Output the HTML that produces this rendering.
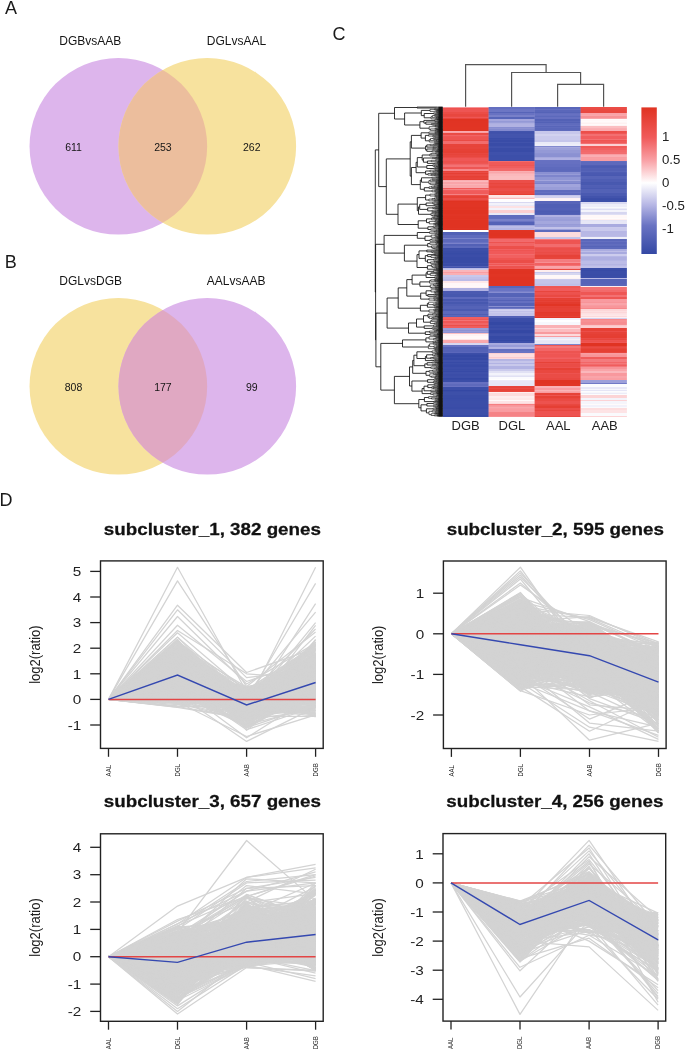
<!DOCTYPE html><html><head><meta charset="utf-8"><style>html,body{margin:0;padding:0;background:#fff;overflow:hidden}svg{display:block;filter:blur(0.3px)}text{font-family:"Liberation Sans", sans-serif}</style></head><body>
<svg width="685" height="1051" viewBox="0 0 685 1051">
<rect width="685" height="1051" fill="#fff"/>
<text x="4.9" y="14" font-size="18" fill="#1a1a1a" text-anchor="start" font-weight="normal" >A</text>
<text x="4.8" y="268" font-size="18" fill="#1a1a1a" text-anchor="start" font-weight="normal" >B</text>
<text x="332.5" y="40.2" font-size="18" fill="#1a1a1a" text-anchor="start" font-weight="normal" >C</text>
<text x="-0.5" y="505.9" font-size="18" fill="#1a1a1a" text-anchor="start" font-weight="normal" >D</text>
<ellipse cx="118.35" cy="146.3" rx="88.8" ry="88.3" fill="#ddb5ec"/>
<ellipse cx="207.3" cy="146.3" rx="88.8" ry="88.3" fill="#f7e29e"/>
<clipPath id="cp146"><ellipse cx="118.35" cy="146.3" rx="88.8" ry="88.3"/></clipPath>
<ellipse cx="207.3" cy="146.3" rx="88.8" ry="88.3" fill="#ecbe9d" clip-path="url(#cp146)"/>
<text x="59.3" y="45.10000000000001" font-size="12" fill="#151515" text-anchor="start" font-weight="normal" >DGBvsAAB</text>
<text x="206.8" y="45.10000000000001" font-size="12" fill="#151515" text-anchor="start" font-weight="normal" >DGLvsAAL</text>
<text x="73.5" y="150.9" font-size="10.5" fill="#151515" text-anchor="middle" font-weight="normal" >611</text>
<text x="162.9" y="150.9" font-size="10.5" fill="#151515" text-anchor="middle" font-weight="normal" >253</text>
<text x="251.8" y="150.9" font-size="10.5" fill="#151515" text-anchor="middle" font-weight="normal" >262</text>
<ellipse cx="118.35" cy="386.3" rx="88.8" ry="88.3" fill="#f7e29e"/>
<ellipse cx="207.3" cy="386.3" rx="88.8" ry="88.3" fill="#ddb5ec"/>
<clipPath id="cp386"><ellipse cx="118.35" cy="386.3" rx="88.8" ry="88.3"/></clipPath>
<ellipse cx="207.3" cy="386.3" rx="88.8" ry="88.3" fill="#e0a8c2" clip-path="url(#cp386)"/>
<text x="59.3" y="285.1" font-size="12" fill="#151515" text-anchor="start" font-weight="normal" >DGLvsDGB</text>
<text x="206.8" y="285.1" font-size="12" fill="#151515" text-anchor="start" font-weight="normal" >AALvsAAB</text>
<text x="73.5" y="390.90000000000003" font-size="10.5" fill="#151515" text-anchor="middle" font-weight="normal" >808</text>
<text x="162.9" y="390.90000000000003" font-size="10.5" fill="#151515" text-anchor="middle" font-weight="normal" >177</text>
<text x="251.8" y="390.90000000000003" font-size="10.5" fill="#151515" text-anchor="middle" font-weight="normal" >99</text>
<rect x="442.60" y="107" width="46.30" height="1" fill="rgb(248, 149, 153)"/>
<rect x="442.60" y="108" width="46.30" height="1" fill="rgb(237, 82, 78)"/>
<rect x="442.60" y="109" width="46.30" height="3" fill="rgb(238, 85, 83)"/>
<rect x="442.60" y="112" width="46.30" height="2" fill="rgb(235, 77, 71)"/>
<rect x="442.60" y="114" width="46.30" height="2" fill="rgb(232, 71, 63)"/>
<rect x="442.60" y="116" width="46.30" height="1" fill="rgb(233, 74, 67)"/>
<rect x="442.60" y="117" width="46.30" height="1" fill="rgb(238, 86, 84)"/>
<rect x="442.60" y="118" width="46.30" height="1" fill="rgb(231, 69, 60)"/>
<rect x="442.60" y="119" width="46.30" height="2" fill="rgb(224, 51, 34)"/>
<rect x="442.60" y="121" width="46.30" height="2" fill="rgb(224, 52, 36)"/>
<rect x="442.60" y="123" width="46.30" height="3" fill="rgb(225, 52, 36)"/>
<rect x="442.60" y="126" width="46.30" height="1" fill="rgb(225, 52, 36)"/>
<rect x="442.60" y="127" width="46.30" height="2" fill="rgb(225, 53, 36)"/>
<rect x="442.60" y="129" width="46.30" height="1" fill="rgb(225, 53, 36)"/>
<rect x="442.60" y="130" width="46.30" height="1" fill="rgb(224, 51, 34)"/>
<rect x="442.60" y="131" width="46.30" height="1" fill="rgb(250, 170, 174)"/>
<rect x="442.60" y="132" width="46.30" height="1" fill="rgb(249, 160, 165)"/>
<rect x="442.60" y="133" width="46.30" height="1" fill="rgb(234, 75, 68)"/>
<rect x="442.60" y="134" width="46.30" height="1" fill="rgb(235, 77, 72)"/>
<rect x="442.60" y="135" width="46.30" height="1" fill="rgb(241, 100, 100)"/>
<rect x="442.60" y="136" width="46.30" height="1" fill="rgb(239, 87, 86)"/>
<rect x="442.60" y="137" width="46.30" height="3" fill="rgb(238, 85, 82)"/>
<rect x="442.60" y="140" width="46.30" height="1" fill="rgb(234, 75, 69)"/>
<rect x="442.60" y="141" width="46.30" height="3" fill="rgb(242, 108, 109)"/>
<rect x="442.60" y="144" width="46.30" height="2" fill="rgb(231, 68, 59)"/>
<rect x="442.60" y="146" width="46.30" height="1" fill="rgb(231, 67, 57)"/>
<rect x="442.60" y="147" width="46.30" height="1" fill="rgb(231, 69, 60)"/>
<rect x="442.60" y="148" width="46.30" height="1" fill="rgb(231, 68, 59)"/>
<rect x="442.60" y="149" width="46.30" height="2" fill="rgb(230, 65, 54)"/>
<rect x="442.60" y="151" width="46.30" height="2" fill="rgb(229, 64, 52)"/>
<rect x="442.60" y="153" width="46.30" height="1" fill="rgb(232, 71, 63)"/>
<rect x="442.60" y="154" width="46.30" height="1" fill="rgb(231, 68, 58)"/>
<rect x="442.60" y="155" width="46.30" height="2" fill="rgb(232, 71, 63)"/>
<rect x="442.60" y="157" width="46.30" height="1" fill="rgb(235, 78, 73)"/>
<rect x="442.60" y="158" width="46.30" height="3" fill="rgb(239, 87, 86)"/>
<rect x="442.60" y="161" width="46.30" height="1" fill="rgb(237, 82, 78)"/>
<rect x="442.60" y="162" width="46.30" height="1" fill="rgb(237, 83, 79)"/>
<rect x="442.60" y="163" width="46.30" height="1" fill="rgb(238, 86, 84)"/>
<rect x="442.60" y="164" width="46.30" height="1" fill="rgb(241, 101, 102)"/>
<rect x="442.60" y="165" width="46.30" height="2" fill="rgb(243, 114, 116)"/>
<rect x="442.60" y="167" width="46.30" height="2" fill="rgb(238, 86, 84)"/>
<rect x="442.60" y="169" width="46.30" height="2" fill="rgb(246, 137, 140)"/>
<rect x="442.60" y="171" width="46.30" height="1" fill="rgb(231, 68, 58)"/>
<rect x="442.60" y="172" width="46.30" height="1" fill="rgb(234, 75, 69)"/>
<rect x="442.60" y="173" width="46.30" height="1" fill="rgb(229, 63, 52)"/>
<rect x="442.60" y="174" width="46.30" height="2" fill="rgb(233, 72, 64)"/>
<rect x="442.60" y="176" width="46.30" height="1" fill="rgb(229, 64, 52)"/>
<rect x="442.60" y="177" width="46.30" height="1" fill="rgb(230, 66, 55)"/>
<rect x="442.60" y="178" width="46.30" height="1" fill="rgb(231, 68, 59)"/>
<rect x="442.60" y="179" width="46.30" height="1" fill="rgb(229, 64, 53)"/>
<rect x="442.60" y="180" width="46.30" height="1" fill="rgb(250, 173, 177)"/>
<rect x="442.60" y="181" width="46.30" height="1" fill="rgb(251, 184, 188)"/>
<rect x="442.60" y="182" width="46.30" height="2" fill="rgb(249, 164, 169)"/>
<rect x="442.60" y="184" width="46.30" height="1" fill="rgb(250, 178, 182)"/>
<rect x="442.60" y="185" width="46.30" height="3" fill="rgb(249, 168, 172)"/>
<rect x="442.60" y="188" width="46.30" height="1" fill="rgb(240, 91, 91)"/>
<rect x="442.60" y="189" width="46.30" height="1" fill="rgb(245, 128, 130)"/>
<rect x="442.60" y="190" width="46.30" height="1" fill="rgb(241, 95, 96)"/>
<rect x="442.60" y="191" width="46.30" height="3" fill="rgb(240, 91, 91)"/>
<rect x="442.60" y="194" width="46.30" height="1" fill="rgb(245, 129, 131)"/>
<rect x="442.60" y="195" width="46.30" height="1" fill="rgb(234, 75, 69)"/>
<rect x="442.60" y="196" width="46.30" height="2" fill="rgb(230, 65, 54)"/>
<rect x="442.60" y="198" width="46.30" height="2" fill="rgb(234, 77, 71)"/>
<rect x="442.60" y="200" width="46.30" height="1" fill="rgb(229, 64, 53)"/>
<rect x="442.60" y="201" width="46.30" height="1" fill="rgb(224, 51, 34)"/>
<rect x="442.60" y="202" width="46.30" height="2" fill="rgb(225, 53, 36)"/>
<rect x="442.60" y="204" width="46.30" height="3" fill="rgb(225, 53, 37)"/>
<rect x="442.60" y="207" width="46.30" height="2" fill="rgb(224, 52, 35)"/>
<rect x="442.60" y="209" width="46.30" height="1" fill="rgb(225, 53, 36)"/>
<rect x="442.60" y="210" width="46.30" height="3" fill="rgb(224, 51, 34)"/>
<rect x="442.60" y="213" width="46.30" height="1" fill="rgb(224, 51, 34)"/>
<rect x="442.60" y="214" width="46.30" height="2" fill="rgb(225, 53, 37)"/>
<rect x="442.60" y="216" width="46.30" height="2" fill="rgb(224, 52, 35)"/>
<rect x="442.60" y="218" width="46.30" height="1" fill="rgb(224, 51, 34)"/>
<rect x="442.60" y="219" width="46.30" height="1" fill="rgb(225, 53, 36)"/>
<rect x="442.60" y="220" width="46.30" height="2" fill="rgb(224, 51, 34)"/>
<rect x="442.60" y="222" width="46.30" height="2" fill="rgb(224, 51, 34)"/>
<rect x="442.60" y="224" width="46.30" height="2" fill="rgb(224, 51, 34)"/>
<rect x="442.60" y="226" width="46.30" height="1" fill="rgb(224, 51, 34)"/>
<rect x="442.60" y="227" width="46.30" height="1" fill="rgb(224, 51, 34)"/>
<rect x="442.60" y="228" width="46.30" height="1" fill="rgb(225, 53, 37)"/>
<rect x="442.60" y="229" width="46.30" height="1" fill="rgb(224, 51, 34)"/>
<rect x="442.60" y="230" width="46.30" height="2" fill="rgb(255, 255, 255)"/>
<rect x="442.60" y="232" width="46.30" height="1" fill="rgb(81, 96, 181)"/>
<rect x="442.60" y="233" width="46.30" height="2" fill="rgb(83, 97, 182)"/>
<rect x="442.60" y="235" width="46.30" height="2" fill="rgb(95, 107, 189)"/>
<rect x="442.60" y="237" width="46.30" height="1" fill="rgb(95, 107, 189)"/>
<rect x="442.60" y="238" width="46.30" height="1" fill="rgb(123, 131, 203)"/>
<rect x="442.60" y="239" width="46.30" height="3" fill="rgb(94, 106, 188)"/>
<rect x="442.60" y="242" width="46.30" height="1" fill="rgb(104, 114, 194)"/>
<rect x="442.60" y="243" width="46.30" height="1" fill="rgb(122, 129, 202)"/>
<rect x="442.60" y="244" width="46.30" height="2" fill="rgb(83, 97, 182)"/>
<rect x="442.60" y="246" width="46.30" height="2" fill="rgb(92, 105, 187)"/>
<rect x="442.60" y="248" width="46.30" height="1" fill="rgb(59, 77, 168)"/>
<rect x="442.60" y="249" width="46.30" height="2" fill="rgb(61, 79, 169)"/>
<rect x="442.60" y="251" width="46.30" height="2" fill="rgb(58, 77, 167)"/>
<rect x="442.60" y="253" width="46.30" height="1" fill="rgb(55, 75, 166)"/>
<rect x="442.60" y="254" width="46.30" height="1" fill="rgb(57, 76, 167)"/>
<rect x="442.60" y="255" width="46.30" height="2" fill="rgb(59, 77, 168)"/>
<rect x="442.60" y="257" width="46.30" height="1" fill="rgb(56, 75, 166)"/>
<rect x="442.60" y="258" width="46.30" height="3" fill="rgb(56, 75, 166)"/>
<rect x="442.60" y="261" width="46.30" height="2" fill="rgb(56, 75, 166)"/>
<rect x="442.60" y="263" width="46.30" height="1" fill="rgb(61, 79, 169)"/>
<rect x="442.60" y="264" width="46.30" height="2" fill="rgb(57, 76, 167)"/>
<rect x="442.60" y="266" width="46.30" height="1" fill="rgb(82, 96, 181)"/>
<rect x="442.60" y="267" width="46.30" height="1" fill="rgb(65, 83, 172)"/>
<rect x="442.60" y="268" width="46.30" height="1" fill="rgb(187, 187, 231)"/>
<rect x="442.60" y="269" width="46.30" height="1" fill="rgb(200, 200, 235)"/>
<rect x="442.60" y="270" width="46.30" height="2" fill="rgb(250, 182, 186)"/>
<rect x="442.60" y="272" width="46.30" height="1" fill="rgb(249, 158, 163)"/>
<rect x="442.60" y="273" width="46.30" height="2" fill="rgb(250, 175, 179)"/>
<rect x="442.60" y="275" width="46.30" height="2" fill="rgb(200, 200, 235)"/>
<rect x="442.60" y="277" width="46.30" height="2" fill="rgb(193, 193, 233)"/>
<rect x="442.60" y="279" width="46.30" height="2" fill="rgb(187, 187, 231)"/>
<rect x="442.60" y="281" width="46.30" height="2" fill="rgb(254, 232, 234)"/>
<rect x="442.60" y="283" width="46.30" height="3" fill="rgb(255, 247, 248)"/>
<rect x="442.60" y="286" width="46.30" height="1" fill="rgb(255, 249, 250)"/>
<rect x="442.60" y="287" width="46.30" height="1" fill="rgb(254, 242, 243)"/>
<rect x="442.60" y="288" width="46.30" height="3" fill="rgb(176, 177, 226)"/>
<rect x="442.60" y="291" width="46.30" height="3" fill="rgb(75, 90, 177)"/>
<rect x="442.60" y="294" width="46.30" height="3" fill="rgb(71, 88, 175)"/>
<rect x="442.60" y="297" width="46.30" height="2" fill="rgb(94, 106, 189)"/>
<rect x="442.60" y="299" width="46.30" height="1" fill="rgb(72, 88, 176)"/>
<rect x="442.60" y="300" width="46.30" height="1" fill="rgb(73, 89, 176)"/>
<rect x="442.60" y="301" width="46.30" height="1" fill="rgb(82, 96, 182)"/>
<rect x="442.60" y="302" width="46.30" height="2" fill="rgb(71, 88, 175)"/>
<rect x="442.60" y="304" width="46.30" height="2" fill="rgb(79, 94, 180)"/>
<rect x="442.60" y="306" width="46.30" height="3" fill="rgb(85, 99, 183)"/>
<rect x="442.60" y="309" width="46.30" height="2" fill="rgb(75, 91, 178)"/>
<rect x="442.60" y="311" width="46.30" height="3" fill="rgb(92, 105, 188)"/>
<rect x="442.60" y="314" width="46.30" height="1" fill="rgb(79, 94, 180)"/>
<rect x="442.60" y="315" width="46.30" height="1" fill="rgb(91, 104, 187)"/>
<rect x="442.60" y="316" width="46.30" height="1" fill="rgb(87, 101, 185)"/>
<rect x="442.60" y="317" width="46.30" height="2" fill="rgb(241, 95, 96)"/>
<rect x="442.60" y="319" width="46.30" height="1" fill="rgb(239, 87, 86)"/>
<rect x="442.60" y="320" width="46.30" height="1" fill="rgb(243, 115, 117)"/>
<rect x="442.60" y="321" width="46.30" height="2" fill="rgb(239, 88, 87)"/>
<rect x="442.60" y="323" width="46.30" height="2" fill="rgb(241, 101, 102)"/>
<rect x="442.60" y="325" width="46.30" height="1" fill="rgb(235, 79, 74)"/>
<rect x="442.60" y="326" width="46.30" height="2" fill="rgb(240, 93, 93)"/>
<rect x="442.60" y="328" width="46.30" height="2" fill="rgb(154, 158, 216)"/>
<rect x="442.60" y="330" width="46.30" height="1" fill="rgb(139, 145, 210)"/>
<rect x="442.60" y="331" width="46.30" height="1" fill="rgb(150, 154, 215)"/>
<rect x="442.60" y="332" width="46.30" height="1" fill="rgb(140, 146, 210)"/>
<rect x="442.60" y="333" width="46.30" height="1" fill="rgb(251, 191, 194)"/>
<rect x="442.60" y="334" width="46.30" height="2" fill="rgb(254, 242, 243)"/>
<rect x="442.60" y="336" width="46.30" height="3" fill="rgb(255, 248, 248)"/>
<rect x="442.60" y="339" width="46.30" height="1" fill="rgb(253, 229, 230)"/>
<rect x="442.60" y="340" width="46.30" height="2" fill="rgb(250, 169, 173)"/>
<rect x="442.60" y="342" width="46.30" height="1" fill="rgb(249, 167, 171)"/>
<rect x="442.60" y="343" width="46.30" height="2" fill="rgb(215, 215, 241)"/>
<rect x="442.60" y="345" width="46.30" height="2" fill="rgb(102, 113, 193)"/>
<rect x="442.60" y="347" width="46.30" height="2" fill="rgb(81, 96, 181)"/>
<rect x="442.60" y="349" width="46.30" height="3" fill="rgb(84, 98, 183)"/>
<rect x="442.60" y="352" width="46.30" height="1" fill="rgb(91, 103, 187)"/>
<rect x="442.60" y="353" width="46.30" height="1" fill="rgb(60, 78, 168)"/>
<rect x="442.60" y="354" width="46.30" height="1" fill="rgb(57, 76, 167)"/>
<rect x="442.60" y="355" width="46.30" height="2" fill="rgb(52, 72, 164)"/>
<rect x="442.60" y="357" width="46.30" height="1" fill="rgb(57, 76, 167)"/>
<rect x="442.60" y="358" width="46.30" height="1" fill="rgb(53, 73, 165)"/>
<rect x="442.60" y="359" width="46.30" height="1" fill="rgb(53, 73, 165)"/>
<rect x="442.60" y="360" width="46.30" height="2" fill="rgb(62, 80, 170)"/>
<rect x="442.60" y="362" width="46.30" height="1" fill="rgb(55, 74, 166)"/>
<rect x="442.60" y="363" width="46.30" height="1" fill="rgb(60, 79, 169)"/>
<rect x="442.60" y="364" width="46.30" height="1" fill="rgb(57, 76, 167)"/>
<rect x="442.60" y="365" width="46.30" height="2" fill="rgb(55, 74, 166)"/>
<rect x="442.60" y="367" width="46.30" height="2" fill="rgb(60, 78, 169)"/>
<rect x="442.60" y="369" width="46.30" height="1" fill="rgb(57, 76, 167)"/>
<rect x="442.60" y="370" width="46.30" height="1" fill="rgb(59, 78, 168)"/>
<rect x="442.60" y="371" width="46.30" height="1" fill="rgb(55, 74, 166)"/>
<rect x="442.60" y="372" width="46.30" height="2" fill="rgb(62, 80, 170)"/>
<rect x="442.60" y="374" width="46.30" height="2" fill="rgb(59, 77, 168)"/>
<rect x="442.60" y="376" width="46.30" height="2" fill="rgb(61, 79, 169)"/>
<rect x="442.60" y="378" width="46.30" height="1" fill="rgb(52, 72, 164)"/>
<rect x="442.60" y="379" width="46.30" height="1" fill="rgb(55, 74, 166)"/>
<rect x="442.60" y="380" width="46.30" height="2" fill="rgb(59, 78, 168)"/>
<rect x="442.60" y="382" width="46.30" height="2" fill="rgb(102, 112, 193)"/>
<rect x="442.60" y="384" width="46.30" height="2" fill="rgb(94, 106, 188)"/>
<rect x="442.60" y="386" width="46.30" height="1" fill="rgb(104, 114, 194)"/>
<rect x="442.60" y="387" width="46.30" height="3" fill="rgb(60, 79, 169)"/>
<rect x="442.60" y="390" width="46.30" height="1" fill="rgb(52, 72, 164)"/>
<rect x="442.60" y="391" width="46.30" height="1" fill="rgb(58, 77, 167)"/>
<rect x="442.60" y="392" width="46.30" height="3" fill="rgb(61, 80, 169)"/>
<rect x="442.60" y="395" width="46.30" height="3" fill="rgb(58, 77, 167)"/>
<rect x="442.60" y="398" width="46.30" height="1" fill="rgb(56, 76, 167)"/>
<rect x="442.60" y="399" width="46.30" height="2" fill="rgb(58, 77, 168)"/>
<rect x="442.60" y="401" width="46.30" height="3" fill="rgb(59, 78, 168)"/>
<rect x="442.60" y="404" width="46.30" height="3" fill="rgb(59, 77, 168)"/>
<rect x="442.60" y="407" width="46.30" height="2" fill="rgb(57, 76, 167)"/>
<rect x="442.60" y="409" width="46.30" height="3" fill="rgb(61, 79, 169)"/>
<rect x="442.60" y="412" width="46.30" height="1" fill="rgb(61, 79, 169)"/>
<rect x="442.60" y="413" width="46.30" height="2" fill="rgb(60, 79, 169)"/>
<rect x="442.60" y="415" width="46.30" height="1" fill="rgb(55, 75, 166)"/>
<rect x="442.60" y="416" width="46.30" height="1" fill="rgb(59, 78, 168)"/>
<rect x="488.60" y="107" width="46.30" height="2" fill="rgb(100, 111, 192)"/>
<rect x="488.60" y="109" width="46.30" height="3" fill="rgb(108, 118, 196)"/>
<rect x="488.60" y="112" width="46.30" height="1" fill="rgb(87, 100, 184)"/>
<rect x="488.60" y="113" width="46.30" height="2" fill="rgb(104, 114, 194)"/>
<rect x="488.60" y="115" width="46.30" height="2" fill="rgb(120, 128, 201)"/>
<rect x="488.60" y="117" width="46.30" height="2" fill="rgb(87, 101, 185)"/>
<rect x="488.60" y="119" width="46.30" height="2" fill="rgb(164, 166, 221)"/>
<rect x="488.60" y="121" width="46.30" height="1" fill="rgb(148, 153, 214)"/>
<rect x="488.60" y="122" width="46.30" height="1" fill="rgb(155, 159, 217)"/>
<rect x="488.60" y="123" width="46.30" height="1" fill="rgb(172, 174, 224)"/>
<rect x="488.60" y="124" width="46.30" height="3" fill="rgb(177, 178, 226)"/>
<rect x="488.60" y="127" width="46.30" height="1" fill="rgb(136, 142, 209)"/>
<rect x="488.60" y="128" width="46.30" height="1" fill="rgb(142, 147, 211)"/>
<rect x="488.60" y="129" width="46.30" height="2" fill="rgb(131, 138, 207)"/>
<rect x="488.60" y="131" width="46.30" height="1" fill="rgb(66, 84, 172)"/>
<rect x="488.60" y="132" width="46.30" height="1" fill="rgb(64, 81, 171)"/>
<rect x="488.60" y="133" width="46.30" height="1" fill="rgb(65, 82, 171)"/>
<rect x="488.60" y="134" width="46.30" height="1" fill="rgb(68, 85, 173)"/>
<rect x="488.60" y="135" width="46.30" height="3" fill="rgb(67, 84, 173)"/>
<rect x="488.60" y="138" width="46.30" height="1" fill="rgb(58, 77, 168)"/>
<rect x="488.60" y="139" width="46.30" height="1" fill="rgb(61, 79, 169)"/>
<rect x="488.60" y="140" width="46.30" height="1" fill="rgb(57, 76, 167)"/>
<rect x="488.60" y="141" width="46.30" height="1" fill="rgb(57, 76, 167)"/>
<rect x="488.60" y="142" width="46.30" height="1" fill="rgb(64, 82, 171)"/>
<rect x="488.60" y="143" width="46.30" height="3" fill="rgb(57, 76, 167)"/>
<rect x="488.60" y="146" width="46.30" height="1" fill="rgb(63, 81, 170)"/>
<rect x="488.60" y="147" width="46.30" height="1" fill="rgb(65, 83, 172)"/>
<rect x="488.60" y="148" width="46.30" height="2" fill="rgb(58, 77, 167)"/>
<rect x="488.60" y="150" width="46.30" height="2" fill="rgb(57, 76, 167)"/>
<rect x="488.60" y="152" width="46.30" height="3" fill="rgb(63, 81, 171)"/>
<rect x="488.60" y="155" width="46.30" height="2" fill="rgb(60, 79, 169)"/>
<rect x="488.60" y="157" width="46.30" height="3" fill="rgb(61, 79, 169)"/>
<rect x="488.60" y="160" width="46.30" height="1" fill="rgb(58, 77, 167)"/>
<rect x="488.60" y="161" width="46.30" height="1" fill="rgb(242, 108, 109)"/>
<rect x="488.60" y="162" width="46.30" height="3" fill="rgb(240, 90, 89)"/>
<rect x="488.60" y="165" width="46.30" height="1" fill="rgb(238, 86, 84)"/>
<rect x="488.60" y="166" width="46.30" height="2" fill="rgb(240, 94, 94)"/>
<rect x="488.60" y="168" width="46.30" height="1" fill="rgb(242, 104, 105)"/>
<rect x="488.60" y="169" width="46.30" height="2" fill="rgb(242, 105, 106)"/>
<rect x="488.60" y="171" width="46.30" height="1" fill="rgb(250, 174, 178)"/>
<rect x="488.60" y="172" width="46.30" height="1" fill="rgb(249, 166, 170)"/>
<rect x="488.60" y="173" width="46.30" height="1" fill="rgb(250, 176, 180)"/>
<rect x="488.60" y="174" width="46.30" height="2" fill="rgb(251, 184, 188)"/>
<rect x="488.60" y="176" width="46.30" height="3" fill="rgb(251, 189, 192)"/>
<rect x="488.60" y="179" width="46.30" height="1" fill="rgb(251, 187, 190)"/>
<rect x="488.60" y="180" width="46.30" height="3" fill="rgb(235, 78, 73)"/>
<rect x="488.60" y="183" width="46.30" height="1" fill="rgb(232, 70, 61)"/>
<rect x="488.60" y="184" width="46.30" height="2" fill="rgb(234, 74, 68)"/>
<rect x="488.60" y="186" width="46.30" height="2" fill="rgb(232, 70, 61)"/>
<rect x="488.60" y="188" width="46.30" height="1" fill="rgb(235, 77, 71)"/>
<rect x="488.60" y="189" width="46.30" height="2" fill="rgb(235, 78, 73)"/>
<rect x="488.60" y="191" width="46.30" height="3" fill="rgb(233, 72, 64)"/>
<rect x="488.60" y="194" width="46.30" height="1" fill="rgb(228, 62, 49)"/>
<rect x="488.60" y="195" width="46.30" height="2" fill="rgb(253, 229, 230)"/>
<rect x="488.60" y="197" width="46.30" height="1" fill="rgb(253, 219, 220)"/>
<rect x="488.60" y="198" width="46.30" height="1" fill="rgb(251, 186, 190)"/>
<rect x="488.60" y="199" width="46.30" height="3" fill="rgb(254, 254, 255)"/>
<rect x="488.60" y="202" width="46.30" height="1" fill="rgb(216, 216, 241)"/>
<rect x="488.60" y="203" width="46.30" height="2" fill="rgb(242, 242, 250)"/>
<rect x="488.60" y="205" width="46.30" height="1" fill="rgb(232, 232, 247)"/>
<rect x="488.60" y="206" width="46.30" height="2" fill="rgb(253, 225, 227)"/>
<rect x="488.60" y="208" width="46.30" height="2" fill="rgb(242, 242, 250)"/>
<rect x="488.60" y="210" width="46.30" height="3" fill="rgb(252, 207, 209)"/>
<rect x="488.60" y="213" width="46.30" height="2" fill="rgb(233, 233, 247)"/>
<rect x="488.60" y="215" width="46.30" height="3" fill="rgb(96, 108, 190)"/>
<rect x="488.60" y="218" width="46.30" height="1" fill="rgb(98, 110, 191)"/>
<rect x="488.60" y="219" width="46.30" height="2" fill="rgb(121, 129, 202)"/>
<rect x="488.60" y="221" width="46.30" height="1" fill="rgb(105, 115, 195)"/>
<rect x="488.60" y="222" width="46.30" height="2" fill="rgb(85, 98, 183)"/>
<rect x="488.60" y="224" width="46.30" height="1" fill="rgb(84, 98, 182)"/>
<rect x="488.60" y="225" width="46.30" height="1" fill="rgb(160, 163, 219)"/>
<rect x="488.60" y="226" width="46.30" height="2" fill="rgb(188, 188, 231)"/>
<rect x="488.60" y="228" width="46.30" height="2" fill="rgb(179, 180, 228)"/>
<rect x="488.60" y="230" width="46.30" height="1" fill="rgb(225, 53, 37)"/>
<rect x="488.60" y="231" width="46.30" height="2" fill="rgb(224, 52, 35)"/>
<rect x="488.60" y="233" width="46.30" height="2" fill="rgb(224, 51, 34)"/>
<rect x="488.60" y="235" width="46.30" height="1" fill="rgb(224, 51, 34)"/>
<rect x="488.60" y="236" width="46.30" height="1" fill="rgb(225, 52, 36)"/>
<rect x="488.60" y="237" width="46.30" height="1" fill="rgb(225, 53, 36)"/>
<rect x="488.60" y="238" width="46.30" height="1" fill="rgb(236, 80, 76)"/>
<rect x="488.60" y="239" width="46.30" height="2" fill="rgb(242, 105, 106)"/>
<rect x="488.60" y="241" width="46.30" height="1" fill="rgb(242, 107, 109)"/>
<rect x="488.60" y="242" width="46.30" height="1" fill="rgb(237, 83, 80)"/>
<rect x="488.60" y="243" width="46.30" height="3" fill="rgb(241, 101, 101)"/>
<rect x="488.60" y="246" width="46.30" height="2" fill="rgb(236, 80, 75)"/>
<rect x="488.60" y="248" width="46.30" height="1" fill="rgb(235, 79, 74)"/>
<rect x="488.60" y="249" width="46.30" height="1" fill="rgb(241, 96, 97)"/>
<rect x="488.60" y="250" width="46.30" height="1" fill="rgb(238, 84, 82)"/>
<rect x="488.60" y="251" width="46.30" height="3" fill="rgb(240, 89, 89)"/>
<rect x="488.60" y="254" width="46.30" height="1" fill="rgb(242, 107, 108)"/>
<rect x="488.60" y="255" width="46.30" height="3" fill="rgb(241, 96, 96)"/>
<rect x="488.60" y="258" width="46.30" height="2" fill="rgb(238, 85, 82)"/>
<rect x="488.60" y="260" width="46.30" height="3" fill="rgb(235, 77, 72)"/>
<rect x="488.60" y="263" width="46.30" height="1" fill="rgb(242, 103, 103)"/>
<rect x="488.60" y="264" width="46.30" height="1" fill="rgb(239, 87, 85)"/>
<rect x="488.60" y="265" width="46.30" height="1" fill="rgb(242, 109, 110)"/>
<rect x="488.60" y="266" width="46.30" height="2" fill="rgb(237, 82, 78)"/>
<rect x="488.60" y="268" width="46.30" height="1" fill="rgb(238, 86, 84)"/>
<rect x="488.60" y="269" width="46.30" height="1" fill="rgb(225, 52, 36)"/>
<rect x="488.60" y="270" width="46.30" height="1" fill="rgb(224, 52, 35)"/>
<rect x="488.60" y="271" width="46.30" height="3" fill="rgb(224, 51, 34)"/>
<rect x="488.60" y="274" width="46.30" height="2" fill="rgb(225, 53, 36)"/>
<rect x="488.60" y="276" width="46.30" height="1" fill="rgb(225, 52, 36)"/>
<rect x="488.60" y="277" width="46.30" height="1" fill="rgb(224, 51, 34)"/>
<rect x="488.60" y="278" width="46.30" height="3" fill="rgb(224, 51, 34)"/>
<rect x="488.60" y="281" width="46.30" height="3" fill="rgb(224, 51, 34)"/>
<rect x="488.60" y="284" width="46.30" height="1" fill="rgb(224, 51, 34)"/>
<rect x="488.60" y="285" width="46.30" height="1" fill="rgb(224, 51, 34)"/>
<rect x="488.60" y="286" width="46.30" height="2" fill="rgb(89, 102, 186)"/>
<rect x="488.60" y="288" width="46.30" height="1" fill="rgb(105, 115, 195)"/>
<rect x="488.60" y="289" width="46.30" height="2" fill="rgb(106, 116, 196)"/>
<rect x="488.60" y="291" width="46.30" height="1" fill="rgb(119, 127, 201)"/>
<rect x="488.60" y="292" width="46.30" height="1" fill="rgb(134, 140, 208)"/>
<rect x="488.60" y="293" width="46.30" height="2" fill="rgb(86, 100, 184)"/>
<rect x="488.60" y="295" width="46.30" height="2" fill="rgb(85, 99, 183)"/>
<rect x="488.60" y="297" width="46.30" height="1" fill="rgb(113, 122, 198)"/>
<rect x="488.60" y="298" width="46.30" height="2" fill="rgb(99, 110, 191)"/>
<rect x="488.60" y="300" width="46.30" height="1" fill="rgb(85, 98, 183)"/>
<rect x="488.60" y="301" width="46.30" height="2" fill="rgb(101, 112, 193)"/>
<rect x="488.60" y="303" width="46.30" height="3" fill="rgb(85, 99, 183)"/>
<rect x="488.60" y="306" width="46.30" height="1" fill="rgb(138, 144, 209)"/>
<rect x="488.60" y="307" width="46.30" height="1" fill="rgb(90, 103, 186)"/>
<rect x="488.60" y="308" width="46.30" height="1" fill="rgb(112, 122, 198)"/>
<rect x="488.60" y="309" width="46.30" height="1" fill="rgb(202, 202, 236)"/>
<rect x="488.60" y="310" width="46.30" height="1" fill="rgb(209, 209, 239)"/>
<rect x="488.60" y="311" width="46.30" height="1" fill="rgb(194, 194, 233)"/>
<rect x="488.60" y="312" width="46.30" height="1" fill="rgb(203, 203, 236)"/>
<rect x="488.60" y="313" width="46.30" height="3" fill="rgb(196, 196, 234)"/>
<rect x="488.60" y="316" width="46.30" height="1" fill="rgb(82, 96, 182)"/>
<rect x="488.60" y="317" width="46.30" height="1" fill="rgb(82, 97, 182)"/>
<rect x="488.60" y="318" width="46.30" height="2" fill="rgb(60, 79, 169)"/>
<rect x="488.60" y="320" width="46.30" height="2" fill="rgb(59, 77, 168)"/>
<rect x="488.60" y="322" width="46.30" height="3" fill="rgb(52, 72, 164)"/>
<rect x="488.60" y="325" width="46.30" height="1" fill="rgb(59, 78, 168)"/>
<rect x="488.60" y="326" width="46.30" height="1" fill="rgb(58, 77, 167)"/>
<rect x="488.60" y="327" width="46.30" height="1" fill="rgb(55, 74, 166)"/>
<rect x="488.60" y="328" width="46.30" height="1" fill="rgb(61, 79, 169)"/>
<rect x="488.60" y="329" width="46.30" height="1" fill="rgb(61, 79, 169)"/>
<rect x="488.60" y="330" width="46.30" height="1" fill="rgb(53, 72, 164)"/>
<rect x="488.60" y="331" width="46.30" height="2" fill="rgb(52, 72, 164)"/>
<rect x="488.60" y="333" width="46.30" height="1" fill="rgb(60, 78, 168)"/>
<rect x="488.60" y="334" width="46.30" height="2" fill="rgb(63, 81, 170)"/>
<rect x="488.60" y="336" width="46.30" height="3" fill="rgb(54, 74, 165)"/>
<rect x="488.60" y="339" width="46.30" height="1" fill="rgb(57, 76, 167)"/>
<rect x="488.60" y="340" width="46.30" height="1" fill="rgb(52, 72, 164)"/>
<rect x="488.60" y="341" width="46.30" height="1" fill="rgb(61, 79, 169)"/>
<rect x="488.60" y="342" width="46.30" height="1" fill="rgb(62, 80, 170)"/>
<rect x="488.60" y="343" width="46.30" height="1" fill="rgb(169, 171, 223)"/>
<rect x="488.60" y="344" width="46.30" height="1" fill="rgb(168, 170, 222)"/>
<rect x="488.60" y="345" width="46.30" height="2" fill="rgb(152, 156, 216)"/>
<rect x="488.60" y="347" width="46.30" height="1" fill="rgb(179, 180, 227)"/>
<rect x="488.60" y="348" width="46.30" height="1" fill="rgb(176, 177, 226)"/>
<rect x="488.60" y="349" width="46.30" height="2" fill="rgb(99, 110, 192)"/>
<rect x="488.60" y="351" width="46.30" height="2" fill="rgb(105, 115, 195)"/>
<rect x="488.60" y="353" width="46.30" height="1" fill="rgb(252, 207, 210)"/>
<rect x="488.60" y="354" width="46.30" height="3" fill="rgb(253, 222, 224)"/>
<rect x="488.60" y="357" width="46.30" height="1" fill="rgb(252, 203, 206)"/>
<rect x="488.60" y="358" width="46.30" height="1" fill="rgb(253, 215, 218)"/>
<rect x="488.60" y="359" width="46.30" height="1" fill="rgb(179, 180, 227)"/>
<rect x="488.60" y="360" width="46.30" height="1" fill="rgb(181, 182, 228)"/>
<rect x="488.60" y="361" width="46.30" height="2" fill="rgb(197, 197, 234)"/>
<rect x="488.60" y="363" width="46.30" height="1" fill="rgb(178, 179, 227)"/>
<rect x="488.60" y="364" width="46.30" height="2" fill="rgb(200, 200, 235)"/>
<rect x="488.60" y="366" width="46.30" height="2" fill="rgb(178, 179, 227)"/>
<rect x="488.60" y="368" width="46.30" height="1" fill="rgb(178, 179, 227)"/>
<rect x="488.60" y="369" width="46.30" height="1" fill="rgb(202, 202, 236)"/>
<rect x="488.60" y="370" width="46.30" height="1" fill="rgb(203, 203, 236)"/>
<rect x="488.60" y="371" width="46.30" height="2" fill="rgb(225, 225, 244)"/>
<rect x="488.60" y="373" width="46.30" height="2" fill="rgb(243, 243, 251)"/>
<rect x="488.60" y="375" width="46.30" height="1" fill="rgb(233, 233, 247)"/>
<rect x="488.60" y="376" width="46.30" height="1" fill="rgb(225, 225, 244)"/>
<rect x="488.60" y="377" width="46.30" height="2" fill="rgb(251, 251, 254)"/>
<rect x="488.60" y="379" width="46.30" height="1" fill="rgb(255, 254, 254)"/>
<rect x="488.60" y="380" width="46.30" height="1" fill="rgb(236, 236, 248)"/>
<rect x="488.60" y="381" width="46.30" height="2" fill="rgb(232, 232, 247)"/>
<rect x="488.60" y="383" width="46.30" height="3" fill="rgb(231, 231, 246)"/>
<rect x="488.60" y="386" width="46.30" height="2" fill="rgb(231, 69, 60)"/>
<rect x="488.60" y="388" width="46.30" height="1" fill="rgb(234, 76, 70)"/>
<rect x="488.60" y="389" width="46.30" height="2" fill="rgb(231, 67, 57)"/>
<rect x="488.60" y="391" width="46.30" height="1" fill="rgb(233, 72, 64)"/>
<rect x="488.60" y="392" width="46.30" height="1" fill="rgb(254, 238, 239)"/>
<rect x="488.60" y="393" width="46.30" height="3" fill="rgb(253, 219, 220)"/>
<rect x="488.60" y="396" width="46.30" height="2" fill="rgb(254, 237, 238)"/>
<rect x="488.60" y="398" width="46.30" height="2" fill="rgb(254, 232, 233)"/>
<rect x="488.60" y="400" width="46.30" height="1" fill="rgb(255, 250, 250)"/>
<rect x="488.60" y="401" width="46.30" height="2" fill="rgb(253, 228, 230)"/>
<rect x="488.60" y="403" width="46.30" height="1" fill="rgb(253, 217, 219)"/>
<rect x="488.60" y="404" width="46.30" height="1" fill="rgb(245, 127, 130)"/>
<rect x="488.60" y="405" width="46.30" height="1" fill="rgb(248, 150, 155)"/>
<rect x="488.60" y="406" width="46.30" height="1" fill="rgb(248, 155, 160)"/>
<rect x="488.60" y="407" width="46.30" height="1" fill="rgb(249, 167, 172)"/>
<rect x="488.60" y="408" width="46.30" height="1" fill="rgb(249, 160, 165)"/>
<rect x="488.60" y="409" width="46.30" height="2" fill="rgb(249, 157, 162)"/>
<rect x="488.60" y="411" width="46.30" height="1" fill="rgb(249, 156, 161)"/>
<rect x="488.60" y="412" width="46.30" height="1" fill="rgb(245, 132, 135)"/>
<rect x="488.60" y="413" width="46.30" height="3" fill="rgb(245, 131, 134)"/>
<rect x="488.60" y="416" width="46.30" height="1" fill="rgb(247, 143, 147)"/>
<rect x="534.60" y="107" width="46.30" height="2" fill="rgb(89, 102, 186)"/>
<rect x="534.60" y="109" width="46.30" height="1" fill="rgb(101, 112, 193)"/>
<rect x="534.60" y="110" width="46.30" height="2" fill="rgb(90, 103, 186)"/>
<rect x="534.60" y="112" width="46.30" height="1" fill="rgb(85, 99, 183)"/>
<rect x="534.60" y="113" width="46.30" height="1" fill="rgb(99, 110, 191)"/>
<rect x="534.60" y="114" width="46.30" height="1" fill="rgb(103, 113, 194)"/>
<rect x="534.60" y="115" width="46.30" height="1" fill="rgb(100, 111, 192)"/>
<rect x="534.60" y="116" width="46.30" height="1" fill="rgb(92, 105, 188)"/>
<rect x="534.60" y="117" width="46.30" height="2" fill="rgb(102, 112, 193)"/>
<rect x="534.60" y="119" width="46.30" height="2" fill="rgb(83, 97, 182)"/>
<rect x="534.60" y="121" width="46.30" height="1" fill="rgb(90, 103, 186)"/>
<rect x="534.60" y="122" width="46.30" height="1" fill="rgb(83, 97, 182)"/>
<rect x="534.60" y="123" width="46.30" height="2" fill="rgb(95, 107, 189)"/>
<rect x="534.60" y="125" width="46.30" height="1" fill="rgb(100, 111, 192)"/>
<rect x="534.60" y="126" width="46.30" height="1" fill="rgb(88, 101, 185)"/>
<rect x="534.60" y="127" width="46.30" height="1" fill="rgb(95, 107, 189)"/>
<rect x="534.60" y="128" width="46.30" height="2" fill="rgb(90, 103, 186)"/>
<rect x="534.60" y="130" width="46.30" height="1" fill="rgb(94, 106, 188)"/>
<rect x="534.60" y="131" width="46.30" height="3" fill="rgb(199, 199, 235)"/>
<rect x="534.60" y="134" width="46.30" height="2" fill="rgb(210, 210, 239)"/>
<rect x="534.60" y="136" width="46.30" height="3" fill="rgb(202, 202, 236)"/>
<rect x="534.60" y="139" width="46.30" height="1" fill="rgb(202, 202, 236)"/>
<rect x="534.60" y="140" width="46.30" height="2" fill="rgb(198, 198, 235)"/>
<rect x="534.60" y="142" width="46.30" height="2" fill="rgb(234, 234, 247)"/>
<rect x="534.60" y="144" width="46.30" height="2" fill="rgb(238, 238, 249)"/>
<rect x="534.60" y="146" width="46.30" height="1" fill="rgb(131, 138, 207)"/>
<rect x="534.60" y="147" width="46.30" height="1" fill="rgb(166, 168, 222)"/>
<rect x="534.60" y="148" width="46.30" height="2" fill="rgb(156, 160, 217)"/>
<rect x="534.60" y="150" width="46.30" height="3" fill="rgb(148, 153, 214)"/>
<rect x="534.60" y="153" width="46.30" height="1" fill="rgb(141, 147, 211)"/>
<rect x="534.60" y="154" width="46.30" height="3" fill="rgb(139, 145, 210)"/>
<rect x="534.60" y="157" width="46.30" height="1" fill="rgb(165, 167, 221)"/>
<rect x="534.60" y="158" width="46.30" height="2" fill="rgb(175, 176, 226)"/>
<rect x="534.60" y="160" width="46.30" height="1" fill="rgb(103, 113, 194)"/>
<rect x="534.60" y="161" width="46.30" height="3" fill="rgb(102, 112, 193)"/>
<rect x="534.60" y="164" width="46.30" height="3" fill="rgb(99, 110, 192)"/>
<rect x="534.60" y="167" width="46.30" height="2" fill="rgb(94, 106, 189)"/>
<rect x="534.60" y="169" width="46.30" height="2" fill="rgb(93, 105, 188)"/>
<rect x="534.60" y="171" width="46.30" height="1" fill="rgb(95, 107, 189)"/>
<rect x="534.60" y="172" width="46.30" height="2" fill="rgb(138, 144, 210)"/>
<rect x="534.60" y="174" width="46.30" height="1" fill="rgb(150, 155, 215)"/>
<rect x="534.60" y="175" width="46.30" height="2" fill="rgb(126, 133, 204)"/>
<rect x="534.60" y="177" width="46.30" height="3" fill="rgb(143, 149, 212)"/>
<rect x="534.60" y="180" width="46.30" height="1" fill="rgb(162, 165, 220)"/>
<rect x="534.60" y="181" width="46.30" height="2" fill="rgb(133, 140, 207)"/>
<rect x="534.60" y="183" width="46.30" height="1" fill="rgb(123, 130, 203)"/>
<rect x="534.60" y="184" width="46.30" height="3" fill="rgb(161, 164, 220)"/>
<rect x="534.60" y="187" width="46.30" height="3" fill="rgb(153, 157, 216)"/>
<rect x="534.60" y="190" width="46.30" height="1" fill="rgb(95, 107, 189)"/>
<rect x="534.60" y="191" width="46.30" height="1" fill="rgb(95, 107, 189)"/>
<rect x="534.60" y="192" width="46.30" height="1" fill="rgb(101, 112, 193)"/>
<rect x="534.60" y="193" width="46.30" height="2" fill="rgb(94, 106, 188)"/>
<rect x="534.60" y="195" width="46.30" height="1" fill="rgb(197, 197, 234)"/>
<rect x="534.60" y="196" width="46.30" height="2" fill="rgb(210, 210, 239)"/>
<rect x="534.60" y="198" width="46.30" height="1" fill="rgb(254, 242, 242)"/>
<rect x="534.60" y="199" width="46.30" height="2" fill="rgb(254, 245, 246)"/>
<rect x="534.60" y="201" width="46.30" height="3" fill="rgb(89, 102, 185)"/>
<rect x="534.60" y="204" width="46.30" height="3" fill="rgb(81, 96, 181)"/>
<rect x="534.60" y="207" width="46.30" height="1" fill="rgb(81, 96, 181)"/>
<rect x="534.60" y="208" width="46.30" height="2" fill="rgb(84, 98, 183)"/>
<rect x="534.60" y="210" width="46.30" height="1" fill="rgb(79, 94, 180)"/>
<rect x="534.60" y="211" width="46.30" height="1" fill="rgb(76, 91, 178)"/>
<rect x="534.60" y="212" width="46.30" height="1" fill="rgb(77, 93, 179)"/>
<rect x="534.60" y="213" width="46.30" height="1" fill="rgb(77, 92, 179)"/>
<rect x="534.60" y="214" width="46.30" height="1" fill="rgb(84, 98, 182)"/>
<rect x="534.60" y="215" width="46.30" height="2" fill="rgb(176, 177, 226)"/>
<rect x="534.60" y="217" width="46.30" height="2" fill="rgb(157, 161, 218)"/>
<rect x="534.60" y="219" width="46.30" height="2" fill="rgb(153, 157, 216)"/>
<rect x="534.60" y="221" width="46.30" height="3" fill="rgb(164, 167, 221)"/>
<rect x="534.60" y="224" width="46.30" height="1" fill="rgb(151, 155, 215)"/>
<rect x="534.60" y="225" width="46.30" height="2" fill="rgb(155, 159, 217)"/>
<rect x="534.60" y="227" width="46.30" height="2" fill="rgb(194, 194, 233)"/>
<rect x="534.60" y="229" width="46.30" height="1" fill="rgb(157, 161, 218)"/>
<rect x="534.60" y="230" width="46.30" height="2" fill="rgb(94, 106, 189)"/>
<rect x="534.60" y="232" width="46.30" height="1" fill="rgb(253, 218, 220)"/>
<rect x="534.60" y="233" width="46.30" height="2" fill="rgb(253, 219, 221)"/>
<rect x="534.60" y="235" width="46.30" height="2" fill="rgb(253, 219, 221)"/>
<rect x="534.60" y="237" width="46.30" height="1" fill="rgb(196, 196, 234)"/>
<rect x="534.60" y="238" width="46.30" height="1" fill="rgb(194, 194, 233)"/>
<rect x="534.60" y="239" width="46.30" height="1" fill="rgb(244, 120, 123)"/>
<rect x="534.60" y="240" width="46.30" height="2" fill="rgb(238, 84, 82)"/>
<rect x="534.60" y="242" width="46.30" height="2" fill="rgb(238, 85, 82)"/>
<rect x="534.60" y="244" width="46.30" height="3" fill="rgb(242, 108, 109)"/>
<rect x="534.60" y="247" width="46.30" height="1" fill="rgb(238, 86, 84)"/>
<rect x="534.60" y="248" width="46.30" height="2" fill="rgb(235, 79, 74)"/>
<rect x="534.60" y="250" width="46.30" height="2" fill="rgb(236, 81, 77)"/>
<rect x="534.60" y="252" width="46.30" height="1" fill="rgb(234, 76, 70)"/>
<rect x="534.60" y="253" width="46.30" height="1" fill="rgb(235, 79, 74)"/>
<rect x="534.60" y="254" width="46.30" height="1" fill="rgb(234, 76, 70)"/>
<rect x="534.60" y="255" width="46.30" height="2" fill="rgb(230, 66, 56)"/>
<rect x="534.60" y="257" width="46.30" height="2" fill="rgb(231, 69, 59)"/>
<rect x="534.60" y="259" width="46.30" height="1" fill="rgb(245, 128, 130)"/>
<rect x="534.60" y="260" width="46.30" height="2" fill="rgb(244, 124, 127)"/>
<rect x="534.60" y="262" width="46.30" height="1" fill="rgb(247, 143, 147)"/>
<rect x="534.60" y="263" width="46.30" height="2" fill="rgb(241, 97, 98)"/>
<rect x="534.60" y="265" width="46.30" height="1" fill="rgb(243, 112, 114)"/>
<rect x="534.60" y="266" width="46.30" height="2" fill="rgb(249, 165, 170)"/>
<rect x="534.60" y="268" width="46.30" height="1" fill="rgb(248, 154, 158)"/>
<rect x="534.60" y="269" width="46.30" height="1" fill="rgb(233, 74, 66)"/>
<rect x="534.60" y="270" width="46.30" height="2" fill="rgb(254, 238, 239)"/>
<rect x="534.60" y="272" width="46.30" height="1" fill="rgb(198, 198, 235)"/>
<rect x="534.60" y="273" width="46.30" height="2" fill="rgb(214, 214, 240)"/>
<rect x="534.60" y="275" width="46.30" height="3" fill="rgb(255, 248, 248)"/>
<rect x="534.60" y="278" width="46.30" height="1" fill="rgb(254, 243, 244)"/>
<rect x="534.60" y="279" width="46.30" height="1" fill="rgb(201, 201, 236)"/>
<rect x="534.60" y="280" width="46.30" height="3" fill="rgb(196, 196, 234)"/>
<rect x="534.60" y="283" width="46.30" height="1" fill="rgb(194, 194, 233)"/>
<rect x="534.60" y="284" width="46.30" height="1" fill="rgb(190, 190, 232)"/>
<rect x="534.60" y="285" width="46.30" height="1" fill="rgb(193, 193, 233)"/>
<rect x="534.60" y="286" width="46.30" height="1" fill="rgb(239, 87, 86)"/>
<rect x="534.60" y="287" width="46.30" height="1" fill="rgb(238, 86, 84)"/>
<rect x="534.60" y="288" width="46.30" height="3" fill="rgb(240, 91, 92)"/>
<rect x="534.60" y="291" width="46.30" height="1" fill="rgb(232, 70, 62)"/>
<rect x="534.60" y="292" width="46.30" height="2" fill="rgb(237, 82, 78)"/>
<rect x="534.60" y="294" width="46.30" height="1" fill="rgb(236, 80, 76)"/>
<rect x="534.60" y="295" width="46.30" height="2" fill="rgb(233, 73, 66)"/>
<rect x="534.60" y="297" width="46.30" height="1" fill="rgb(240, 90, 90)"/>
<rect x="534.60" y="298" width="46.30" height="1" fill="rgb(229, 64, 53)"/>
<rect x="534.60" y="299" width="46.30" height="1" fill="rgb(230, 66, 55)"/>
<rect x="534.60" y="300" width="46.30" height="1" fill="rgb(228, 61, 48)"/>
<rect x="534.60" y="301" width="46.30" height="1" fill="rgb(230, 66, 55)"/>
<rect x="534.60" y="302" width="46.30" height="2" fill="rgb(227, 59, 46)"/>
<rect x="534.60" y="304" width="46.30" height="2" fill="rgb(225, 53, 37)"/>
<rect x="534.60" y="306" width="46.30" height="1" fill="rgb(230, 65, 54)"/>
<rect x="534.60" y="307" width="46.30" height="1" fill="rgb(229, 63, 51)"/>
<rect x="534.60" y="308" width="46.30" height="2" fill="rgb(230, 66, 55)"/>
<rect x="534.60" y="310" width="46.30" height="2" fill="rgb(230, 65, 54)"/>
<rect x="534.60" y="312" width="46.30" height="1" fill="rgb(226, 57, 43)"/>
<rect x="534.60" y="313" width="46.30" height="3" fill="rgb(227, 59, 45)"/>
<rect x="534.60" y="316" width="46.30" height="1" fill="rgb(230, 65, 54)"/>
<rect x="534.60" y="317" width="46.30" height="1" fill="rgb(225, 54, 39)"/>
<rect x="534.60" y="318" width="46.30" height="2" fill="rgb(243, 243, 251)"/>
<rect x="534.60" y="320" width="46.30" height="2" fill="rgb(254, 254, 255)"/>
<rect x="534.60" y="322" width="46.30" height="3" fill="rgb(247, 247, 252)"/>
<rect x="534.60" y="325" width="46.30" height="3" fill="rgb(250, 176, 180)"/>
<rect x="534.60" y="328" width="46.30" height="1" fill="rgb(253, 217, 219)"/>
<rect x="534.60" y="329" width="46.30" height="3" fill="rgb(251, 188, 192)"/>
<rect x="534.60" y="332" width="46.30" height="2" fill="rgb(248, 154, 158)"/>
<rect x="534.60" y="334" width="46.30" height="2" fill="rgb(253, 217, 219)"/>
<rect x="534.60" y="336" width="46.30" height="1" fill="rgb(248, 155, 160)"/>
<rect x="534.60" y="337" width="46.30" height="1" fill="rgb(230, 230, 246)"/>
<rect x="534.60" y="338" width="46.30" height="1" fill="rgb(232, 232, 247)"/>
<rect x="534.60" y="339" width="46.30" height="1" fill="rgb(242, 242, 250)"/>
<rect x="534.60" y="340" width="46.30" height="1" fill="rgb(232, 232, 247)"/>
<rect x="534.60" y="341" width="46.30" height="1" fill="rgb(229, 229, 246)"/>
<rect x="534.60" y="342" width="46.30" height="2" fill="rgb(231, 231, 246)"/>
<rect x="534.60" y="344" width="46.30" height="1" fill="rgb(125, 132, 204)"/>
<rect x="534.60" y="345" width="46.30" height="1" fill="rgb(238, 86, 85)"/>
<rect x="534.60" y="346" width="46.30" height="2" fill="rgb(244, 118, 120)"/>
<rect x="534.60" y="348" width="46.30" height="3" fill="rgb(242, 102, 103)"/>
<rect x="534.60" y="351" width="46.30" height="2" fill="rgb(237, 84, 81)"/>
<rect x="534.60" y="353" width="46.30" height="1" fill="rgb(240, 89, 88)"/>
<rect x="534.60" y="354" width="46.30" height="3" fill="rgb(238, 85, 83)"/>
<rect x="534.60" y="357" width="46.30" height="1" fill="rgb(240, 90, 90)"/>
<rect x="534.60" y="358" width="46.30" height="1" fill="rgb(241, 97, 98)"/>
<rect x="534.60" y="359" width="46.30" height="1" fill="rgb(237, 83, 80)"/>
<rect x="534.60" y="360" width="46.30" height="2" fill="rgb(238, 84, 81)"/>
<rect x="534.60" y="362" width="46.30" height="1" fill="rgb(230, 66, 56)"/>
<rect x="534.60" y="363" width="46.30" height="1" fill="rgb(235, 79, 74)"/>
<rect x="534.60" y="364" width="46.30" height="3" fill="rgb(234, 76, 70)"/>
<rect x="534.60" y="367" width="46.30" height="1" fill="rgb(236, 81, 78)"/>
<rect x="534.60" y="368" width="46.30" height="2" fill="rgb(230, 65, 54)"/>
<rect x="534.60" y="370" width="46.30" height="3" fill="rgb(233, 72, 64)"/>
<rect x="534.60" y="373" width="46.30" height="1" fill="rgb(237, 82, 79)"/>
<rect x="534.60" y="374" width="46.30" height="3" fill="rgb(234, 76, 70)"/>
<rect x="534.60" y="377" width="46.30" height="1" fill="rgb(234, 76, 71)"/>
<rect x="534.60" y="378" width="46.30" height="2" fill="rgb(233, 72, 65)"/>
<rect x="534.60" y="380" width="46.30" height="2" fill="rgb(224, 51, 34)"/>
<rect x="534.60" y="382" width="46.30" height="1" fill="rgb(224, 51, 34)"/>
<rect x="534.60" y="383" width="46.30" height="1" fill="rgb(224, 52, 36)"/>
<rect x="534.60" y="384" width="46.30" height="2" fill="rgb(225, 53, 37)"/>
<rect x="534.60" y="386" width="46.30" height="2" fill="rgb(250, 177, 181)"/>
<rect x="534.60" y="388" width="46.30" height="2" fill="rgb(249, 157, 162)"/>
<rect x="534.60" y="390" width="46.30" height="1" fill="rgb(250, 182, 185)"/>
<rect x="534.60" y="391" width="46.30" height="1" fill="rgb(249, 166, 170)"/>
<rect x="534.60" y="392" width="46.30" height="1" fill="rgb(248, 156, 160)"/>
<rect x="534.60" y="393" width="46.30" height="1" fill="rgb(231, 67, 57)"/>
<rect x="534.60" y="394" width="46.30" height="1" fill="rgb(230, 67, 56)"/>
<rect x="534.60" y="395" width="46.30" height="1" fill="rgb(237, 84, 81)"/>
<rect x="534.60" y="396" width="46.30" height="2" fill="rgb(230, 65, 54)"/>
<rect x="534.60" y="398" width="46.30" height="1" fill="rgb(233, 72, 64)"/>
<rect x="534.60" y="399" width="46.30" height="2" fill="rgb(234, 75, 68)"/>
<rect x="534.60" y="401" width="46.30" height="3" fill="rgb(237, 82, 78)"/>
<rect x="534.60" y="404" width="46.30" height="1" fill="rgb(233, 72, 64)"/>
<rect x="534.60" y="405" width="46.30" height="1" fill="rgb(231, 69, 59)"/>
<rect x="534.60" y="406" width="46.30" height="2" fill="rgb(229, 63, 52)"/>
<rect x="534.60" y="408" width="46.30" height="2" fill="rgb(235, 78, 73)"/>
<rect x="534.60" y="410" width="46.30" height="1" fill="rgb(232, 71, 63)"/>
<rect x="534.60" y="411" width="46.30" height="3" fill="rgb(237, 83, 80)"/>
<rect x="534.60" y="414" width="46.30" height="2" fill="rgb(237, 84, 81)"/>
<rect x="534.60" y="416" width="46.30" height="1" fill="rgb(233, 73, 65)"/>
<rect x="580.60" y="107" width="46.30" height="2" fill="rgb(234, 76, 70)"/>
<rect x="580.60" y="109" width="46.30" height="2" fill="rgb(233, 73, 65)"/>
<rect x="580.60" y="111" width="46.30" height="2" fill="rgb(232, 72, 64)"/>
<rect x="580.60" y="113" width="46.30" height="2" fill="rgb(249, 163, 168)"/>
<rect x="580.60" y="115" width="46.30" height="1" fill="rgb(249, 167, 171)"/>
<rect x="580.60" y="116" width="46.30" height="1" fill="rgb(247, 147, 151)"/>
<rect x="580.60" y="117" width="46.30" height="1" fill="rgb(247, 147, 151)"/>
<rect x="580.60" y="118" width="46.30" height="1" fill="rgb(249, 167, 171)"/>
<rect x="580.60" y="119" width="46.30" height="1" fill="rgb(255, 253, 253)"/>
<rect x="580.60" y="120" width="46.30" height="1" fill="rgb(255, 248, 248)"/>
<rect x="580.60" y="121" width="46.30" height="1" fill="rgb(255, 250, 250)"/>
<rect x="580.60" y="122" width="46.30" height="1" fill="rgb(254, 246, 246)"/>
<rect x="580.60" y="123" width="46.30" height="1" fill="rgb(254, 241, 241)"/>
<rect x="580.60" y="124" width="46.30" height="1" fill="rgb(255, 250, 250)"/>
<rect x="580.60" y="125" width="46.30" height="1" fill="rgb(254, 243, 243)"/>
<rect x="580.60" y="126" width="46.30" height="2" fill="rgb(251, 190, 193)"/>
<rect x="580.60" y="128" width="46.30" height="1" fill="rgb(250, 177, 181)"/>
<rect x="580.60" y="129" width="46.30" height="2" fill="rgb(250, 173, 177)"/>
<rect x="580.60" y="131" width="46.30" height="2" fill="rgb(236, 79, 74)"/>
<rect x="580.60" y="133" width="46.30" height="1" fill="rgb(239, 86, 85)"/>
<rect x="580.60" y="134" width="46.30" height="2" fill="rgb(243, 111, 112)"/>
<rect x="580.60" y="136" width="46.30" height="3" fill="rgb(241, 94, 95)"/>
<rect x="580.60" y="139" width="46.30" height="1" fill="rgb(243, 113, 114)"/>
<rect x="580.60" y="140" width="46.30" height="1" fill="rgb(238, 84, 82)"/>
<rect x="580.60" y="141" width="46.30" height="2" fill="rgb(239, 89, 88)"/>
<rect x="580.60" y="143" width="46.30" height="1" fill="rgb(243, 111, 113)"/>
<rect x="580.60" y="144" width="46.30" height="2" fill="rgb(252, 208, 211)"/>
<rect x="580.60" y="146" width="46.30" height="2" fill="rgb(240, 89, 88)"/>
<rect x="580.60" y="148" width="46.30" height="2" fill="rgb(241, 97, 98)"/>
<rect x="580.60" y="150" width="46.30" height="2" fill="rgb(242, 105, 106)"/>
<rect x="580.60" y="152" width="46.30" height="2" fill="rgb(242, 109, 111)"/>
<rect x="580.60" y="154" width="46.30" height="1" fill="rgb(249, 157, 162)"/>
<rect x="580.60" y="155" width="46.30" height="2" fill="rgb(250, 174, 179)"/>
<rect x="580.60" y="157" width="46.30" height="1" fill="rgb(249, 157, 162)"/>
<rect x="580.60" y="158" width="46.30" height="1" fill="rgb(249, 159, 163)"/>
<rect x="580.60" y="159" width="46.30" height="2" fill="rgb(249, 157, 162)"/>
<rect x="580.60" y="161" width="46.30" height="1" fill="rgb(97, 108, 190)"/>
<rect x="580.60" y="162" width="46.30" height="3" fill="rgb(93, 105, 188)"/>
<rect x="580.60" y="165" width="46.30" height="1" fill="rgb(80, 94, 180)"/>
<rect x="580.60" y="166" width="46.30" height="1" fill="rgb(75, 91, 178)"/>
<rect x="580.60" y="167" width="46.30" height="1" fill="rgb(76, 92, 178)"/>
<rect x="580.60" y="168" width="46.30" height="1" fill="rgb(83, 97, 182)"/>
<rect x="580.60" y="169" width="46.30" height="2" fill="rgb(82, 96, 181)"/>
<rect x="580.60" y="171" width="46.30" height="1" fill="rgb(87, 101, 185)"/>
<rect x="580.60" y="172" width="46.30" height="1" fill="rgb(77, 92, 179)"/>
<rect x="580.60" y="173" width="46.30" height="2" fill="rgb(74, 89, 177)"/>
<rect x="580.60" y="175" width="46.30" height="1" fill="rgb(72, 88, 176)"/>
<rect x="580.60" y="176" width="46.30" height="1" fill="rgb(87, 100, 184)"/>
<rect x="580.60" y="177" width="46.30" height="2" fill="rgb(86, 100, 184)"/>
<rect x="580.60" y="179" width="46.30" height="3" fill="rgb(79, 94, 180)"/>
<rect x="580.60" y="182" width="46.30" height="1" fill="rgb(72, 88, 175)"/>
<rect x="580.60" y="183" width="46.30" height="2" fill="rgb(72, 89, 176)"/>
<rect x="580.60" y="185" width="46.30" height="1" fill="rgb(81, 95, 181)"/>
<rect x="580.60" y="186" width="46.30" height="2" fill="rgb(79, 94, 180)"/>
<rect x="580.60" y="188" width="46.30" height="1" fill="rgb(74, 90, 177)"/>
<rect x="580.60" y="189" width="46.30" height="1" fill="rgb(84, 98, 183)"/>
<rect x="580.60" y="190" width="46.30" height="2" fill="rgb(83, 98, 182)"/>
<rect x="580.60" y="192" width="46.30" height="1" fill="rgb(84, 98, 183)"/>
<rect x="580.60" y="193" width="46.30" height="3" fill="rgb(74, 90, 177)"/>
<rect x="580.60" y="196" width="46.30" height="2" fill="rgb(66, 83, 172)"/>
<rect x="580.60" y="198" width="46.30" height="1" fill="rgb(60, 78, 168)"/>
<rect x="580.60" y="199" width="46.30" height="1" fill="rgb(58, 77, 168)"/>
<rect x="580.60" y="200" width="46.30" height="2" fill="rgb(60, 79, 169)"/>
<rect x="580.60" y="202" width="46.30" height="2" fill="rgb(218, 218, 242)"/>
<rect x="580.60" y="204" width="46.30" height="3" fill="rgb(237, 237, 249)"/>
<rect x="580.60" y="207" width="46.30" height="1" fill="rgb(248, 248, 252)"/>
<rect x="580.60" y="208" width="46.30" height="1" fill="rgb(236, 236, 248)"/>
<rect x="580.60" y="209" width="46.30" height="1" fill="rgb(221, 221, 243)"/>
<rect x="580.60" y="210" width="46.30" height="1" fill="rgb(244, 244, 251)"/>
<rect x="580.60" y="211" width="46.30" height="1" fill="rgb(243, 243, 251)"/>
<rect x="580.60" y="212" width="46.30" height="2" fill="rgb(214, 214, 240)"/>
<rect x="580.60" y="214" width="46.30" height="1" fill="rgb(223, 223, 244)"/>
<rect x="580.60" y="215" width="46.30" height="3" fill="rgb(255, 248, 248)"/>
<rect x="580.60" y="218" width="46.30" height="1" fill="rgb(255, 251, 251)"/>
<rect x="580.60" y="219" width="46.30" height="1" fill="rgb(254, 240, 240)"/>
<rect x="580.60" y="220" width="46.30" height="1" fill="rgb(227, 227, 245)"/>
<rect x="580.60" y="221" width="46.30" height="3" fill="rgb(231, 231, 246)"/>
<rect x="580.60" y="224" width="46.30" height="2" fill="rgb(169, 171, 223)"/>
<rect x="580.60" y="226" width="46.30" height="1" fill="rgb(169, 171, 223)"/>
<rect x="580.60" y="227" width="46.30" height="1" fill="rgb(203, 203, 236)"/>
<rect x="580.60" y="228" width="46.30" height="3" fill="rgb(201, 201, 236)"/>
<rect x="580.60" y="231" width="46.30" height="2" fill="rgb(183, 183, 229)"/>
<rect x="580.60" y="233" width="46.30" height="2" fill="rgb(184, 184, 229)"/>
<rect x="580.60" y="235" width="46.30" height="1" fill="rgb(184, 184, 229)"/>
<rect x="580.60" y="236" width="46.30" height="1" fill="rgb(188, 188, 231)"/>
<rect x="580.60" y="237" width="46.30" height="2" fill="rgb(239, 239, 249)"/>
<rect x="580.60" y="239" width="46.30" height="2" fill="rgb(90, 103, 186)"/>
<rect x="580.60" y="241" width="46.30" height="1" fill="rgb(100, 111, 192)"/>
<rect x="580.60" y="242" width="46.30" height="2" fill="rgb(91, 103, 187)"/>
<rect x="580.60" y="244" width="46.30" height="1" fill="rgb(97, 109, 190)"/>
<rect x="580.60" y="245" width="46.30" height="1" fill="rgb(95, 107, 189)"/>
<rect x="580.60" y="246" width="46.30" height="1" fill="rgb(86, 100, 184)"/>
<rect x="580.60" y="247" width="46.30" height="2" fill="rgb(93, 106, 188)"/>
<rect x="580.60" y="249" width="46.30" height="2" fill="rgb(171, 173, 224)"/>
<rect x="580.60" y="251" width="46.30" height="1" fill="rgb(189, 189, 231)"/>
<rect x="580.60" y="252" width="46.30" height="2" fill="rgb(168, 170, 223)"/>
<rect x="580.60" y="254" width="46.30" height="2" fill="rgb(204, 204, 237)"/>
<rect x="580.60" y="256" width="46.30" height="1" fill="rgb(182, 183, 229)"/>
<rect x="580.60" y="257" width="46.30" height="3" fill="rgb(174, 175, 225)"/>
<rect x="580.60" y="260" width="46.30" height="1" fill="rgb(180, 181, 228)"/>
<rect x="580.60" y="261" width="46.30" height="3" fill="rgb(188, 188, 231)"/>
<rect x="580.60" y="264" width="46.30" height="1" fill="rgb(179, 180, 227)"/>
<rect x="580.60" y="265" width="46.30" height="1" fill="rgb(186, 186, 230)"/>
<rect x="580.60" y="266" width="46.30" height="2" fill="rgb(193, 193, 233)"/>
<rect x="580.60" y="268" width="46.30" height="2" fill="rgb(58, 77, 168)"/>
<rect x="580.60" y="270" width="46.30" height="1" fill="rgb(55, 74, 166)"/>
<rect x="580.60" y="271" width="46.30" height="3" fill="rgb(58, 77, 168)"/>
<rect x="580.60" y="274" width="46.30" height="2" fill="rgb(57, 76, 167)"/>
<rect x="580.60" y="276" width="46.30" height="2" fill="rgb(58, 77, 168)"/>
<rect x="580.60" y="278" width="46.30" height="1" fill="rgb(185, 185, 230)"/>
<rect x="580.60" y="279" width="46.30" height="2" fill="rgb(85, 99, 183)"/>
<rect x="580.60" y="281" width="46.30" height="3" fill="rgb(86, 99, 184)"/>
<rect x="580.60" y="284" width="46.30" height="2" fill="rgb(89, 102, 185)"/>
<rect x="580.60" y="286" width="46.30" height="1" fill="rgb(254, 237, 238)"/>
<rect x="580.60" y="287" width="46.30" height="3" fill="rgb(243, 113, 115)"/>
<rect x="580.60" y="290" width="46.30" height="2" fill="rgb(242, 106, 107)"/>
<rect x="580.60" y="292" width="46.30" height="2" fill="rgb(238, 86, 84)"/>
<rect x="580.60" y="294" width="46.30" height="1" fill="rgb(239, 87, 85)"/>
<rect x="580.60" y="295" width="46.30" height="2" fill="rgb(243, 112, 114)"/>
<rect x="580.60" y="297" width="46.30" height="2" fill="rgb(238, 85, 83)"/>
<rect x="580.60" y="299" width="46.30" height="3" fill="rgb(248, 154, 159)"/>
<rect x="580.60" y="302" width="46.30" height="1" fill="rgb(247, 148, 152)"/>
<rect x="580.60" y="303" width="46.30" height="2" fill="rgb(249, 164, 169)"/>
<rect x="580.60" y="305" width="46.30" height="1" fill="rgb(248, 155, 160)"/>
<rect x="580.60" y="306" width="46.30" height="2" fill="rgb(248, 150, 154)"/>
<rect x="580.60" y="308" width="46.30" height="1" fill="rgb(246, 136, 139)"/>
<rect x="580.60" y="309" width="46.30" height="2" fill="rgb(252, 214, 216)"/>
<rect x="580.60" y="311" width="46.30" height="1" fill="rgb(253, 223, 224)"/>
<rect x="580.60" y="312" width="46.30" height="1" fill="rgb(252, 215, 217)"/>
<rect x="580.60" y="313" width="46.30" height="1" fill="rgb(253, 225, 227)"/>
<rect x="580.60" y="314" width="46.30" height="1" fill="rgb(253, 228, 230)"/>
<rect x="580.60" y="315" width="46.30" height="1" fill="rgb(254, 232, 233)"/>
<rect x="580.60" y="316" width="46.30" height="1" fill="rgb(253, 218, 220)"/>
<rect x="580.60" y="317" width="46.30" height="1" fill="rgb(254, 239, 240)"/>
<rect x="580.60" y="318" width="46.30" height="1" fill="rgb(209, 209, 239)"/>
<rect x="580.60" y="319" width="46.30" height="1" fill="rgb(246, 136, 139)"/>
<rect x="580.60" y="320" width="46.30" height="2" fill="rgb(247, 145, 148)"/>
<rect x="580.60" y="322" width="46.30" height="2" fill="rgb(246, 140, 144)"/>
<rect x="580.60" y="324" width="46.30" height="1" fill="rgb(247, 144, 148)"/>
<rect x="580.60" y="325" width="46.30" height="1" fill="rgb(251, 196, 199)"/>
<rect x="580.60" y="326" width="46.30" height="2" fill="rgb(252, 206, 209)"/>
<rect x="580.60" y="328" width="46.30" height="3" fill="rgb(230, 65, 55)"/>
<rect x="580.60" y="331" width="46.30" height="1" fill="rgb(235, 77, 72)"/>
<rect x="580.60" y="332" width="46.30" height="2" fill="rgb(230, 66, 56)"/>
<rect x="580.60" y="334" width="46.30" height="2" fill="rgb(229, 63, 52)"/>
<rect x="580.60" y="336" width="46.30" height="2" fill="rgb(229, 62, 50)"/>
<rect x="580.60" y="338" width="46.30" height="1" fill="rgb(234, 76, 70)"/>
<rect x="580.60" y="339" width="46.30" height="1" fill="rgb(232, 70, 62)"/>
<rect x="580.60" y="340" width="46.30" height="1" fill="rgb(237, 83, 80)"/>
<rect x="580.60" y="341" width="46.30" height="1" fill="rgb(236, 81, 77)"/>
<rect x="580.60" y="342" width="46.30" height="1" fill="rgb(239, 87, 85)"/>
<rect x="580.60" y="343" width="46.30" height="2" fill="rgb(224, 51, 34)"/>
<rect x="580.60" y="345" width="46.30" height="1" fill="rgb(224, 51, 35)"/>
<rect x="580.60" y="346" width="46.30" height="1" fill="rgb(231, 68, 58)"/>
<rect x="580.60" y="347" width="46.30" height="1" fill="rgb(234, 74, 67)"/>
<rect x="580.60" y="348" width="46.30" height="1" fill="rgb(231, 69, 59)"/>
<rect x="580.60" y="349" width="46.30" height="3" fill="rgb(229, 63, 52)"/>
<rect x="580.60" y="352" width="46.30" height="1" fill="rgb(232, 71, 62)"/>
<rect x="580.60" y="353" width="46.30" height="1" fill="rgb(249, 157, 162)"/>
<rect x="580.60" y="354" width="46.30" height="1" fill="rgb(248, 153, 157)"/>
<rect x="580.60" y="355" width="46.30" height="2" fill="rgb(247, 148, 152)"/>
<rect x="580.60" y="357" width="46.30" height="2" fill="rgb(240, 92, 92)"/>
<rect x="580.60" y="359" width="46.30" height="3" fill="rgb(244, 123, 126)"/>
<rect x="580.60" y="362" width="46.30" height="1" fill="rgb(242, 103, 104)"/>
<rect x="580.60" y="363" width="46.30" height="1" fill="rgb(244, 120, 122)"/>
<rect x="580.60" y="364" width="46.30" height="1" fill="rgb(242, 106, 107)"/>
<rect x="580.60" y="365" width="46.30" height="1" fill="rgb(240, 93, 93)"/>
<rect x="580.60" y="366" width="46.30" height="1" fill="rgb(244, 118, 121)"/>
<rect x="580.60" y="367" width="46.30" height="2" fill="rgb(247, 147, 152)"/>
<rect x="580.60" y="369" width="46.30" height="2" fill="rgb(249, 164, 168)"/>
<rect x="580.60" y="371" width="46.30" height="2" fill="rgb(250, 183, 187)"/>
<rect x="580.60" y="373" width="46.30" height="3" fill="rgb(248, 152, 157)"/>
<rect x="580.60" y="376" width="46.30" height="2" fill="rgb(249, 164, 169)"/>
<rect x="580.60" y="378" width="46.30" height="2" fill="rgb(249, 158, 163)"/>
<rect x="580.60" y="380" width="46.30" height="3" fill="rgb(157, 160, 218)"/>
<rect x="580.60" y="383" width="46.30" height="1" fill="rgb(113, 122, 199)"/>
<rect x="580.60" y="384" width="46.30" height="3" fill="rgb(252, 252, 254)"/>
<rect x="580.60" y="387" width="46.30" height="2" fill="rgb(232, 232, 247)"/>
<rect x="580.60" y="389" width="46.30" height="1" fill="rgb(246, 246, 252)"/>
<rect x="580.60" y="390" width="46.30" height="1" fill="rgb(229, 229, 246)"/>
<rect x="580.60" y="391" width="46.30" height="1" fill="rgb(252, 252, 254)"/>
<rect x="580.60" y="392" width="46.30" height="1" fill="rgb(247, 247, 252)"/>
<rect x="580.60" y="393" width="46.30" height="1" fill="rgb(236, 236, 248)"/>
<rect x="580.60" y="394" width="46.30" height="1" fill="rgb(252, 252, 254)"/>
<rect x="580.60" y="395" width="46.30" height="3" fill="rgb(252, 212, 214)"/>
<rect x="580.60" y="398" width="46.30" height="2" fill="rgb(244, 244, 251)"/>
<rect x="580.60" y="400" width="46.30" height="1" fill="rgb(252, 210, 213)"/>
<rect x="580.60" y="401" width="46.30" height="3" fill="rgb(245, 245, 251)"/>
<rect x="580.60" y="404" width="46.30" height="1" fill="rgb(255, 251, 251)"/>
<rect x="580.60" y="405" width="46.30" height="2" fill="rgb(242, 242, 251)"/>
<rect x="580.60" y="407" width="46.30" height="1" fill="rgb(250, 250, 253)"/>
<rect x="580.60" y="408" width="46.30" height="2" fill="rgb(253, 221, 222)"/>
<rect x="580.60" y="410" width="46.30" height="3" fill="rgb(253, 227, 229)"/>
<rect x="580.60" y="413" width="46.30" height="3" fill="rgb(250, 250, 253)"/>
<rect x="580.60" y="416" width="46.30" height="1" fill="rgb(252, 212, 214)"/>
<g stroke="#555" stroke-width="1.2" fill="none">
<path d="M557.6 106.8 V84.3 H603.6 V106.8"/>
<path d="M511.6 106.8 V72.5 H580.6 V84.3"/>
<path d="M465.6 106.8 V64.6 H546.1 V72.5"/>
</g>
<defs><linearGradient id="dg" x1="0" x2="1" y1="0" y2="0"><stop offset="0" stop-color="#111" stop-opacity="0.2"/><stop offset="0.4" stop-color="#111"/><stop offset="1" stop-color="#111"/></linearGradient></defs>
<path d="M417.0 107.1L417.0 108.0M417.0 107.1L437.4 107.1M417.0 108.0L436.2 108.0M424.2 113.5L424.2 117.8M424.2 113.5L433.7 113.5M424.2 117.8L431.1 117.8M421.3 110.4L421.3 115.6M421.3 110.4L430.0 110.4M421.3 115.6L424.2 115.6M425.8 122.0L425.8 124.2M425.8 122.0L434.9 122.0M425.8 124.2L431.5 124.2M423.9 120.4L423.9 123.1M423.9 120.4L434.6 120.4M423.9 123.1L425.8 123.1M419.9 121.7L419.9 128.2M419.9 121.7L423.9 121.7M419.9 128.2L429.2 128.2M404.6 113.0L404.6 125.0M404.6 113.0L421.3 113.0M404.6 125.0L419.9 125.0M394.5 107.5L394.5 119.0M394.5 107.5L417.0 107.5M394.5 119.0L404.6 119.0M425.4 135.4L425.4 140.8M425.4 135.4L428.6 135.4M425.4 140.8L429.3 140.8M421.1 132.8L421.1 138.1M421.1 132.8L428.9 132.8M421.1 138.1L425.4 138.1M426.8 144.9L426.8 147.1M426.8 144.9L430.2 144.9M426.8 147.1L433.0 147.1M426.8 149.0L426.8 151.3M426.8 149.0L432.9 149.0M426.8 151.3L432.1 151.3M425.6 146.0L425.6 150.1M425.6 146.0L426.8 146.0M425.6 150.1L426.8 150.1M411.4 135.4L411.4 148.1M411.4 135.4L421.1 135.4M411.4 148.1L425.6 148.1M427.4 161.0L427.4 163.4M427.4 161.0L431.3 161.0M427.4 163.4L434.7 163.4M423.4 158.0L423.4 162.2M423.4 158.0L432.5 158.0M423.4 162.2L427.4 162.2M422.2 155.0L422.2 160.1M422.2 155.0L429.8 155.0M422.2 160.1L423.4 160.1M426.8 165.5L426.8 168.5M426.8 165.5L432.8 165.5M426.8 168.5L433.7 168.5M417.3 157.6L417.3 167.0M417.3 157.6L422.2 157.6M417.3 167.0L426.8 167.0M425.6 171.0L425.6 174.3M425.6 171.0L430.1 171.0M425.6 174.3L428.0 174.3M416.1 162.3L416.1 172.7M416.1 162.3L417.3 162.3M416.1 172.7L425.6 172.7M421.5 177.8L421.5 182.2M421.5 177.8L431.9 177.8M421.5 182.2L428.9 182.2M424.3 187.7L424.3 191.0M424.3 187.7L429.1 187.7M424.3 191.0L432.1 191.0M420.3 180.0L420.3 189.3M420.3 180.0L421.5 180.0M420.3 189.3L424.3 189.3M411.4 167.5L411.4 184.6M411.4 167.5L416.1 167.5M411.4 184.6L420.3 184.6M410.2 141.8L410.2 176.1M410.2 141.8L411.4 141.8M410.2 176.1L411.4 176.1M425.6 195.1L425.6 200.0M425.6 195.1L430.0 195.1M425.6 200.0L428.9 200.0M426.1 203.0L426.1 205.7M426.1 203.0L432.7 203.0M426.1 205.7L435.1 205.7M427.7 207.9L427.7 210.9M427.7 207.9L432.6 207.9M427.7 210.9L432.1 210.9M419.7 204.4L419.7 209.4M419.7 204.4L426.1 204.4M419.7 209.4L427.7 209.4M418.5 206.9L418.5 214.3M418.5 206.9L419.7 206.9M418.5 214.3L431.1 214.3M417.3 197.6L417.3 210.6M417.3 197.6L425.6 197.6M417.3 210.6L418.5 210.6M426.5 218.9L426.5 222.6M426.5 218.9L431.6 218.9M426.5 222.6L429.3 222.6M427.9 226.8L427.9 229.5M427.9 226.8L433.2 226.8M427.9 229.5L430.7 229.5M418.2 220.8L418.2 228.2M418.2 220.8L426.5 220.8M418.2 228.2L427.9 228.2M398.0 204.1L398.0 224.5M398.0 204.1L417.3 204.1M398.0 224.5L418.2 224.5M386.3 158.9L386.3 214.3M386.3 158.9L410.2 158.9M386.3 214.3L398.0 214.3M378.7 113.3L378.7 186.6M378.7 113.3L394.5 113.3M378.7 186.6L386.3 186.6M425.0 236.2L425.0 240.4M425.0 236.2L431.2 236.2M425.0 240.4L430.0 240.4M417.3 232.5L417.3 238.3M417.3 232.5L429.5 232.5M417.3 238.3L425.0 238.3M427.7 243.5L427.7 246.8M427.7 243.5L429.8 243.5M427.7 246.8L431.5 246.8M426.8 250.1L426.8 251.8M426.8 250.1L435.9 250.1M426.8 251.8L431.3 251.8M427.6 254.6L427.6 256.6M427.6 254.6L435.2 254.6M427.6 256.6L431.0 256.6M427.5 259.7L427.5 262.7M427.5 259.7L433.6 259.7M427.5 262.7L430.6 262.7M425.3 255.6L425.3 261.2M425.3 255.6L427.6 255.6M425.3 261.2L427.5 261.2M419.0 250.9L419.0 258.4M419.0 250.9L426.8 250.9M419.0 258.4L425.3 258.4M427.4 265.7L427.4 269.2M427.4 265.7L431.4 265.7M427.4 269.2L434.0 269.2M417.0 254.6L417.0 267.5M417.0 254.6L419.0 254.6M417.0 267.5L427.4 267.5M404.4 245.2L404.4 261.1M404.4 245.2L427.7 245.2M404.4 261.1L417.0 261.1M384.1 235.4L384.1 253.1M384.1 235.4L417.3 235.4M384.1 253.1L404.4 253.1M427.3 271.3L427.3 274.3M427.3 271.3L433.4 271.3M427.3 274.3L430.3 274.3M426.1 272.8L426.1 277.5M426.1 272.8L427.3 272.8M426.1 277.5L434.5 277.5M419.9 281.9L419.9 286.3M419.9 281.9L429.5 281.9M419.9 286.3L430.3 286.3M412.1 275.1L412.1 284.1M412.1 275.1L426.1 275.1M412.1 284.1L419.9 284.1M427.8 294.6L427.8 296.3M427.8 294.6L433.7 294.6M427.8 296.3L435.9 296.3M426.1 290.8L426.1 295.4M426.1 290.8L431.0 290.8M426.1 295.4L427.8 295.4M420.7 293.1L420.7 299.1M420.7 293.1L426.1 293.1M420.7 299.1L429.0 299.1M406.8 279.6L406.8 296.1M406.8 279.6L412.1 279.6M406.8 296.1L420.7 296.1M427.4 303.4L427.4 307.2M427.4 303.4L428.6 303.4M427.4 307.2L434.5 307.2M420.4 305.3L420.4 311.0M420.4 305.3L427.4 305.3M420.4 311.0L429.0 311.0M398.2 287.9L398.2 308.2M398.2 287.9L406.8 287.9M398.2 308.2L420.4 308.2M428.0 314.2L428.0 317.3M428.0 314.2L432.6 314.2M428.0 317.3L429.2 317.3M423.5 315.7L423.5 322.2M423.5 315.7L428.0 315.7M423.5 322.2L430.4 322.2M424.2 325.9L424.2 328.4M424.2 325.9L433.5 325.9M424.2 328.4L432.1 328.4M416.5 319.0L416.5 327.1M416.5 319.0L423.5 319.0M416.5 327.1L424.2 327.1M425.3 331.8L425.3 334.5M425.3 331.8L429.5 331.8M425.3 334.5L430.0 334.5M408.5 323.0L408.5 333.2M408.5 323.0L416.5 323.0M408.5 333.2L425.3 333.2M387.1 298.0L387.1 328.1M387.1 298.0L398.2 298.0M387.1 328.1L408.5 328.1M425.9 337.9L425.9 341.9M425.9 337.9L429.1 337.9M425.9 341.9L433.0 341.9M402.5 339.9L402.5 347.0M402.5 339.9L425.9 339.9M402.5 347.0L428.4 347.0M426.6 354.8L426.6 358.2M426.6 354.8L432.7 354.8M426.6 358.2L430.6 358.2M425.4 356.5L425.4 360.6M425.4 356.5L426.6 356.5M425.4 360.6L433.8 360.6M416.9 351.8L416.9 358.5M416.9 351.8L432.1 351.8M416.9 358.5L425.4 358.5M427.1 362.7L427.1 365.0M427.1 362.7L431.9 362.7M427.1 365.0L432.6 365.0M424.8 363.9L424.8 367.6M424.8 363.9L427.1 363.9M424.8 367.6L430.8 367.6M413.9 355.2L413.9 365.7M413.9 355.2L416.9 355.2M413.9 365.7L424.8 365.7M426.0 371.4L426.0 375.3M426.0 371.4L429.2 371.4M426.0 375.3L429.8 375.3M412.7 360.4L412.7 373.3M412.7 360.4L413.9 360.4M412.7 373.3L426.0 373.3M427.6 379.7L427.6 382.3M427.6 379.7L434.0 379.7M427.6 382.3L433.4 382.3M427.8 384.8L427.8 387.6M427.8 384.8L434.4 384.8M427.8 387.6L431.8 387.6M424.0 386.2L424.0 390.8M424.0 386.2L427.8 386.2M424.0 390.8L430.8 390.8M422.1 388.5L422.1 393.6M422.1 388.5L424.0 388.5M422.1 393.6L430.6 393.6M411.9 381.0L411.9 391.1M411.9 381.0L427.6 381.0M411.9 391.1L422.1 391.1M409.5 366.9L409.5 386.0M409.5 366.9L412.7 366.9M409.5 386.0L411.9 386.0M424.4 397.5L424.4 401.6M424.4 397.5L428.6 397.5M424.4 401.6L433.9 401.6M426.9 403.5L426.9 406.0M426.9 403.5L433.3 403.5M426.9 406.0L433.8 406.0M426.4 408.8L426.4 412.9M426.4 408.8L433.0 408.8M426.4 412.9L429.0 412.9M421.0 404.8L421.0 410.9M421.0 404.8L426.9 404.8M421.0 410.9L426.4 410.9M418.8 399.5L418.8 407.8M418.8 399.5L424.4 399.5M418.8 407.8L421.0 407.8M394.4 376.4L394.4 403.7M394.4 376.4L409.5 376.4M394.4 403.7L418.8 403.7M380.8 343.4L380.8 390.1M380.8 343.4L402.5 343.4M380.8 390.1L394.4 390.1M375.9 313.1L375.9 366.8M375.9 313.1L387.1 313.1M375.9 366.8L380.8 366.8M375.6 244.3L375.6 339.9M375.6 244.3L384.1 244.3M375.6 339.9L375.9 339.9M375.3 149.9L375.3 292.1M375.3 149.9L378.7 149.9M375.3 292.1L375.6 292.1" stroke="#111" stroke-width="0.85" fill="none"/>
<path d="M437.4 107.1L442.6 107.1M436.2 108.0L442.6 108.0M437.9 108.9L442.6 108.9M439.1 109.4L442.6 109.4M438.2 110.0L442.6 110.0M439.8 110.6L442.6 110.6M436.8 110.0L436.8 110.6M436.8 110.0L438.2 110.0M436.8 110.6L439.8 110.6M435.6 109.4L435.6 110.3M435.6 109.4L439.1 109.4M435.6 110.3L436.8 110.3M434.4 108.9L434.4 109.9M434.4 108.9L437.9 108.9M434.4 109.9L435.6 109.9M440.3 111.1L442.6 111.1M438.2 111.7L442.6 111.7M436.5 111.1L436.5 111.7M436.5 111.1L440.3 111.1M436.5 111.7L438.2 111.7M430.0 109.4L430.0 111.4M430.0 109.4L434.4 109.4M430.0 111.4L436.5 111.4M438.7 112.5L442.6 112.5M439.0 113.1L442.6 113.1M436.6 112.5L436.6 113.1M436.6 112.5L438.7 112.5M436.6 113.1L439.0 113.1M438.3 113.8L442.6 113.8M439.5 114.4L442.6 114.4M435.2 113.8L435.2 114.4M435.2 113.8L438.3 113.8M435.2 114.4L439.5 114.4M433.7 112.8L433.7 114.1M433.7 112.8L436.6 112.8M433.7 114.1L435.2 114.1M438.7 115.1L442.6 115.1M438.5 115.8L442.6 115.8M438.6 116.4L442.6 116.4M435.4 115.8L435.4 116.4M435.4 115.8L438.5 115.8M435.4 116.4L438.6 116.4M434.2 115.1L434.2 116.1M434.2 115.1L438.7 115.1M434.2 116.1L435.4 116.1M439.8 117.0L442.6 117.0M438.9 117.5L442.6 117.5M437.7 117.0L437.7 117.5M437.7 117.0L439.8 117.0M437.7 117.5L438.9 117.5M440.6 118.0L442.6 118.0M436.5 117.2L436.5 118.0M436.5 117.2L437.7 117.2M436.5 118.0L440.6 118.0M432.3 115.6L432.3 117.6M432.3 115.6L434.2 115.6M432.3 117.6L436.5 117.6M437.9 118.6L442.6 118.6M440.9 119.2L442.6 119.2M435.6 118.6L435.6 119.2M435.6 118.6L437.9 118.6M435.6 119.2L440.9 119.2M431.1 116.6L431.1 118.9M431.1 116.6L432.3 116.6M431.1 118.9L435.6 118.9M440.6 119.5L442.6 119.5M438.5 120.2L442.6 120.2M437.3 119.5L437.3 120.2M437.3 119.5L440.6 119.5M437.3 120.2L438.5 120.2M438.8 120.9L442.6 120.9M434.6 119.8L434.6 120.9M434.6 119.8L437.3 119.8M434.6 120.9L438.8 120.9M438.9 121.6L442.6 121.6M439.5 122.1L442.6 122.1M439.8 122.6L442.6 122.6M437.9 122.1L437.9 122.6M437.9 122.1L439.5 122.1M437.9 122.6L439.8 122.6M434.9 121.6L434.9 122.4M434.9 121.6L438.9 121.6M434.9 122.4L437.9 122.4M438.7 123.2L442.6 123.2M439.7 123.8L442.6 123.8M437.3 123.2L437.3 123.8M437.3 123.2L438.7 123.2M437.3 123.8L439.7 123.8M438.6 124.3L442.6 124.3M439.0 125.0L442.6 125.0M438.5 125.7L442.6 125.7M435.2 125.0L435.2 125.7M435.2 125.0L439.0 125.0M435.2 125.7L438.5 125.7M432.7 124.3L432.7 125.3M432.7 124.3L438.6 124.3M432.7 125.3L435.2 125.3M431.5 123.5L431.5 124.8M431.5 123.5L437.3 123.5M431.5 124.8L432.7 124.8M438.6 126.3L442.6 126.3M440.4 126.8L442.6 126.8M439.1 127.4L442.6 127.4M437.9 126.8L437.9 127.4M437.9 126.8L440.4 126.8M437.9 127.4L439.1 127.4M435.2 126.3L435.2 127.1M435.2 126.3L438.6 126.3M435.2 127.1L437.9 127.1M438.2 128.2L442.6 128.2M440.3 128.8L442.6 128.8M436.1 128.2L436.1 128.8M436.1 128.2L438.2 128.2M436.1 128.8L440.3 128.8M439.4 129.3L442.6 129.3M434.9 128.5L434.9 129.3M434.9 128.5L436.1 128.5M434.9 129.3L439.4 129.3M440.0 129.7L442.6 129.7M438.0 130.2L442.6 130.2M436.8 129.7L436.8 130.2M436.8 129.7L440.0 129.7M436.8 130.2L438.0 130.2M440.1 130.8L442.6 130.8M435.6 130.0L435.6 130.8M435.6 130.0L436.8 130.0M435.6 130.8L440.1 130.8M430.4 128.9L430.4 130.4M430.4 128.9L434.9 128.9M430.4 130.4L435.6 130.4M429.2 126.7L429.2 129.6M429.2 126.7L435.2 126.7M429.2 129.6L430.4 129.6M439.4 131.3L442.6 131.3M440.2 131.9L442.6 131.9M437.4 131.3L437.4 131.9M437.4 131.3L439.4 131.3M437.4 131.9L440.2 131.9M438.3 132.5L442.6 132.5M434.9 131.6L434.9 132.5M434.9 131.6L437.4 131.6M434.9 132.5L438.3 132.5M438.0 133.3L442.6 133.3M438.8 133.9L442.6 133.9M435.3 133.3L435.3 133.9M435.3 133.3L438.0 133.3M435.3 133.9L438.8 133.9M428.9 132.0L428.9 133.6M428.9 132.0L434.9 132.0M428.9 133.6L435.3 133.6M438.1 134.6L442.6 134.6M439.0 135.4L442.6 135.4M438.1 136.3L442.6 136.3M438.1 137.2L442.6 137.2M434.8 136.3L434.8 137.2M434.8 136.3L438.1 136.3M434.8 137.2L438.1 137.2M432.8 135.4L432.8 136.7M432.8 135.4L439.0 135.4M432.8 136.7L434.8 136.7M428.6 134.6L428.6 136.1M428.6 134.6L438.1 134.6M428.6 136.1L432.8 136.1M439.7 137.9L442.6 137.9M436.3 138.7L442.6 138.7M439.5 139.5L442.6 139.5M434.2 138.7L434.2 139.5M434.2 138.7L436.3 138.7M434.2 139.5L439.5 139.5M433.0 137.9L433.0 139.1M433.0 137.9L439.7 137.9M433.0 139.1L434.2 139.1M437.8 140.2L442.6 140.2M438.3 141.0L442.6 141.0M436.4 140.2L436.4 141.0M436.4 140.2L437.8 140.2M436.4 141.0L438.3 141.0M430.5 138.5L430.5 140.6M430.5 138.5L433.0 138.5M430.5 140.6L436.4 140.6M437.8 141.6L442.6 141.6M438.2 142.4L442.6 142.4M434.5 141.6L434.5 142.4M434.5 141.6L437.8 141.6M434.5 142.4L438.2 142.4M429.3 139.5L429.3 142.0M429.3 139.5L430.5 139.5M429.3 142.0L434.5 142.0M439.3 143.2L442.6 143.2M439.7 143.7L442.6 143.7M436.4 143.2L436.4 143.7M436.4 143.2L439.3 143.2M436.4 143.7L439.7 143.7M439.1 144.2L442.6 144.2M435.0 143.4L435.0 144.2M435.0 143.4L436.4 143.4M435.0 144.2L439.1 144.2M438.7 144.8L442.6 144.8M433.8 143.8L433.8 144.8M433.8 143.8L435.0 143.8M433.8 144.8L438.7 144.8M437.1 145.6L442.6 145.6M430.2 144.3L430.2 145.6M430.2 144.3L433.8 144.3M430.2 145.6L437.1 145.6M439.0 146.4L442.6 146.4M440.6 147.0L442.6 147.0M437.8 146.4L437.8 147.0M437.8 146.4L439.0 146.4M437.8 147.0L440.6 147.0M437.5 147.5L442.6 147.5M433.0 146.7L433.0 147.5M433.0 146.7L437.8 146.7M433.0 147.5L437.5 147.5M436.6 148.5L442.6 148.5M439.3 149.3L442.6 149.3M439.8 149.8L442.6 149.8M437.8 149.3L437.8 149.8M437.8 149.3L439.3 149.3M437.8 149.8L439.8 149.8M432.9 148.5L432.9 149.6M432.9 148.5L436.6 148.5M432.9 149.6L437.8 149.6M438.6 150.3L442.6 150.3M438.1 151.0L442.6 151.0M436.9 150.3L436.9 151.0M436.9 150.3L438.6 150.3M436.9 151.0L438.1 151.0M440.1 151.5L442.6 151.5M438.3 152.2L442.6 152.2M435.5 151.5L435.5 152.2M435.5 151.5L440.1 151.5M435.5 152.2L438.3 152.2M432.1 150.7L432.1 151.9M432.1 150.7L436.9 150.7M432.1 151.9L435.5 151.9M437.5 153.0L442.6 153.0M437.4 153.8L442.6 153.8M435.7 153.0L435.7 153.8M435.7 153.0L437.5 153.0M435.7 153.8L437.4 153.8M438.1 154.6L442.6 154.6M439.6 155.2L442.6 155.2M436.9 154.6L436.9 155.2M436.9 154.6L438.1 154.6M436.9 155.2L439.6 155.2M431.0 153.4L431.0 154.9M431.0 153.4L435.7 153.4M431.0 154.9L436.9 154.9M440.0 155.7L442.6 155.7M438.4 156.3L442.6 156.3M436.7 155.7L436.7 156.3M436.7 155.7L440.0 155.7M436.7 156.3L438.4 156.3M429.8 154.1L429.8 156.0M429.8 154.1L431.0 154.1M429.8 156.0L436.7 156.0M437.6 157.2L442.6 157.2M440.7 157.8L442.6 157.8M436.4 157.2L436.4 157.8M436.4 157.2L437.6 157.2M436.4 157.8L440.7 157.8M439.8 158.2L442.6 158.2M438.2 158.9L442.6 158.9M434.9 158.2L434.9 158.9M434.9 158.2L439.8 158.2M434.9 158.9L438.2 158.9M432.5 157.5L432.5 158.5M432.5 157.5L436.4 157.5M432.5 158.5L434.9 158.5M438.5 159.8L442.6 159.8M437.0 160.8L442.6 160.8M435.8 159.8L435.8 160.8M435.8 159.8L438.5 159.8M435.8 160.8L437.0 160.8M440.4 161.5L442.6 161.5M439.4 162.0L442.6 162.0M437.8 161.5L437.8 162.0M437.8 161.5L440.4 161.5M437.8 162.0L439.4 162.0M431.3 160.3L431.3 161.7M431.3 160.3L435.8 160.3M431.3 161.7L437.8 161.7M438.3 162.6L442.6 162.6M439.1 163.2L442.6 163.2M436.9 162.6L436.9 163.2M436.9 162.6L438.3 162.6M436.9 163.2L439.1 163.2M437.6 163.8L442.6 163.8M434.7 162.9L434.7 163.8M434.7 162.9L436.9 162.9M434.7 163.8L437.6 163.8M439.3 164.5L442.6 164.5M440.2 165.1L442.6 165.1M438.1 164.5L438.1 165.1M438.1 164.5L439.3 164.5M438.1 165.1L440.2 165.1M437.4 165.7L442.6 165.7M438.3 166.4L442.6 166.4M439.5 167.0L442.6 167.0M436.5 166.4L436.5 167.0M436.5 166.4L438.3 166.4M436.5 167.0L439.5 167.0M434.0 165.7L434.0 166.7M434.0 165.7L437.4 165.7M434.0 166.7L436.5 166.7M432.8 164.8L432.8 166.2M432.8 164.8L438.1 164.8M432.8 166.2L434.0 166.2M436.8 167.7L442.6 167.7M440.5 168.4L442.6 168.4M434.9 167.7L434.9 168.4M434.9 167.7L436.8 167.7M434.9 168.4L440.5 168.4M439.0 169.0L442.6 169.0M433.7 168.1L433.7 169.0M433.7 168.1L434.9 168.1M433.7 169.0L439.0 169.0M436.4 169.8L442.6 169.8M439.4 170.5L442.6 170.5M435.2 169.8L435.2 170.5M435.2 169.8L436.4 169.8M435.2 170.5L439.4 170.5M438.7 171.2L442.6 171.2M439.9 171.7L442.6 171.7M437.5 171.2L437.5 171.7M437.5 171.2L438.7 171.2M437.5 171.7L439.9 171.7M437.6 172.3L442.6 172.3M432.9 171.4L432.9 172.3M432.9 171.4L437.5 171.4M432.9 172.3L437.6 172.3M430.1 170.2L430.1 171.9M430.1 170.2L435.2 170.2M430.1 171.9L432.9 171.9M437.2 173.2L442.6 173.2M440.0 173.8L442.6 173.8M434.9 173.2L434.9 173.8M434.9 173.2L437.2 173.2M434.9 173.8L440.0 173.8M436.4 174.5L442.6 174.5M439.6 175.3L442.6 175.3M438.1 176.0L442.6 176.0M434.7 175.3L434.7 176.0M434.7 175.3L439.6 175.3M434.7 176.0L438.1 176.0M431.0 174.5L431.0 175.6M431.0 174.5L436.4 174.5M431.0 175.6L434.7 175.6M428.0 173.5L428.0 175.1M428.0 173.5L434.9 173.5M428.0 175.1L431.0 175.1M438.1 176.9L442.6 176.9M439.7 177.6L442.6 177.6M436.3 176.9L436.3 177.6M436.3 176.9L438.1 176.9M436.3 177.6L439.7 177.6M438.3 178.3L442.6 178.3M431.9 177.3L431.9 178.3M431.9 177.3L436.3 177.3M431.9 178.3L438.3 178.3M438.7 179.1L442.6 179.1M438.1 179.8L442.6 179.8M436.8 179.1L436.8 179.8M436.8 179.1L438.7 179.1M436.8 179.8L438.1 179.8M439.6 180.4L442.6 180.4M432.5 179.4L432.5 180.4M432.5 179.4L436.8 179.4M432.5 180.4L439.6 180.4M438.2 181.0L442.6 181.0M438.6 181.7L442.6 181.7M436.0 181.0L436.0 181.7M436.0 181.0L438.2 181.0M436.0 181.7L438.6 181.7M430.1 179.9L430.1 181.3M430.1 179.9L432.5 179.9M430.1 181.3L436.0 181.3M437.8 182.3L442.6 182.3M440.2 182.9L442.6 182.9M436.6 182.3L436.6 182.9M436.6 182.3L437.8 182.3M436.6 182.9L440.2 182.9M439.6 183.4L442.6 183.4M435.4 182.6L435.4 183.4M435.4 182.6L436.6 182.6M435.4 183.4L439.6 183.4M438.6 184.0L442.6 184.0M438.4 184.8L442.6 184.8M435.8 184.0L435.8 184.8M435.8 184.0L438.6 184.0M435.8 184.8L438.4 184.8M430.1 183.0L430.1 184.4M430.1 183.0L435.4 183.0M430.1 184.4L435.8 184.4M428.9 180.6L428.9 183.7M428.9 180.6L430.1 180.6M428.9 183.7L430.1 183.7M438.9 185.4L442.6 185.4M438.9 185.9L442.6 185.9M437.7 185.4L437.7 185.9M437.7 185.4L438.9 185.4M437.7 185.9L438.9 185.9M438.1 186.6L442.6 186.6M434.0 185.7L434.0 186.6M434.0 185.7L437.7 185.7M434.0 186.6L438.1 186.6M440.1 187.2L442.6 187.2M439.4 187.7L442.6 187.7M437.1 187.2L437.1 187.7M437.1 187.2L440.1 187.2M437.1 187.7L439.4 187.7M431.6 186.1L431.6 187.5M431.6 186.1L434.0 186.1M431.6 187.5L437.1 187.5M439.1 188.3L442.6 188.3M438.6 188.8L442.6 188.8M437.2 188.3L437.2 188.8M437.2 188.3L439.1 188.3M437.2 188.8L438.6 188.8M429.1 186.8L429.1 188.5M429.1 186.8L431.6 186.8M429.1 188.5L437.2 188.5M439.3 189.4L442.6 189.4M440.4 189.9L442.6 189.9M435.9 189.4L435.9 189.9M435.9 189.4L439.3 189.4M435.9 189.9L440.4 189.9M438.5 190.6L442.6 190.6M434.7 189.7L434.7 190.6M434.7 189.7L435.9 189.7M434.7 190.6L438.5 190.6M438.0 191.4L442.6 191.4M439.0 192.0L442.6 192.0M439.0 192.6L442.6 192.6M436.6 192.0L436.6 192.6M436.6 192.0L439.0 192.0M436.6 192.6L439.0 192.6M434.9 191.4L434.9 192.3M434.9 191.4L438.0 191.4M434.9 192.3L436.6 192.3M432.1 190.1L432.1 191.8M432.1 190.1L434.7 190.1M432.1 191.8L434.9 191.8M437.7 193.4L442.6 193.4M439.7 194.0L442.6 194.0M436.1 193.4L436.1 194.0M436.1 193.4L437.7 193.4M436.1 194.0L439.7 194.0M437.4 194.7L442.6 194.7M434.8 193.7L434.8 194.7M434.8 193.7L436.1 193.7M434.8 194.7L437.4 194.7M437.9 195.5L442.6 195.5M438.0 196.3L442.6 196.3M440.3 196.9L442.6 196.9M436.1 196.3L436.1 196.9M436.1 196.3L438.0 196.3M436.1 196.9L440.3 196.9M434.9 195.5L434.9 196.6M434.9 195.5L437.9 195.5M434.9 196.6L436.1 196.6M430.0 194.2L430.0 196.0M430.0 194.2L434.8 194.2M430.0 196.0L434.9 196.0M437.6 197.6L442.6 197.6M439.2 198.3L442.6 198.3M436.3 197.6L436.3 198.3M436.3 197.6L437.6 197.6M436.3 198.3L439.2 198.3M438.4 199.0L442.6 199.0M434.5 197.9L434.5 199.0M434.5 197.9L436.3 197.9M434.5 199.0L438.4 199.0M440.5 199.6L442.6 199.6M438.9 200.1L442.6 200.1M437.7 199.6L437.7 200.1M437.7 199.6L440.5 199.6M437.7 200.1L438.9 200.1M432.1 198.5L432.1 199.8M432.1 198.5L434.5 198.5M432.1 199.8L437.7 199.8M440.5 200.6L442.6 200.6M436.8 201.3L442.6 201.3M434.5 200.6L434.5 201.3M434.5 200.6L440.5 200.6M434.5 201.3L436.8 201.3M428.9 199.1L428.9 200.9M428.9 199.1L432.1 199.1M428.9 200.9L434.5 200.9M438.4 202.2L442.6 202.2M440.4 202.9L442.6 202.9M437.9 203.4L442.6 203.4M436.7 202.9L436.7 203.4M436.7 202.9L440.4 202.9M436.7 203.4L437.9 203.4M438.9 204.2L442.6 204.2M441.0 204.7L442.6 204.7M437.7 204.2L437.7 204.7M437.7 204.2L438.9 204.2M437.7 204.7L441.0 204.7M433.9 203.2L433.9 204.5M433.9 203.2L436.7 203.2M433.9 204.5L437.7 204.5M432.7 202.2L432.7 203.8M432.7 202.2L438.4 202.2M432.7 203.8L433.9 203.8M438.3 205.1L442.6 205.1M437.7 205.9L442.6 205.9M439.2 206.7L442.6 206.7M436.3 205.9L436.3 206.7M436.3 205.9L437.7 205.9M436.3 206.7L439.2 206.7M435.1 205.1L435.1 206.3M435.1 205.1L438.3 205.1M435.1 206.3L436.3 206.3M438.3 207.3L442.6 207.3M438.7 208.0L442.6 208.0M439.5 208.6L442.6 208.6M439.0 209.2L442.6 209.2M435.5 208.6L435.5 209.2M435.5 208.6L439.5 208.6M435.5 209.2L439.0 209.2M433.8 208.0L433.8 208.9M433.8 208.0L438.7 208.0M433.8 208.9L435.5 208.9M432.6 207.3L432.6 208.4M432.6 207.3L438.3 207.3M432.6 208.4L433.8 208.4M438.6 210.0L442.6 210.0M439.3 210.6L442.6 210.6M437.4 210.0L437.4 210.6M437.4 210.0L438.6 210.0M437.4 210.6L439.3 210.6M438.6 211.2L442.6 211.2M439.1 211.8L442.6 211.8M435.2 211.2L435.2 211.8M435.2 211.2L438.6 211.2M435.2 211.8L439.1 211.8M432.1 210.3L432.1 211.5M432.1 210.3L437.4 210.3M432.1 211.5L435.2 211.5M437.1 212.5L442.6 212.5M437.1 213.3L442.6 213.3M439.6 214.0L442.6 214.0M435.2 213.3L435.2 214.0M435.2 213.3L437.1 213.3M435.2 214.0L439.6 214.0M432.3 212.5L432.3 213.7M432.3 212.5L437.1 212.5M432.3 213.7L435.2 213.7M436.8 214.7L442.6 214.7M439.3 215.5L442.6 215.5M434.3 214.7L434.3 215.5M434.3 214.7L436.8 214.7M434.3 215.5L439.3 215.5M438.4 216.1L442.6 216.1M432.4 215.1L432.4 216.1M432.4 215.1L434.3 215.1M432.4 216.1L438.4 216.1M431.1 213.1L431.1 215.6M431.1 213.1L432.3 213.1M431.1 215.6L432.4 215.6M439.1 216.6L442.6 216.6M438.9 217.1L442.6 217.1M436.9 216.6L436.9 217.1M436.9 216.6L439.1 216.6M436.9 217.1L438.9 217.1M438.2 217.8L442.6 217.8M434.0 216.9L434.0 217.8M434.0 216.9L436.9 216.9M434.0 217.8L438.2 217.8M438.8 218.5L442.6 218.5M432.8 217.3L432.8 218.5M432.8 217.3L434.0 217.3M432.8 218.5L438.8 218.5M440.5 219.0L442.6 219.0M437.5 219.6L442.6 219.6M436.3 219.0L436.3 219.6M436.3 219.0L440.5 219.0M436.3 219.6L437.5 219.6M437.4 220.3L442.6 220.3M435.1 219.3L435.1 220.3M435.1 219.3L436.3 219.3M435.1 220.3L437.4 220.3M431.6 217.9L431.6 219.8M431.6 217.9L432.8 217.9M431.6 219.8L435.1 219.8M439.1 221.0L442.6 221.0M439.4 221.5L442.6 221.5M438.8 222.1L442.6 222.1M437.6 221.5L437.6 222.1M437.6 221.5L439.4 221.5M437.6 222.1L438.8 222.1M434.9 221.0L434.9 221.8M434.9 221.0L439.1 221.0M434.9 221.8L437.6 221.8M440.4 222.6L442.6 222.6M437.7 223.2L442.6 223.2M436.5 222.6L436.5 223.2M436.5 222.6L440.4 222.6M436.5 223.2L437.7 223.2M439.9 223.7L442.6 223.7M434.9 222.9L434.9 223.7M434.9 222.9L436.5 222.9M434.9 223.7L439.9 223.7M439.6 224.1L442.6 224.1M439.8 224.5L442.6 224.5M439.3 225.1L442.6 225.1M437.8 224.5L437.8 225.1M437.8 224.5L439.8 224.5M437.8 225.1L439.3 225.1M435.4 224.1L435.4 224.8M435.4 224.1L439.6 224.1M435.4 224.8L437.8 224.8M433.7 223.3L433.7 224.4M433.7 223.3L434.9 223.3M433.7 224.4L435.4 224.4M429.3 221.4L429.3 223.9M429.3 221.4L434.9 221.4M429.3 223.9L433.7 223.9M439.1 225.6L442.6 225.6M437.6 226.4L442.6 226.4M435.4 225.6L435.4 226.4M435.4 225.6L439.1 225.6M435.4 226.4L437.6 226.4M438.0 227.2L442.6 227.2M437.6 228.1L442.6 228.1M434.4 227.2L434.4 228.1M434.4 227.2L438.0 227.2M434.4 228.1L437.6 228.1M433.2 226.0L433.2 227.7M433.2 226.0L435.4 226.0M433.2 227.7L434.4 227.7M441.0 228.6L442.6 228.6M439.4 229.1L442.6 229.1M438.2 228.6L438.2 229.1M438.2 228.6L441.0 228.6M438.2 229.1L439.4 229.1M437.9 229.8L442.6 229.8M437.3 230.6L442.6 230.6M436.0 229.8L436.0 230.6M436.0 229.8L437.9 229.8M436.0 230.6L437.3 230.6M430.7 228.9L430.7 230.2M430.7 228.9L438.2 228.9M430.7 230.2L436.0 230.2M437.3 231.4L442.6 231.4M437.9 232.1L442.6 232.1M434.0 231.4L434.0 232.1M434.0 231.4L437.3 231.4M434.0 232.1L437.9 232.1M437.3 232.9L442.6 232.9M437.4 233.7L442.6 233.7M435.9 232.9L435.9 233.7M435.9 232.9L437.3 232.9M435.9 233.7L437.4 233.7M429.5 231.8L429.5 233.3M429.5 231.8L434.0 231.8M429.5 233.3L435.9 233.3M439.0 234.4L442.6 234.4M440.1 234.9L442.6 234.9M437.8 234.4L437.8 234.9M437.8 234.4L439.0 234.4M437.8 234.9L440.1 234.9M437.4 235.6L442.6 235.6M434.9 234.6L434.9 235.6M434.9 234.6L437.8 234.6M434.9 235.6L437.4 235.6M438.1 236.4L442.6 236.4M438.4 237.0L442.6 237.0M436.6 236.4L436.6 237.0M436.6 236.4L438.1 236.4M436.6 237.0L438.4 237.0M439.2 237.6L442.6 237.6M440.4 238.1L442.6 238.1M436.5 237.6L436.5 238.1M436.5 237.6L439.2 237.6M436.5 238.1L440.4 238.1M435.0 236.7L435.0 237.9M435.0 236.7L436.6 236.7M435.0 237.9L436.5 237.9M431.2 235.1L431.2 237.3M431.2 235.1L434.9 235.1M431.2 237.3L435.0 237.3M439.1 238.6L442.6 238.6M439.4 239.1L442.6 239.1M437.6 238.6L437.6 239.1M437.6 238.6L439.1 238.6M437.6 239.1L439.4 239.1M438.4 239.8L442.6 239.8M439.7 240.4L442.6 240.4M435.3 239.8L435.3 240.4M435.3 239.8L438.4 239.8M435.3 240.4L439.7 240.4M431.7 238.8L431.7 240.1M431.7 238.8L437.6 238.8M431.7 240.1L435.3 240.1M437.9 241.1L442.6 241.1M440.5 241.6L442.6 241.6M436.7 241.1L436.7 241.6M436.7 241.1L437.9 241.1M436.7 241.6L440.5 241.6M430.0 239.5L430.0 241.3M430.0 239.5L431.7 239.5M430.0 241.3L436.7 241.3M439.6 242.0L442.6 242.0M439.3 242.5L442.6 242.5M436.9 242.0L436.9 242.5M436.9 242.0L439.6 242.0M436.9 242.5L439.3 242.5M438.0 243.2L442.6 243.2M435.7 242.2L435.7 243.2M435.7 242.2L436.9 242.2M435.7 243.2L438.0 243.2M438.0 243.9L442.6 243.9M437.3 244.8L442.6 244.8M436.1 243.9L436.1 244.8M436.1 243.9L438.0 243.9M436.1 244.8L437.3 244.8M429.8 242.7L429.8 244.3M429.8 242.7L435.7 242.7M429.8 244.3L436.1 244.3M438.6 245.6L442.6 245.6M439.7 246.2L442.6 246.2M437.4 245.6L437.4 246.2M437.4 245.6L438.6 245.6M437.4 246.2L439.7 246.2M438.8 246.7L442.6 246.7M437.7 247.4L442.6 247.4M436.5 246.7L436.5 247.4M436.5 246.7L438.8 246.7M436.5 247.4L437.7 247.4M438.6 248.1L442.6 248.1M437.0 248.9L442.6 248.9M434.2 248.1L434.2 248.9M434.2 248.1L438.6 248.1M434.2 248.9L437.0 248.9M432.7 247.1L432.7 248.5M432.7 247.1L436.5 247.1M432.7 248.5L434.2 248.5M431.5 245.9L431.5 247.8M431.5 245.9L437.4 245.9M431.5 247.8L432.7 247.8M438.5 249.7L442.6 249.7M439.0 250.4L442.6 250.4M435.9 249.7L435.9 250.4M435.9 249.7L438.5 249.7M435.9 250.4L439.0 250.4M438.2 251.1L442.6 251.1M439.0 251.8L442.6 251.8M437.9 252.6L442.6 252.6M439.3 253.4L442.6 253.4M434.5 252.6L434.5 253.4M434.5 252.6L437.9 252.6M434.5 253.4L439.3 253.4M432.7 251.8L432.7 253.0M432.7 251.8L439.0 251.8M432.7 253.0L434.5 253.0M431.3 251.1L431.3 252.4M431.3 251.1L438.2 251.1M431.3 252.4L432.7 252.4M436.4 254.2L442.6 254.2M439.6 254.9L442.6 254.9M435.2 254.2L435.2 254.9M435.2 254.2L436.4 254.2M435.2 254.9L439.6 254.9M439.1 255.4L442.6 255.4M437.0 256.1L442.6 256.1M434.7 255.4L434.7 256.1M434.7 255.4L439.1 255.4M434.7 256.1L437.0 256.1M439.7 256.8L442.6 256.8M438.9 257.3L442.6 257.3M437.2 256.8L437.2 257.3M437.2 256.8L439.7 256.8M437.2 257.3L438.9 257.3M439.7 257.9L442.6 257.9M435.6 257.1L435.6 257.9M435.6 257.1L437.2 257.1M435.6 257.9L439.7 257.9M431.0 255.7L431.0 257.5M431.0 255.7L434.7 255.7M431.0 257.5L435.6 257.5M438.2 258.6L442.6 258.6M437.6 259.4L442.6 259.4M434.8 258.6L434.8 259.4M434.8 258.6L438.2 258.6M434.8 259.4L437.6 259.4M436.8 260.3L442.6 260.3M433.6 259.0L433.6 260.3M433.6 259.0L434.8 259.0M433.6 260.3L436.8 260.3M437.7 261.2L442.6 261.2M440.3 261.7L442.6 261.7M436.5 261.2L436.5 261.7M436.5 261.2L437.7 261.2M436.5 261.7L440.3 261.7M440.4 262.1L442.6 262.1M437.8 262.6L442.6 262.6M436.6 262.1L436.6 262.6M436.6 262.1L440.4 262.1M436.6 262.6L437.8 262.6M434.0 261.5L434.0 262.3M434.0 261.5L436.5 261.5M434.0 262.3L436.6 262.3M440.9 263.2L442.6 263.2M439.4 263.7L442.6 263.7M438.2 263.2L438.2 263.7M438.2 263.2L440.9 263.2M438.2 263.7L439.4 263.7M430.6 261.9L430.6 263.4M430.6 261.9L434.0 261.9M430.6 263.4L438.2 263.4M439.8 264.3L442.6 264.3M437.3 264.9L442.6 264.9M435.2 264.3L435.2 264.9M435.2 264.3L439.8 264.3M435.2 264.9L437.3 264.9M438.2 265.7L442.6 265.7M437.5 266.4L442.6 266.4M434.8 265.7L434.8 266.4M434.8 265.7L438.2 265.7M434.8 266.4L437.5 266.4M438.4 267.2L442.6 267.2M438.1 267.9L442.6 267.9M436.0 267.2L436.0 267.9M436.0 267.2L438.4 267.2M436.0 267.9L438.1 267.9M432.6 266.0L432.6 267.5M432.6 266.0L434.8 266.0M432.6 267.5L436.0 267.5M431.4 264.6L431.4 266.8M431.4 264.6L435.2 264.6M431.4 266.8L432.6 266.8M438.1 268.6L442.6 268.6M439.8 269.1L442.6 269.1M435.9 268.6L435.9 269.1M435.9 268.6L438.1 268.6M435.9 269.1L439.8 269.1M438.5 269.6L442.6 269.6M434.0 268.8L434.0 269.6M434.0 268.8L435.9 268.8M434.0 269.6L438.5 269.6M439.1 270.3L442.6 270.3M440.4 270.7L442.6 270.7M438.5 271.3L442.6 271.3M437.3 270.7L437.3 271.3M437.3 270.7L440.4 270.7M437.3 271.3L438.5 271.3M436.1 270.3L436.1 271.0M436.1 270.3L439.1 270.3M436.1 271.0L437.3 271.0M439.2 272.0L442.6 272.0M433.4 270.6L433.4 272.0M433.4 270.6L436.1 270.6M433.4 272.0L439.2 272.0M439.0 272.6L442.6 272.6M438.7 273.3L442.6 273.3M440.5 273.8L442.6 273.8M439.1 274.3L442.6 274.3M437.1 273.8L437.1 274.3M437.1 273.8L440.5 273.8M437.1 274.3L439.1 274.3M435.9 273.3L435.9 274.0M435.9 273.3L438.7 273.3M435.9 274.0L437.1 274.0M431.5 272.6L431.5 273.6M431.5 272.6L439.0 272.6M431.5 273.6L435.9 273.6M438.3 274.9L442.6 274.9M438.1 275.6L442.6 275.6M438.9 276.2L442.6 276.2M436.8 275.6L436.8 276.2M436.8 275.6L438.1 275.6M436.8 276.2L438.9 276.2M435.6 274.9L435.6 275.9M435.6 274.9L438.3 274.9M435.6 275.9L436.8 275.9M430.3 273.1L430.3 275.4M430.3 273.1L431.5 273.1M430.3 275.4L435.6 275.4M437.0 276.9L442.6 276.9M439.0 277.7L442.6 277.7M437.2 278.3L442.6 278.3M435.7 277.7L435.7 278.3M435.7 277.7L439.0 277.7M435.7 278.3L437.2 278.3M434.5 276.9L434.5 278.0M434.5 276.9L437.0 276.9M434.5 278.0L435.7 278.0M440.2 278.9L442.6 278.9M438.5 279.4L442.6 279.4M440.1 280.0L442.6 280.0M437.3 279.4L437.3 280.0M437.3 279.4L438.5 279.4M437.3 280.0L440.1 280.0M435.4 278.9L435.4 279.7M435.4 278.9L440.2 278.9M435.4 279.7L437.3 279.7M439.9 280.4L442.6 280.4M434.2 279.3L434.2 280.4M434.2 279.3L435.4 279.3M434.2 280.4L439.9 280.4M439.5 280.9L442.6 280.9M439.3 281.4L442.6 281.4M438.2 282.0L442.6 282.0M436.9 281.4L436.9 282.0M436.9 281.4L439.3 281.4M436.9 282.0L438.2 282.0M435.2 280.9L435.2 281.7M435.2 280.9L439.5 280.9M435.2 281.7L436.9 281.7M430.7 279.8L430.7 281.3M430.7 279.8L434.2 279.8M430.7 281.3L435.2 281.3M437.2 282.8L442.6 282.8M439.3 283.5L442.6 283.5M436.0 282.8L436.0 283.5M436.0 282.8L437.2 282.8M436.0 283.5L439.3 283.5M429.5 280.6L429.5 283.1M429.5 280.6L430.7 280.6M429.5 283.1L436.0 283.1M438.0 284.1L442.6 284.1M438.7 284.9L442.6 284.9M439.3 285.5L442.6 285.5M437.0 284.9L437.0 285.5M437.0 284.9L438.7 284.9M437.0 285.5L439.3 285.5M438.9 286.1L442.6 286.1M434.8 285.2L434.8 286.1M434.8 285.2L437.0 285.2M434.8 286.1L438.9 286.1M433.6 284.1L433.6 285.7M433.6 284.1L438.0 284.1M433.6 285.7L434.8 285.7M438.2 286.9L442.6 286.9M439.7 287.5L442.6 287.5M435.2 286.9L435.2 287.5M435.2 286.9L438.2 286.9M435.2 287.5L439.7 287.5M438.3 288.0L442.6 288.0M439.1 288.7L442.6 288.7M435.8 288.0L435.8 288.7M435.8 288.0L438.3 288.0M435.8 288.7L439.1 288.7M431.5 287.2L431.5 288.3M431.5 287.2L435.2 287.2M431.5 288.3L435.8 288.3M430.3 284.9L430.3 287.8M430.3 284.9L433.6 284.9M430.3 287.8L431.5 287.8M438.5 289.4L442.6 289.4M439.5 289.9L442.6 289.9M439.6 290.4L442.6 290.4M436.6 289.9L436.6 290.4M436.6 289.9L439.5 289.9M436.6 290.4L439.6 290.4M435.3 289.4L435.3 290.2M435.3 289.4L438.5 289.4M435.3 290.2L436.6 290.2M438.0 291.1L442.6 291.1M440.6 291.7L442.6 291.7M436.8 291.1L436.8 291.7M436.8 291.1L438.0 291.1M436.8 291.7L440.6 291.7M438.6 292.1L442.6 292.1M438.6 292.8L442.6 292.8M435.5 292.1L435.5 292.8M435.5 292.1L438.6 292.1M435.5 292.8L438.6 292.8M434.3 291.4L434.3 292.5M434.3 291.4L436.8 291.4M434.3 292.5L435.5 292.5M431.0 289.8L431.0 291.9M431.0 289.8L435.3 289.8M431.0 291.9L434.3 291.9M438.0 293.7L442.6 293.7M438.6 294.5L442.6 294.5M434.9 293.7L434.9 294.5M434.9 293.7L438.0 293.7M434.9 294.5L438.6 294.5M439.6 295.1L442.6 295.1M433.7 294.1L433.7 295.1M433.7 294.1L434.9 294.1M433.7 295.1L439.6 295.1M437.7 295.8L442.6 295.8M437.9 296.8L442.6 296.8M435.9 295.8L435.9 296.8M435.9 295.8L437.7 295.8M435.9 296.8L437.9 296.8M438.3 297.6L442.6 297.6M438.0 298.3L442.6 298.3M440.1 298.9L442.6 298.9M436.8 298.3L436.8 298.9M436.8 298.3L438.0 298.3M436.8 298.9L440.1 298.9M433.7 297.6L433.7 298.6M433.7 297.6L438.3 297.6M433.7 298.6L436.8 298.6M436.6 299.6L442.6 299.6M440.2 300.3L442.6 300.3M438.1 301.0L442.6 301.0M436.9 300.3L436.9 301.0M436.9 300.3L440.2 300.3M436.9 301.0L438.1 301.0M434.0 299.6L434.0 300.6M434.0 299.6L436.6 299.6M434.0 300.6L436.9 300.6M429.0 298.1L429.0 300.1M429.0 298.1L433.7 298.1M429.0 300.1L434.0 300.1M438.9 301.8L442.6 301.8M437.0 302.7L442.6 302.7M435.8 301.8L435.8 302.7M435.8 301.8L438.9 301.8M435.8 302.7L437.0 302.7M437.0 303.6L442.6 303.6M439.5 304.3L442.6 304.3M435.7 303.6L435.7 304.3M435.7 303.6L437.0 303.6M435.7 304.3L439.5 304.3M438.7 304.9L442.6 304.9M438.4 305.7L442.6 305.7M434.5 304.9L434.5 305.7M434.5 304.9L438.7 304.9M434.5 305.7L438.4 305.7M433.1 303.9L433.1 305.3M433.1 303.9L435.7 303.9M433.1 305.3L434.5 305.3M428.6 302.2L428.6 304.6M428.6 302.2L435.8 302.2M428.6 304.6L433.1 304.6M438.3 306.5L442.6 306.5M440.0 307.0L442.6 307.0M436.5 306.5L436.5 307.0M436.5 306.5L438.3 306.5M436.5 307.0L440.0 307.0M440.5 307.4L442.6 307.4M437.7 308.0L442.6 308.0M435.7 307.4L435.7 308.0M435.7 307.4L440.5 307.4M435.7 308.0L437.7 308.0M434.5 306.7L434.5 307.7M434.5 306.7L436.5 306.7M434.5 307.7L435.7 307.7M438.8 308.8L442.6 308.8M438.6 309.5L442.6 309.5M435.1 308.8L435.1 309.5M435.1 308.8L438.8 308.8M435.1 309.5L438.6 309.5M437.4 310.3L442.6 310.3M440.2 310.9L442.6 310.9M435.1 310.3L435.1 310.9M435.1 310.3L437.4 310.3M435.1 310.9L440.2 310.9M433.8 309.2L433.8 310.6M433.8 309.2L435.1 309.2M433.8 310.6L435.1 310.6M438.0 311.6L442.6 311.6M436.8 312.6L442.6 312.6M434.4 311.6L434.4 312.6M434.4 311.6L438.0 311.6M434.4 312.6L436.8 312.6M429.0 309.9L429.0 312.1M429.0 309.9L433.8 309.9M429.0 312.1L434.4 312.1M436.3 313.6L442.6 313.6M439.2 314.4L442.6 314.4M437.5 315.1L442.6 315.1M436.1 314.4L436.1 315.1M436.1 314.4L439.2 314.4M436.1 315.1L437.5 315.1M432.6 313.6L432.6 314.8M432.6 313.6L436.3 313.6M432.6 314.8L436.1 314.8M438.5 315.8L442.6 315.8M439.3 316.5L442.6 316.5M435.1 315.8L435.1 316.5M435.1 315.8L438.5 315.8M435.1 316.5L439.3 316.5M439.4 317.0L442.6 317.0M439.1 317.5L442.6 317.5M437.8 317.0L437.8 317.5M437.8 317.0L439.4 317.0M437.8 317.5L439.1 317.5M437.1 318.3L442.6 318.3M433.0 317.2L433.0 318.3M433.0 317.2L437.8 317.2M433.0 318.3L437.1 318.3M437.4 319.1L442.6 319.1M431.8 317.7L431.8 319.1M431.8 317.7L433.0 317.7M431.8 319.1L437.4 319.1M429.2 316.1L429.2 318.4M429.2 316.1L435.1 316.1M429.2 318.4L431.8 318.4M439.0 319.7L442.6 319.7M438.1 320.4L442.6 320.4M436.9 319.7L436.9 320.4M436.9 319.7L439.0 319.7M436.9 320.4L438.1 320.4M438.6 321.3L442.6 321.3M439.0 321.9L442.6 321.9M437.3 321.3L437.3 321.9M437.3 321.3L438.6 321.3M437.3 321.9L439.0 321.9M431.6 320.1L431.6 321.6M431.6 320.1L436.9 320.1M431.6 321.6L437.3 321.6M438.4 322.6L442.6 322.6M439.8 323.3L442.6 323.3M435.9 322.6L435.9 323.3M435.9 322.6L438.4 322.6M435.9 323.3L439.8 323.3M437.5 324.0L442.6 324.0M434.3 323.0L434.3 324.0M434.3 323.0L435.9 323.0M434.3 324.0L437.5 324.0M430.4 320.8L430.4 323.5M430.4 320.8L431.6 320.8M430.4 323.5L434.3 323.5M439.0 324.7L442.6 324.7M437.9 325.5L442.6 325.5M436.4 324.7L436.4 325.5M436.4 324.7L439.0 324.7M436.4 325.5L437.9 325.5M439.1 326.3L442.6 326.3M439.0 326.9L442.6 326.9M436.1 326.3L436.1 326.9M436.1 326.3L439.1 326.3M436.1 326.9L439.0 326.9M433.5 325.1L433.5 326.6M433.5 325.1L436.4 325.1M433.5 326.6L436.1 326.6M436.4 327.7L442.6 327.7M437.5 328.6L442.6 328.6M438.5 329.4L442.6 329.4M439.6 329.9L442.6 329.9M436.8 329.4L436.8 329.9M436.8 329.4L438.5 329.4M436.8 329.9L439.6 329.9M433.6 328.6L433.6 329.7M433.6 328.6L437.5 328.6M433.6 329.7L436.8 329.7M432.1 327.7L432.1 329.1M432.1 327.7L436.4 327.7M432.1 329.1L433.6 329.1M439.3 330.4L442.6 330.4M438.9 330.9L442.6 330.9M436.1 330.4L436.1 330.9M436.1 330.4L439.3 330.4M436.1 330.9L438.9 330.9M437.4 331.6L442.6 331.6M434.3 330.7L434.3 331.6M434.3 330.7L436.1 330.7M434.3 331.6L437.4 331.6M437.6 332.6L442.6 332.6M429.5 331.1L429.5 332.6M429.5 331.1L434.3 331.1M429.5 332.6L437.6 332.6M438.6 333.4L442.6 333.4M440.1 334.1L442.6 334.1M437.4 333.4L437.4 334.1M437.4 333.4L438.6 333.4M437.4 334.1L440.1 334.1M440.8 334.4L442.6 334.4M438.4 334.9L442.6 334.9M437.2 334.4L437.2 334.9M437.2 334.4L440.8 334.4M437.2 334.9L438.4 334.9M438.5 335.7L442.6 335.7M433.8 334.7L433.8 335.7M433.8 334.7L437.2 334.7M433.8 335.7L438.5 335.7M430.0 333.8L430.0 335.2M430.0 333.8L437.4 333.8M430.0 335.2L433.8 335.2M439.0 336.2L442.6 336.2M437.8 336.8L442.6 336.8M439.5 337.4L442.6 337.4M436.3 336.8L436.3 337.4M436.3 336.8L437.8 336.8M436.3 337.4L439.5 337.4M435.1 336.2L435.1 337.1M435.1 336.2L439.0 336.2M435.1 337.1L436.3 337.1M437.0 338.1L442.6 338.1M438.9 338.9L442.6 338.9M435.8 338.1L435.8 338.9M435.8 338.1L437.0 338.1M435.8 338.9L438.9 338.9M437.2 339.8L442.6 339.8M433.6 338.5L433.6 339.8M433.6 338.5L435.8 338.5M433.6 339.8L437.2 339.8M429.1 336.7L429.1 339.1M429.1 336.7L435.1 336.7M429.1 339.1L433.6 339.1M439.5 340.5L442.6 340.5M438.8 341.1L442.6 341.1M437.3 340.5L437.3 341.1M437.3 340.5L439.5 340.5M437.3 341.1L438.8 341.1M439.8 341.8L442.6 341.8M435.6 340.8L435.6 341.8M435.6 340.8L437.3 340.8M435.6 341.8L439.8 341.8M437.1 342.5L442.6 342.5M433.0 341.3L433.0 342.5M433.0 341.3L435.6 341.3M433.0 342.5L437.1 342.5M438.6 343.3L442.6 343.3M437.4 344.0L442.6 344.0M437.3 344.7L442.6 344.7M435.8 344.0L435.8 344.7M435.8 344.0L437.4 344.0M435.8 344.7L437.3 344.7M433.3 343.3L433.3 344.3M433.3 343.3L438.6 343.3M433.3 344.3L435.8 344.3M437.8 345.6L442.6 345.6M440.3 346.3L442.6 346.3M436.6 345.6L436.6 346.3M436.6 345.6L437.8 345.6M436.6 346.3L440.3 346.3M437.6 346.9L442.6 346.9M439.6 347.7L442.6 347.7M436.2 346.9L436.2 347.7M436.2 346.9L437.6 346.9M436.2 347.7L439.6 347.7M433.9 345.9L433.9 347.3M433.9 345.9L436.6 345.9M433.9 347.3L436.2 347.3M429.6 343.8L429.6 346.6M429.6 343.8L433.3 343.8M429.6 346.6L433.9 346.6M437.8 348.2L442.6 348.2M439.3 348.8L442.6 348.8M438.1 349.5L442.6 349.5M435.1 348.8L435.1 349.5M435.1 348.8L439.3 348.8M435.1 349.5L438.1 349.5M433.9 348.2L433.9 349.2M433.9 348.2L437.8 348.2M433.9 349.2L435.1 349.2M428.4 345.2L428.4 348.7M428.4 345.2L429.6 345.2M428.4 348.7L433.9 348.7M438.0 350.4L442.6 350.4M438.9 351.0L442.6 351.0M437.7 351.7L442.6 351.7M436.1 351.0L436.1 351.7M436.1 351.0L438.9 351.0M436.1 351.7L437.7 351.7M434.9 350.4L434.9 351.3M434.9 350.4L438.0 350.4M434.9 351.3L436.1 351.3M438.8 352.4L442.6 352.4M439.2 353.0L442.6 353.0M436.8 352.4L436.8 353.0M436.8 352.4L438.8 352.4M436.8 353.0L439.2 353.0M432.1 350.9L432.1 352.7M432.1 350.9L434.9 350.9M432.1 352.7L436.8 352.7M439.7 353.5L442.6 353.5M439.5 354.0L442.6 354.0M439.1 354.5L442.6 354.5M437.1 354.0L437.1 354.5M437.1 354.0L439.5 354.0M437.1 354.5L439.1 354.5M435.1 353.5L435.1 354.3M435.1 353.5L439.7 353.5M435.1 354.3L437.1 354.3M438.1 355.2L442.6 355.2M439.8 355.8L442.6 355.8M439.2 356.3L442.6 356.3M437.5 355.8L437.5 356.3M437.5 355.8L439.8 355.8M437.5 356.3L439.2 356.3M434.4 355.2L434.4 356.1M434.4 355.2L438.1 355.2M434.4 356.1L437.5 356.1M432.7 353.9L432.7 355.7M432.7 353.9L435.1 353.9M432.7 355.7L434.4 355.7M437.3 357.1L442.6 357.1M437.8 358.0L442.6 358.0M433.0 357.1L433.0 358.0M433.0 357.1L437.3 357.1M433.0 358.0L437.8 358.0M439.0 358.8L442.6 358.8M430.6 357.5L430.6 358.8M430.6 357.5L433.0 357.5M430.6 358.8L439.0 358.8M437.3 359.6L442.6 359.6M438.3 360.5L442.6 360.5M435.0 359.6L435.0 360.5M435.0 359.6L437.3 359.6M435.0 360.5L438.3 360.5M439.1 361.2L442.6 361.2M433.8 360.0L433.8 361.2M433.8 360.0L435.0 360.0M433.8 361.2L439.1 361.2M438.9 361.9L442.6 361.9M439.8 362.5L442.6 362.5M435.5 361.9L435.5 362.5M435.5 361.9L438.9 361.9M435.5 362.5L439.8 362.5M440.0 362.9L442.6 362.9M438.7 363.4L442.6 363.4M437.5 362.9L437.5 363.4M437.5 362.9L440.0 362.9M437.5 363.4L438.7 363.4M431.9 362.2L431.9 363.1M431.9 362.2L435.5 362.2M431.9 363.1L437.5 363.1M438.9 364.1L442.6 364.1M438.2 364.8L442.6 364.8M434.8 364.1L434.8 364.8M434.8 364.1L438.9 364.1M434.8 364.8L438.2 364.8M438.5 365.6L442.6 365.6M432.6 364.5L432.6 365.6M432.6 364.5L434.8 364.5M432.6 365.6L438.5 365.6M437.6 366.5L442.6 366.5M438.2 367.3L442.6 367.3M436.4 366.5L436.4 367.3M436.4 366.5L437.6 366.5M436.4 367.3L438.2 367.3M439.6 367.9L442.6 367.9M439.3 368.5L442.6 368.5M439.3 369.0L442.6 369.0M438.0 368.5L438.0 369.0M438.0 368.5L439.3 368.5M438.0 369.0L439.3 369.0M434.6 367.9L434.6 368.7M434.6 367.9L439.6 367.9M434.6 368.7L438.0 368.7M430.8 366.9L430.8 368.3M430.8 366.9L436.4 366.9M430.8 368.3L434.6 368.3M439.5 369.6L442.6 369.6M437.9 370.3L442.6 370.3M436.0 369.6L436.0 370.3M436.0 369.6L439.5 369.6M436.0 370.3L437.9 370.3M438.5 371.2L442.6 371.2M432.6 370.0L432.6 371.2M432.6 370.0L436.0 370.0M432.6 371.2L438.5 371.2M439.1 371.9L442.6 371.9M440.0 372.4L442.6 372.4M437.0 371.9L437.0 372.4M437.0 371.9L439.1 371.9M437.0 372.4L440.0 372.4M429.2 370.6L429.2 372.2M429.2 370.6L432.6 370.6M429.2 372.2L437.0 372.2M438.9 372.9L442.6 372.9M439.6 373.4L442.6 373.4M437.7 372.9L437.7 373.4M437.7 372.9L438.9 372.9M437.7 373.4L439.6 373.4M439.3 373.9L442.6 373.9M438.8 374.5L442.6 374.5M438.4 375.2L442.6 375.2M436.3 374.5L436.3 375.2M436.3 374.5L438.8 374.5M436.3 375.2L438.4 375.2M435.1 373.9L435.1 374.8M435.1 373.9L439.3 373.9M435.1 374.8L436.3 374.8M433.3 373.2L433.3 374.4M433.3 373.2L437.7 373.2M433.3 374.4L435.1 374.4M440.0 375.8L442.6 375.8M437.4 376.4L442.6 376.4M435.6 375.8L435.6 376.4M435.6 375.8L440.0 375.8M435.6 376.4L437.4 376.4M440.6 377.0L442.6 377.0M436.7 377.7L442.6 377.7M434.9 377.0L434.9 377.7M434.9 377.0L440.6 377.0M434.9 377.7L436.7 377.7M431.3 376.1L431.3 377.3M431.3 376.1L435.6 376.1M431.3 377.3L434.9 377.3M429.8 373.8L429.8 376.7M429.8 373.8L433.3 373.8M429.8 376.7L431.3 376.7M438.8 378.5L442.6 378.5M439.7 379.1L442.6 379.1M437.6 379.7L442.6 379.7M436.4 379.1L436.4 379.7M436.4 379.1L439.7 379.1M436.4 379.7L437.6 379.7M435.2 378.5L435.2 379.4M435.2 378.5L438.8 378.5M435.2 379.4L436.4 379.4M438.2 380.4L442.6 380.4M434.0 378.9L434.0 380.4M434.0 378.9L435.2 378.9M434.0 380.4L438.2 380.4M439.1 381.1L442.6 381.1M439.1 381.8L442.6 381.8M436.4 381.1L436.4 381.8M436.4 381.1L439.1 381.1M436.4 381.8L439.1 381.8M439.3 382.4L442.6 382.4M439.9 382.9L442.6 382.9M438.1 382.4L438.1 382.9M438.1 382.4L439.3 382.4M438.1 382.9L439.9 382.9M438.5 383.5L442.6 383.5M434.6 382.6L434.6 383.5M434.6 382.6L438.1 382.6M434.6 383.5L438.5 383.5M433.4 381.5L433.4 383.0M433.4 381.5L436.4 381.5M433.4 383.0L434.6 383.0M440.1 384.0L442.6 384.0M438.9 384.5L442.6 384.5M437.7 384.0L437.7 384.5M437.7 384.0L440.1 384.0M437.7 384.5L438.9 384.5M438.0 385.4L442.6 385.4M434.4 384.3L434.4 385.4M434.4 384.3L437.7 384.3M434.4 385.4L438.0 385.4M440.2 386.0L442.6 386.0M438.4 386.6L442.6 386.6M437.2 386.0L437.2 386.6M437.2 386.0L440.2 386.0M437.2 386.6L438.4 386.6M439.4 387.3L442.6 387.3M433.1 386.3L433.1 387.3M433.1 386.3L437.2 386.3M433.1 387.3L439.4 387.3M439.1 387.9L442.6 387.9M439.9 388.5L442.6 388.5M438.5 389.1L442.6 389.1M437.3 388.5L437.3 389.1M437.3 388.5L439.9 388.5M437.3 389.1L438.5 389.1M433.5 387.9L433.5 388.8M433.5 387.9L439.1 387.9M433.5 388.8L437.3 388.8M431.8 386.8L431.8 388.3M431.8 386.8L433.1 386.8M431.8 388.3L433.5 388.3M438.6 389.7L442.6 389.7M438.2 390.3L442.6 390.3M439.5 390.9L442.6 390.9M437.0 390.3L437.0 390.9M437.0 390.3L438.2 390.3M437.0 390.9L439.5 390.9M435.5 389.7L435.5 390.6M435.5 389.7L438.6 389.7M435.5 390.6L437.0 390.6M440.8 391.3L442.6 391.3M438.4 391.8L442.6 391.8M437.2 391.3L437.2 391.8M437.2 391.3L440.8 391.3M437.2 391.8L438.4 391.8M430.8 390.2L430.8 391.5M430.8 390.2L435.5 390.2M430.8 391.5L437.2 391.5M438.5 392.5L442.6 392.5M440.5 393.1L442.6 393.1M436.0 392.5L436.0 393.1M436.0 392.5L438.5 392.5M436.0 393.1L440.5 393.1M440.0 393.5L442.6 393.5M438.9 394.0L442.6 394.0M437.1 393.5L437.1 394.0M437.1 393.5L440.0 393.5M437.1 394.0L438.9 394.0M439.1 394.7L442.6 394.7M438.0 395.5L442.6 395.5M436.8 394.7L436.8 395.5M436.8 394.7L439.1 394.7M436.8 395.5L438.0 395.5M433.0 393.8L433.0 395.1M433.0 393.8L437.1 393.8M433.0 395.1L436.8 395.1M430.6 392.8L430.6 394.4M430.6 392.8L436.0 392.8M430.6 394.4L433.0 394.4M438.9 396.2L442.6 396.2M437.4 396.9L442.6 396.9M436.2 396.2L436.2 396.9M436.2 396.2L438.9 396.2M436.2 396.9L437.4 396.9M437.8 397.8L442.6 397.8M439.6 398.5L442.6 398.5M439.2 399.1L442.6 399.1M439.3 399.7L442.6 399.7M438.0 399.1L438.0 399.7M438.0 399.1L439.2 399.1M438.0 399.7L439.3 399.7M435.3 398.5L435.3 399.4M435.3 398.5L439.6 398.5M435.3 399.4L438.0 399.4M431.5 397.8L431.5 399.0M431.5 397.8L437.8 397.8M431.5 399.0L435.3 399.0M428.6 396.6L428.6 398.4M428.6 396.6L436.2 396.6M428.6 398.4L431.5 398.4M437.9 400.3L442.6 400.3M438.6 401.0L442.6 401.0M436.7 400.3L436.7 401.0M436.7 400.3L437.9 400.3M436.7 401.0L438.6 401.0M438.9 401.5L442.6 401.5M435.1 400.6L435.1 401.5M435.1 400.6L436.7 400.6M435.1 401.5L438.9 401.5M438.3 402.1L442.6 402.1M433.9 401.1L433.9 402.1M433.9 401.1L435.1 401.1M433.9 402.1L438.3 402.1M440.3 402.7L442.6 402.7M438.9 403.2L442.6 403.2M437.3 402.7L437.3 403.2M437.3 402.7L440.3 402.7M437.3 403.2L438.9 403.2M439.2 403.8L442.6 403.8M438.2 404.5L442.6 404.5M435.9 403.8L435.9 404.5M435.9 403.8L439.2 403.8M435.9 404.5L438.2 404.5M433.3 402.9L433.3 404.2M433.3 402.9L437.3 402.9M433.3 404.2L435.9 404.2M440.0 405.1L442.6 405.1M439.2 405.6L442.6 405.6M438.0 405.1L438.0 405.6M438.0 405.1L440.0 405.1M438.0 405.6L439.2 405.6M440.8 406.0L442.6 406.0M438.4 406.5L442.6 406.5M436.8 406.0L436.8 406.5M436.8 406.0L440.8 406.0M436.8 406.5L438.4 406.5M438.1 407.3L442.6 407.3M435.1 406.3L435.1 407.3M435.1 406.3L436.8 406.3M435.1 407.3L438.1 407.3M433.8 405.3L433.8 406.8M433.8 405.3L438.0 405.3M433.8 406.8L435.1 406.8M439.7 407.9L442.6 407.9M439.1 408.5L442.6 408.5M436.0 407.9L436.0 408.5M436.0 407.9L439.7 407.9M436.0 408.5L439.1 408.5M438.7 409.1L442.6 409.1M438.2 409.7L442.6 409.7M436.3 409.1L436.3 409.7M436.3 409.1L438.7 409.1M436.3 409.7L438.2 409.7M433.0 408.2L433.0 409.4M433.0 408.2L436.0 408.2M433.0 409.4L436.3 409.4M439.3 410.4L442.6 410.4M437.9 411.0L442.6 411.0M436.2 410.4L436.2 411.0M436.2 410.4L439.3 410.4M436.2 411.0L437.9 411.0M437.8 411.7L442.6 411.7M439.5 412.3L442.6 412.3M435.0 411.7L435.0 412.3M435.0 411.7L437.8 411.7M435.0 412.3L439.5 412.3M432.1 410.7L432.1 412.0M432.1 410.7L436.2 410.7M432.1 412.0L435.0 412.0M438.7 413.0L442.6 413.0M440.6 413.6L442.6 413.6M435.9 413.0L435.9 413.6M435.9 413.0L438.7 413.0M435.9 413.6L440.6 413.6M439.1 414.0L442.6 414.0M434.7 413.3L434.7 414.0M434.7 413.3L435.9 413.3M434.7 414.0L439.1 414.0M438.6 414.7L442.6 414.7M440.9 415.3L442.6 415.3M437.3 414.7L437.3 415.3M437.3 414.7L438.6 414.7M437.3 415.3L440.9 415.3M439.9 415.6L442.6 415.6M439.0 416.2L442.6 416.2M437.2 415.6L437.2 416.2M437.2 415.6L439.9 415.6M437.2 416.2L439.0 416.2M434.3 415.0L434.3 415.9M434.3 415.0L437.3 415.0M434.3 415.9L437.2 415.9M431.2 413.7L431.2 415.5M431.2 413.7L434.7 413.7M431.2 415.5L434.3 415.5M429.0 411.3L429.0 414.6M429.0 411.3L432.1 411.3M429.0 414.6L431.2 414.6" stroke="#111" stroke-width="0.65" fill="none"/>
<rect x="437.5" y="106.8" width="5.2" height="309.8" fill="url(#dg)"/>
<text x="465.6" y="430" font-size="13" fill="#222" text-anchor="middle" font-weight="normal" >DGB</text>
<text x="511.9" y="430" font-size="13" fill="#222" text-anchor="middle" font-weight="normal" >DGL</text>
<text x="558.3" y="430" font-size="13" fill="#222" text-anchor="middle" font-weight="normal" >AAL</text>
<text x="604.8" y="430" font-size="13" fill="#222" text-anchor="middle" font-weight="normal" >AAB</text>
<defs><linearGradient id="lg" x1="0" y1="0" x2="0" y2="1"><stop offset="0.000" stop-color="rgb(224, 51, 34)"/><stop offset="0.206" stop-color="rgb(240, 90, 90)"/><stop offset="0.360" stop-color="rgb(249, 160, 165)"/><stop offset="0.515" stop-color="rgb(255, 255, 255)"/><stop offset="0.660" stop-color="rgb(185, 185, 230)"/><stop offset="0.806" stop-color="rgb(105, 115, 195)"/><stop offset="1.000" stop-color="rgb(52, 72, 164)"/></linearGradient></defs>
<rect x="641.4" y="107.4" width="15.4" height="146.6" fill="url(#lg)"/>
<text transform="translate(662.0,141.1) scale(1.05,1)" font-size="12.6" fill="#222">1</text>
<text transform="translate(662.0,163.9) scale(1.05,1)" font-size="12.6" fill="#222">0.5</text>
<text transform="translate(662.0,187.0) scale(1.05,1)" font-size="12.6" fill="#222">0</text>
<text transform="translate(662.0,210.1) scale(1.05,1)" font-size="12.6" fill="#222">-0.5</text>
<text transform="translate(662.0,233.0) scale(1.05,1)" font-size="12.6" fill="#222">-1</text>
<text transform="translate(103.8,534.5) scale(1.175,1)" font-size="16" font-weight="bold" fill="#111" stroke="#111" stroke-width="0.25">subcluster_1, 382 genes</text>
<g stroke="#d3d3d3" stroke-width="1.25" fill="none" stroke-linejoin="round">
<polyline points="108.5,699.4 177.5,650.3 246.6,688.3 315.6,681.1"/>
<polyline points="108.5,699.4 177.5,689.8 246.6,717.6 315.6,681.9"/>
<polyline points="108.5,699.4 177.5,694.7 246.6,721.6 315.6,678.4"/>
<polyline points="108.5,699.4 177.5,672.5 246.6,698.7 315.6,701.2"/>
<polyline points="108.5,699.4 177.5,675.0 246.6,705.8 315.6,713.3"/>
<polyline points="108.5,699.4 177.5,664.8 246.6,701.3 315.6,678.3"/>
<polyline points="108.5,699.4 177.5,677.9 246.6,690.8 315.6,678.4"/>
<polyline points="108.5,699.4 177.5,657.6 246.6,709.2 315.6,678.0"/>
<polyline points="108.5,699.4 177.5,655.4 246.6,697.0 315.6,679.9"/>
<polyline points="108.5,699.4 177.5,695.9 246.6,699.9 315.6,680.9"/>
<polyline points="108.5,699.4 177.5,661.2 246.6,702.5 315.6,660.2"/>
<polyline points="108.5,699.4 177.5,676.1 246.6,702.7 315.6,668.8"/>
<polyline points="108.5,699.4 177.5,695.9 246.6,709.7 315.6,692.7"/>
<polyline points="108.5,699.4 177.5,637.1 246.6,706.1 315.6,669.1"/>
<polyline points="108.5,699.4 177.5,663.2 246.6,708.3 315.6,714.3"/>
<polyline points="108.5,699.4 177.5,656.6 246.6,709.7 315.6,667.8"/>
<polyline points="108.5,699.4 177.5,700.1 246.6,710.1 315.6,656.8"/>
<polyline points="108.5,699.4 177.5,647.6 246.6,720.0 315.6,709.8"/>
<polyline points="108.5,699.4 177.5,675.9 246.6,696.6 315.6,679.2"/>
<polyline points="108.5,699.4 177.5,669.3 246.6,716.4 315.6,670.5"/>
<polyline points="108.5,699.4 177.5,653.6 246.6,710.1 315.6,711.9"/>
<polyline points="108.5,699.4 177.5,689.6 246.6,696.3 315.6,684.4"/>
<polyline points="108.5,699.4 177.5,694.1 246.6,706.5 315.6,687.5"/>
<polyline points="108.5,699.4 177.5,674.8 246.6,687.7 315.6,673.9"/>
<polyline points="108.5,699.4 177.5,649.5 246.6,706.7 315.6,692.3"/>
<polyline points="108.5,699.4 177.5,667.8 246.6,705.5 315.6,679.2"/>
<polyline points="108.5,699.4 177.5,698.8 246.6,699.7 315.6,694.0"/>
<polyline points="108.5,699.4 177.5,679.2 246.6,716.3 315.6,693.2"/>
<polyline points="108.5,699.4 177.5,678.0 246.6,690.6 315.6,680.4"/>
<polyline points="108.5,699.4 177.5,675.6 246.6,700.6 315.6,657.1"/>
<polyline points="108.5,699.4 177.5,695.8 246.6,700.0 315.6,705.6"/>
<polyline points="108.5,699.4 177.5,693.8 246.6,709.6 315.6,643.7"/>
<polyline points="108.5,699.4 177.5,661.7 246.6,712.0 315.6,688.3"/>
<polyline points="108.5,699.4 177.5,697.2 246.6,705.4 315.6,694.2"/>
<polyline points="108.5,699.4 177.5,661.2 246.6,720.7 315.6,689.4"/>
<polyline points="108.5,699.4 177.5,691.2 246.6,713.3 315.6,667.9"/>
<polyline points="108.5,699.4 177.5,672.7 246.6,698.3 315.6,658.2"/>
<polyline points="108.5,699.4 177.5,653.0 246.6,720.8 315.6,671.5"/>
<polyline points="108.5,699.4 177.5,676.3 246.6,707.3 315.6,690.1"/>
<polyline points="108.5,699.4 177.5,671.8 246.6,704.8 315.6,682.0"/>
<polyline points="108.5,699.4 177.5,689.6 246.6,692.6 315.6,664.3"/>
<polyline points="108.5,699.4 177.5,679.2 246.6,701.4 315.6,669.0"/>
<polyline points="108.5,699.4 177.5,655.3 246.6,700.5 315.6,668.3"/>
<polyline points="108.5,699.4 177.5,680.1 246.6,717.4 315.6,692.6"/>
<polyline points="108.5,699.4 177.5,655.5 246.6,693.8 315.6,679.5"/>
<polyline points="108.5,699.4 177.5,686.0 246.6,701.5 315.6,648.4"/>
<polyline points="108.5,699.4 177.5,649.1 246.6,712.9 315.6,683.4"/>
<polyline points="108.5,699.4 177.5,703.0 246.6,718.1 315.6,678.6"/>
<polyline points="108.5,699.4 177.5,674.6 246.6,693.9 315.6,656.5"/>
<polyline points="108.5,699.4 177.5,659.0 246.6,689.8 315.6,693.7"/>
<polyline points="108.5,699.4 177.5,696.8 246.6,699.3 315.6,675.2"/>
<polyline points="108.5,699.4 177.5,697.2 246.6,702.2 315.6,653.3"/>
<polyline points="108.5,699.4 177.5,694.9 246.6,695.8 315.6,695.0"/>
<polyline points="108.5,699.4 177.5,650.6 246.6,696.0 315.6,676.3"/>
<polyline points="108.5,699.4 177.5,682.9 246.6,712.9 315.6,644.5"/>
<polyline points="108.5,699.4 177.5,691.9 246.6,705.5 315.6,703.7"/>
<polyline points="108.5,699.4 177.5,675.1 246.6,703.5 315.6,678.4"/>
<polyline points="108.5,699.4 177.5,678.8 246.6,692.6 315.6,693.9"/>
<polyline points="108.5,699.4 177.5,680.1 246.6,728.0 315.6,689.5"/>
<polyline points="108.5,699.4 177.5,697.0 246.6,712.7 315.6,669.4"/>
<polyline points="108.5,699.4 177.5,667.2 246.6,688.4 315.6,694.8"/>
<polyline points="108.5,699.4 177.5,669.9 246.6,691.5 315.6,664.0"/>
<polyline points="108.5,699.4 177.5,681.5 246.6,692.0 315.6,701.4"/>
<polyline points="108.5,699.4 177.5,640.5 246.6,703.3 315.6,684.8"/>
<polyline points="108.5,699.4 177.5,669.9 246.6,695.3 315.6,646.8"/>
<polyline points="108.5,699.4 177.5,677.8 246.6,709.3 315.6,670.5"/>
<polyline points="108.5,699.4 177.5,691.8 246.6,724.6 315.6,665.4"/>
<polyline points="108.5,699.4 177.5,682.4 246.6,692.1 315.6,703.5"/>
<polyline points="108.5,699.4 177.5,669.6 246.6,703.2 315.6,649.7"/>
<polyline points="108.5,699.4 177.5,665.0 246.6,701.5 315.6,670.5"/>
<polyline points="108.5,699.4 177.5,682.1 246.6,704.1 315.6,710.2"/>
<polyline points="108.5,699.4 177.5,665.1 246.6,714.3 315.6,691.6"/>
<polyline points="108.5,699.4 177.5,661.6 246.6,694.5 315.6,703.1"/>
<polyline points="108.5,699.4 177.5,686.4 246.6,695.4 315.6,663.0"/>
<polyline points="108.5,699.4 177.5,670.8 246.6,703.0 315.6,645.7"/>
<polyline points="108.5,699.4 177.5,658.0 246.6,699.9 315.6,697.8"/>
<polyline points="108.5,699.4 177.5,652.8 246.6,702.8 315.6,702.1"/>
<polyline points="108.5,699.4 177.5,687.4 246.6,708.6 315.6,668.5"/>
<polyline points="108.5,699.4 177.5,667.6 246.6,693.5 315.6,699.2"/>
<polyline points="108.5,699.4 177.5,656.1 246.6,710.8 315.6,688.6"/>
<polyline points="108.5,699.4 177.5,641.8 246.6,704.2 315.6,685.4"/>
<polyline points="108.5,699.4 177.5,679.1 246.6,709.5 315.6,650.6"/>
<polyline points="108.5,699.4 177.5,648.6 246.6,696.8 315.6,678.7"/>
<polyline points="108.5,699.4 177.5,655.1 246.6,705.9 315.6,673.2"/>
<polyline points="108.5,699.4 177.5,667.4 246.6,704.0 315.6,648.7"/>
<polyline points="108.5,699.4 177.5,641.4 246.6,689.8 315.6,644.9"/>
<polyline points="108.5,699.4 177.5,661.6 246.6,710.2 315.6,683.0"/>
<polyline points="108.5,699.4 177.5,653.2 246.6,691.5 315.6,665.0"/>
<polyline points="108.5,699.4 177.5,672.4 246.6,704.6 315.6,665.5"/>
<polyline points="108.5,699.4 177.5,676.8 246.6,715.4 315.6,695.3"/>
<polyline points="108.5,699.4 177.5,677.8 246.6,701.2 315.6,636.1"/>
<polyline points="108.5,699.4 177.5,701.4 246.6,699.5 315.6,684.4"/>
<polyline points="108.5,699.4 177.5,669.3 246.6,689.4 315.6,657.1"/>
<polyline points="108.5,699.4 177.5,678.1 246.6,711.5 315.6,710.4"/>
<polyline points="108.5,699.4 177.5,676.4 246.6,690.7 315.6,687.9"/>
<polyline points="108.5,699.4 177.5,661.6 246.6,696.9 315.6,674.4"/>
<polyline points="108.5,699.4 177.5,654.3 246.6,706.3 315.6,699.5"/>
<polyline points="108.5,699.4 177.5,697.6 246.6,694.4 315.6,689.9"/>
<polyline points="108.5,699.4 177.5,681.1 246.6,695.4 315.6,698.7"/>
<polyline points="108.5,699.4 177.5,641.1 246.6,697.4 315.6,693.3"/>
<polyline points="108.5,699.4 177.5,687.2 246.6,692.6 315.6,706.7"/>
<polyline points="108.5,699.4 177.5,687.4 246.6,705.0 315.6,678.4"/>
<polyline points="108.5,699.4 177.5,674.8 246.6,700.6 315.6,690.0"/>
<polyline points="108.5,699.4 177.5,677.4 246.6,690.5 315.6,669.3"/>
<polyline points="108.5,699.4 177.5,683.7 246.6,728.0 315.6,680.8"/>
<polyline points="108.5,699.4 177.5,662.3 246.6,693.8 315.6,680.2"/>
<polyline points="108.5,699.4 177.5,682.5 246.6,698.3 315.6,686.5"/>
<polyline points="108.5,699.4 177.5,666.0 246.6,700.6 315.6,698.7"/>
<polyline points="108.5,699.4 177.5,657.0 246.6,696.4 315.6,667.6"/>
<polyline points="108.5,699.4 177.5,682.8 246.6,700.0 315.6,689.5"/>
<polyline points="108.5,699.4 177.5,671.0 246.6,706.6 315.6,700.3"/>
<polyline points="108.5,699.4 177.5,637.1 246.6,696.7 315.6,664.2"/>
<polyline points="108.5,699.4 177.5,701.8 246.6,707.7 315.6,694.4"/>
<polyline points="108.5,699.4 177.5,685.3 246.6,702.3 315.6,689.2"/>
<polyline points="108.5,699.4 177.5,702.9 246.6,705.1 315.6,675.0"/>
<polyline points="108.5,699.4 177.5,641.1 246.6,709.8 315.6,706.9"/>
<polyline points="108.5,699.4 177.5,682.4 246.6,697.5 315.6,700.6"/>
<polyline points="108.5,699.4 177.5,688.9 246.6,698.6 315.6,682.7"/>
<polyline points="108.5,699.4 177.5,670.8 246.6,712.3 315.6,699.4"/>
<polyline points="108.5,699.4 177.5,681.3 246.6,706.8 315.6,689.3"/>
<polyline points="108.5,699.4 177.5,666.8 246.6,698.7 315.6,671.3"/>
<polyline points="108.5,699.4 177.5,665.9 246.6,715.2 315.6,705.4"/>
<polyline points="108.5,699.4 177.5,659.7 246.6,704.9 315.6,680.0"/>
<polyline points="108.5,699.4 177.5,697.3 246.6,707.5 315.6,695.6"/>
<polyline points="108.5,699.4 177.5,691.7 246.6,712.3 315.6,713.1"/>
<polyline points="108.5,699.4 177.5,673.4 246.6,691.6 315.6,697.0"/>
<polyline points="108.5,699.4 177.5,673.3 246.6,717.6 315.6,668.7"/>
<polyline points="108.5,699.4 177.5,639.3 246.6,719.2 315.6,687.2"/>
<polyline points="108.5,699.4 177.5,647.7 246.6,700.8 315.6,680.2"/>
<polyline points="108.5,699.4 177.5,678.0 246.6,694.5 315.6,653.1"/>
<polyline points="108.5,699.4 177.5,662.8 246.6,711.7 315.6,696.6"/>
<polyline points="108.5,699.4 177.5,695.7 246.6,692.1 315.6,684.8"/>
<polyline points="108.5,699.4 177.5,700.8 246.6,689.8 315.6,716.8"/>
<polyline points="108.5,699.4 177.5,650.9 246.6,708.8 315.6,675.6"/>
<polyline points="108.5,699.4 177.5,662.0 246.6,702.0 315.6,656.5"/>
<polyline points="108.5,699.4 177.5,674.8 246.6,708.8 315.6,696.1"/>
<polyline points="108.5,699.4 177.5,702.8 246.6,713.0 315.6,662.4"/>
<polyline points="108.5,699.4 177.5,659.2 246.6,689.0 315.6,667.9"/>
<polyline points="108.5,699.4 177.5,665.5 246.6,720.2 315.6,687.5"/>
<polyline points="108.5,699.4 177.5,664.9 246.6,706.6 315.6,676.2"/>
<polyline points="108.5,699.4 177.5,691.1 246.6,720.1 315.6,666.8"/>
<polyline points="108.5,699.4 177.5,656.5 246.6,707.1 315.6,675.4"/>
<polyline points="108.5,699.4 177.5,694.4 246.6,699.8 315.6,666.9"/>
<polyline points="108.5,699.4 177.5,645.6 246.6,687.1 315.6,672.5"/>
<polyline points="108.5,699.4 177.5,677.5 246.6,714.5 315.6,694.9"/>
<polyline points="108.5,699.4 177.5,663.2 246.6,698.5 315.6,682.1"/>
<polyline points="108.5,699.4 177.5,643.1 246.6,697.6 315.6,682.2"/>
<polyline points="108.5,699.4 177.5,678.7 246.6,704.1 315.6,701.9"/>
<polyline points="108.5,699.4 177.5,693.9 246.6,701.0 315.6,694.5"/>
<polyline points="108.5,699.4 177.5,680.3 246.6,691.0 315.6,686.5"/>
<polyline points="108.5,699.4 177.5,649.9 246.6,705.1 315.6,651.4"/>
<polyline points="108.5,699.4 177.5,666.2 246.6,725.3 315.6,657.1"/>
<polyline points="108.5,699.4 177.5,679.1 246.6,727.7 315.6,680.2"/>
<polyline points="108.5,699.4 177.5,672.1 246.6,719.9 315.6,694.9"/>
<polyline points="108.5,699.4 177.5,664.6 246.6,688.8 315.6,659.1"/>
<polyline points="108.5,699.4 177.5,651.6 246.6,692.1 315.6,697.4"/>
<polyline points="108.5,699.4 177.5,671.5 246.6,696.2 315.6,664.2"/>
<polyline points="108.5,699.4 177.5,690.0 246.6,709.4 315.6,701.7"/>
<polyline points="108.5,699.4 177.5,675.4 246.6,705.5 315.6,682.7"/>
<polyline points="108.5,699.4 177.5,694.7 246.6,700.6 315.6,689.5"/>
<polyline points="108.5,699.4 177.5,656.8 246.6,701.4 315.6,712.9"/>
<polyline points="108.5,699.4 177.5,702.8 246.6,704.2 315.6,692.4"/>
<polyline points="108.5,699.4 177.5,666.1 246.6,695.7 315.6,682.1"/>
<polyline points="108.5,699.4 177.5,707.4 246.6,718.8 315.6,670.8"/>
<polyline points="108.5,699.4 177.5,695.2 246.6,692.3 315.6,684.4"/>
<polyline points="108.5,699.4 177.5,665.1 246.6,715.2 315.6,684.6"/>
<polyline points="108.5,699.4 177.5,679.1 246.6,698.4 315.6,700.9"/>
<polyline points="108.5,699.4 177.5,691.3 246.6,705.6 315.6,681.2"/>
<polyline points="108.5,699.4 177.5,690.6 246.6,697.2 315.6,716.2"/>
<polyline points="108.5,699.4 177.5,653.7 246.6,721.2 315.6,699.4"/>
<polyline points="108.5,699.4 177.5,649.5 246.6,716.5 315.6,716.4"/>
<polyline points="108.5,699.4 177.5,673.6 246.6,715.6 315.6,705.4"/>
<polyline points="108.5,699.4 177.5,688.5 246.6,713.6 315.6,702.5"/>
<polyline points="108.5,699.4 177.5,694.8 246.6,712.8 315.6,662.6"/>
<polyline points="108.5,699.4 177.5,702.1 246.6,698.8 315.6,708.1"/>
<polyline points="108.5,699.4 177.5,683.9 246.6,697.7 315.6,693.4"/>
<polyline points="108.5,699.4 177.5,685.7 246.6,706.8 315.6,670.8"/>
<polyline points="108.5,699.4 177.5,694.2 246.6,708.5 315.6,681.2"/>
<polyline points="108.5,699.4 177.5,706.7 246.6,706.3 315.6,699.5"/>
<polyline points="108.5,699.4 177.5,666.7 246.6,706.3 315.6,685.9"/>
<polyline points="108.5,699.4 177.5,677.2 246.6,709.3 315.6,701.8"/>
<polyline points="108.5,699.4 177.5,684.9 246.6,719.6 315.6,678.9"/>
<polyline points="108.5,699.4 177.5,662.4 246.6,698.2 315.6,693.1"/>
<polyline points="108.5,699.4 177.5,642.8 246.6,695.2 315.6,701.9"/>
<polyline points="108.5,699.4 177.5,677.8 246.6,723.8 315.6,684.9"/>
<polyline points="108.5,699.4 177.5,661.4 246.6,690.4 315.6,691.1"/>
<polyline points="108.5,699.4 177.5,678.3 246.6,689.4 315.6,679.6"/>
<polyline points="108.5,699.4 177.5,650.6 246.6,695.5 315.6,650.6"/>
<polyline points="108.5,699.4 177.5,663.6 246.6,712.7 315.6,673.4"/>
<polyline points="108.5,699.4 177.5,685.0 246.6,726.4 315.6,639.4"/>
<polyline points="108.5,699.4 177.5,667.2 246.6,712.3 315.6,694.9"/>
<polyline points="108.5,699.4 177.5,704.7 246.6,696.9 315.6,679.6"/>
<polyline points="108.5,699.4 177.5,687.2 246.6,709.9 315.6,691.3"/>
<polyline points="108.5,699.4 177.5,654.6 246.6,707.1 315.6,654.2"/>
<polyline points="108.5,699.4 177.5,691.2 246.6,712.1 315.6,692.4"/>
<polyline points="108.5,699.4 177.5,685.4 246.6,706.1 315.6,661.5"/>
<polyline points="108.5,699.4 177.5,651.8 246.6,717.4 315.6,656.3"/>
<polyline points="108.5,699.4 177.5,673.3 246.6,686.7 315.6,685.9"/>
<polyline points="108.5,699.4 177.5,691.2 246.6,695.9 315.6,669.7"/>
<polyline points="108.5,699.4 177.5,683.9 246.6,704.8 315.6,679.8"/>
<polyline points="108.5,699.4 177.5,669.1 246.6,724.8 315.6,707.2"/>
<polyline points="108.5,699.4 177.5,674.0 246.6,702.0 315.6,693.2"/>
<polyline points="108.5,699.4 177.5,649.3 246.6,708.6 315.6,703.9"/>
<polyline points="108.5,699.4 177.5,644.5 246.6,692.0 315.6,661.2"/>
<polyline points="108.5,699.4 177.5,659.1 246.6,698.5 315.6,702.4"/>
<polyline points="108.5,699.4 177.5,674.5 246.6,700.9 315.6,669.5"/>
<polyline points="108.5,699.4 177.5,666.0 246.6,716.6 315.6,694.9"/>
<polyline points="108.5,699.4 177.5,681.5 246.6,707.3 315.6,700.4"/>
<polyline points="108.5,699.4 177.5,698.4 246.6,701.5 315.6,682.7"/>
<polyline points="108.5,699.4 177.5,663.9 246.6,726.8 315.6,691.0"/>
<polyline points="108.5,699.4 177.5,658.0 246.6,727.6 315.6,704.7"/>
<polyline points="108.5,699.4 177.5,707.1 246.6,691.1 315.6,681.9"/>
<polyline points="108.5,699.4 177.5,686.1 246.6,703.3 315.6,684.4"/>
<polyline points="108.5,699.4 177.5,657.7 246.6,691.6 315.6,663.8"/>
<polyline points="108.5,699.4 177.5,668.5 246.6,696.2 315.6,665.9"/>
<polyline points="108.5,699.4 177.5,652.7 246.6,726.2 315.6,675.4"/>
<polyline points="108.5,699.4 177.5,673.6 246.6,703.2 315.6,687.6"/>
<polyline points="108.5,699.4 177.5,676.5 246.6,699.3 315.6,678.4"/>
<polyline points="108.5,699.4 177.5,672.6 246.6,717.4 315.6,708.2"/>
<polyline points="108.5,699.4 177.5,689.4 246.6,725.6 315.6,693.1"/>
<polyline points="108.5,699.4 177.5,691.4 246.6,725.7 315.6,692.1"/>
<polyline points="108.5,699.4 177.5,686.2 246.6,695.1 315.6,698.5"/>
<polyline points="108.5,699.4 177.5,684.7 246.6,716.7 315.6,698.6"/>
<polyline points="108.5,699.4 177.5,681.8 246.6,705.6 315.6,695.3"/>
<polyline points="108.5,699.4 177.5,659.3 246.6,697.6 315.6,642.4"/>
<polyline points="108.5,699.4 177.5,700.2 246.6,697.2 315.6,690.2"/>
<polyline points="108.5,699.4 177.5,705.9 246.6,708.5 315.6,716.2"/>
<polyline points="108.5,699.4 177.5,675.6 246.6,690.0 315.6,645.2"/>
<polyline points="108.5,699.4 177.5,652.2 246.6,722.9 315.6,674.0"/>
<polyline points="108.5,699.4 177.5,672.3 246.6,700.0 315.6,703.8"/>
<polyline points="108.5,699.4 177.5,652.2 246.6,701.5 315.6,692.6"/>
<polyline points="108.5,699.4 177.5,671.6 246.6,719.3 315.6,662.8"/>
<polyline points="108.5,699.4 177.5,671.9 246.6,706.8 315.6,691.3"/>
<polyline points="108.5,699.4 177.5,676.4 246.6,703.5 315.6,690.7"/>
<polyline points="108.5,699.4 177.5,656.6 246.6,702.6 315.6,684.4"/>
<polyline points="108.5,699.4 177.5,691.6 246.6,691.0 315.6,655.9"/>
<polyline points="108.5,699.4 177.5,661.9 246.6,726.3 315.6,689.6"/>
<polyline points="108.5,699.4 177.5,656.0 246.6,704.6 315.6,656.4"/>
<polyline points="108.5,699.4 177.5,683.5 246.6,695.9 315.6,671.8"/>
<polyline points="108.5,699.4 177.5,682.9 246.6,707.8 315.6,695.3"/>
<polyline points="108.5,699.4 177.5,692.2 246.6,686.7 315.6,685.0"/>
<polyline points="108.5,699.4 177.5,659.9 246.6,720.5 315.6,692.2"/>
<polyline points="108.5,699.4 177.5,667.3 246.6,713.4 315.6,671.6"/>
<polyline points="108.5,699.4 177.5,659.7 246.6,710.2 315.6,683.7"/>
<polyline points="108.5,699.4 177.5,689.2 246.6,692.6 315.6,646.3"/>
<polyline points="108.5,699.4 177.5,665.5 246.6,710.8 315.6,697.0"/>
<polyline points="108.5,699.4 177.5,680.4 246.6,694.8 315.6,698.0"/>
<polyline points="108.5,699.4 177.5,646.7 246.6,719.1 315.6,682.7"/>
<polyline points="108.5,699.4 177.5,649.8 246.6,709.7 315.6,666.3"/>
<polyline points="108.5,699.4 177.5,652.6 246.6,730.3 315.6,676.7"/>
<polyline points="108.5,699.4 177.5,697.4 246.6,694.5 315.6,650.0"/>
<polyline points="108.5,699.4 177.5,691.3 246.6,695.7 315.6,663.8"/>
<polyline points="108.5,699.4 177.5,702.5 246.6,701.2 315.6,713.7"/>
<polyline points="108.5,699.4 177.5,675.5 246.6,715.9 315.6,655.0"/>
<polyline points="108.5,699.4 177.5,684.9 246.6,715.6 315.6,669.3"/>
<polyline points="108.5,699.4 177.5,651.6 246.6,706.8 315.6,676.8"/>
<polyline points="108.5,699.4 177.5,665.6 246.6,710.7 315.6,706.8"/>
<polyline points="108.5,699.4 177.5,664.9 246.6,709.1 315.6,710.5"/>
<polyline points="108.5,699.4 177.5,658.7 246.6,700.0 315.6,679.6"/>
<polyline points="108.5,699.4 177.5,689.6 246.6,707.6 315.6,670.0"/>
<polyline points="108.5,699.4 177.5,665.8 246.6,714.5 315.6,701.0"/>
<polyline points="108.5,699.4 177.5,668.5 246.6,702.9 315.6,665.1"/>
<polyline points="108.5,699.4 177.5,697.3 246.6,694.4 315.6,646.4"/>
<polyline points="108.5,699.4 177.5,656.9 246.6,703.5 315.6,663.9"/>
<polyline points="108.5,699.4 177.5,699.8 246.6,710.1 315.6,640.3"/>
<polyline points="108.5,699.4 177.5,706.5 246.6,718.4 315.6,665.7"/>
<polyline points="108.5,699.4 177.5,687.7 246.6,711.5 315.6,705.4"/>
<polyline points="108.5,699.4 177.5,642.8 246.6,712.0 315.6,688.2"/>
<polyline points="108.5,699.4 177.5,660.3 246.6,705.1 315.6,672.3"/>
<polyline points="108.5,699.4 177.5,644.7 246.6,703.3 315.6,706.9"/>
<polyline points="108.5,699.4 177.5,694.5 246.6,704.1 315.6,655.5"/>
<polyline points="108.5,699.4 177.5,698.1 246.6,707.9 315.6,685.5"/>
<polyline points="108.5,699.4 177.5,662.5 246.6,715.3 315.6,676.1"/>
<polyline points="108.5,699.4 177.5,660.0 246.6,705.5 315.6,684.5"/>
<polyline points="108.5,699.4 177.5,663.2 246.6,698.3 315.6,656.7"/>
<polyline points="108.5,699.4 177.5,695.8 246.6,690.9 315.6,687.2"/>
<polyline points="108.5,699.4 177.5,696.9 246.6,711.4 315.6,707.8"/>
<polyline points="108.5,699.4 177.5,678.9 246.6,693.1 315.6,706.7"/>
<polyline points="108.5,699.4 177.5,660.3 246.6,708.5 315.6,666.3"/>
<polyline points="108.5,699.4 177.5,700.6 246.6,705.6 315.6,699.8"/>
<polyline points="108.5,699.4 177.5,660.9 246.6,691.0 315.6,649.1"/>
<polyline points="108.5,699.4 177.5,676.2 246.6,715.1 315.6,690.4"/>
<polyline points="108.5,699.4 177.5,649.1 246.6,691.5 315.6,701.1"/>
<polyline points="108.5,699.4 177.5,639.9 246.6,720.6 315.6,671.0"/>
<polyline points="108.5,699.4 177.5,690.6 246.6,725.1 315.6,674.4"/>
<polyline points="108.5,699.4 177.5,697.3 246.6,691.3 315.6,700.9"/>
<polyline points="108.5,699.4 177.5,673.1 246.6,710.5 315.6,679.7"/>
<polyline points="108.5,699.4 177.5,687.2 246.6,695.6 315.6,670.0"/>
<polyline points="108.5,699.4 177.5,673.7 246.6,706.5 315.6,642.1"/>
<polyline points="108.5,699.4 177.5,688.4 246.6,710.1 315.6,666.7"/>
<polyline points="108.5,699.4 177.5,675.3 246.6,723.9 315.6,685.4"/>
<polyline points="108.5,699.4 177.5,682.5 246.6,716.5 315.6,678.5"/>
<polyline points="108.5,699.4 177.5,696.9 246.6,707.9 315.6,705.8"/>
<polyline points="108.5,699.4 177.5,645.1 246.6,708.3 315.6,673.4"/>
<polyline points="108.5,699.4 177.5,669.6 246.6,696.9 315.6,685.6"/>
<polyline points="108.5,699.4 177.5,660.6 246.6,703.6 315.6,676.1"/>
<polyline points="108.5,699.4 177.5,699.9 246.6,694.1 315.6,678.0"/>
<polyline points="108.5,699.4 177.5,682.2 246.6,729.7 315.6,706.6"/>
<polyline points="108.5,699.4 177.5,682.4 246.6,720.9 315.6,641.9"/>
<polyline points="108.5,699.4 177.5,666.3 246.6,706.1 315.6,702.7"/>
<polyline points="108.5,699.4 177.5,681.6 246.6,707.8 315.6,691.6"/>
<polyline points="108.5,699.4 177.5,676.6 246.6,695.8 315.6,677.9"/>
<polyline points="108.5,699.4 177.5,653.9 246.6,720.8 315.6,686.4"/>
<polyline points="108.5,699.4 177.5,682.4 246.6,718.2 315.6,663.1"/>
<polyline points="108.5,699.4 177.5,681.4 246.6,691.8 315.6,674.1"/>
<polyline points="108.5,699.4 177.5,680.4 246.6,701.7 315.6,690.2"/>
<polyline points="108.5,699.4 177.5,706.6 246.6,688.6 315.6,675.0"/>
<polyline points="108.5,699.4 177.5,652.9 246.6,725.9 315.6,661.1"/>
<polyline points="108.5,699.4 177.5,659.3 246.6,705.5 315.6,680.4"/>
<polyline points="108.5,699.4 177.5,687.9 246.6,707.3 315.6,681.4"/>
<polyline points="108.5,699.4 177.5,692.5 246.6,706.5 315.6,682.3"/>
<polyline points="108.5,699.4 177.5,647.0 246.6,706.2 315.6,706.7"/>
<polyline points="108.5,699.4 177.5,677.7 246.6,690.8 315.6,714.7"/>
<polyline points="108.5,699.4 177.5,663.2 246.6,700.5 315.6,694.8"/>
<polyline points="108.5,699.4 177.5,679.7 246.6,687.2 315.6,691.7"/>
<polyline points="108.5,699.4 177.5,669.7 246.6,700.1 315.6,657.8"/>
<polyline points="108.5,699.4 177.5,703.3 246.6,720.5 315.6,688.2"/>
<polyline points="108.5,699.4 177.5,663.3 246.6,695.5 315.6,688.4"/>
<polyline points="108.5,699.4 177.5,646.0 246.6,705.9 315.6,668.4"/>
<polyline points="108.5,699.4 177.5,689.7 246.6,695.4 315.6,697.2"/>
<polyline points="108.5,699.4 177.5,652.8 246.6,695.1 315.6,644.2"/>
<polyline points="108.5,699.4 177.5,683.2 246.6,718.4 315.6,665.5"/>
<polyline points="108.5,699.4 177.5,669.0 246.6,711.1 315.6,709.9"/>
<polyline points="108.5,699.4 177.5,659.7 246.6,727.5 315.6,692.0"/>
<polyline points="108.5,699.4 177.5,654.5 246.6,707.9 315.6,673.1"/>
<polyline points="108.5,699.4 177.5,665.7 246.6,698.2 315.6,660.8"/>
<polyline points="108.5,699.4 177.5,662.5 246.6,709.4 315.6,707.7"/>
<polyline points="108.5,699.4 177.5,680.6 246.6,712.6 315.6,674.2"/>
<polyline points="108.5,699.4 177.5,651.5 246.6,696.0 315.6,696.8"/>
<polyline points="108.5,699.4 177.5,671.2 246.6,705.0 315.6,692.1"/>
<polyline points="108.5,699.4 177.5,650.1 246.6,697.9 315.6,675.1"/>
<polyline points="108.5,699.4 177.5,698.6 246.6,713.5 315.6,659.2"/>
<polyline points="108.5,699.4 177.5,679.2 246.6,705.3 315.6,687.9"/>
<polyline points="108.5,699.4 177.5,665.9 246.6,705.1 315.6,647.4"/>
<polyline points="108.5,699.4 177.5,677.4 246.6,708.1 315.6,653.4"/>
<polyline points="108.5,699.4 177.5,660.7 246.6,697.0 315.6,671.7"/>
<polyline points="108.5,699.4 177.5,675.8 246.6,701.4 315.6,671.5"/>
<polyline points="108.5,699.4 177.5,673.0 246.6,726.7 315.6,654.3"/>
<polyline points="108.5,699.4 177.5,684.3 246.6,711.6 315.6,689.5"/>
<polyline points="108.5,699.4 177.5,689.0 246.6,715.1 315.6,684.2"/>
<polyline points="108.5,699.4 177.5,658.1 246.6,708.4 315.6,672.8"/>
<polyline points="108.5,699.4 177.5,701.0 246.6,696.3 315.6,705.8"/>
<polyline points="108.5,699.4 177.5,661.6 246.6,713.6 315.6,694.8"/>
<polyline points="108.5,699.4 177.5,699.2 246.6,719.7 315.6,687.1"/>
<polyline points="108.5,699.4 177.5,693.8 246.6,707.6 315.6,659.2"/>
<polyline points="108.5,699.4 177.5,691.3 246.6,708.7 315.6,684.6"/>
<polyline points="108.5,699.4 177.5,687.0 246.6,705.4 315.6,677.7"/>
<polyline points="108.5,699.4 177.5,655.1 246.6,713.4 315.6,686.9"/>
<polyline points="108.5,699.4 177.5,678.2 246.6,691.0 315.6,703.0"/>
<polyline points="108.5,699.4 177.5,671.8 246.6,696.2 315.6,670.5"/>
<polyline points="108.5,699.4 177.5,688.7 246.6,716.9 315.6,693.5"/>
<polyline points="108.5,699.4 177.5,680.0 246.6,722.3 315.6,665.2"/>
<polyline points="108.5,699.4 177.5,671.9 246.6,707.8 315.6,693.4"/>
<polyline points="108.5,699.4 177.5,666.0 246.6,708.3 315.6,672.1"/>
<polyline points="108.5,699.4 177.5,684.3 246.6,692.9 315.6,715.9"/>
<polyline points="108.5,699.4 177.5,695.7 246.6,693.0 315.6,648.9"/>
<polyline points="108.5,699.4 177.5,690.3 246.6,696.6 315.6,662.0"/>
<polyline points="108.5,699.4 177.5,657.5 246.6,707.1 315.6,652.4"/>
<polyline points="108.5,699.4 177.5,667.1 246.6,720.0 315.6,679.9"/>
<polyline points="108.5,699.4 177.5,651.0 246.6,713.0 315.6,701.6"/>
<polyline points="108.5,699.4 177.5,658.1 246.6,695.6 315.6,697.8"/>
<polyline points="108.5,699.4 177.5,670.3 246.6,720.3 315.6,660.1"/>
<polyline points="108.5,699.4 177.5,697.1 246.6,696.5 315.6,660.7"/>
<polyline points="108.5,699.4 177.5,668.0 246.6,687.5 315.6,675.1"/>
<polyline points="108.5,699.4 177.5,669.5 246.6,705.0 315.6,673.9"/>
<polyline points="108.5,699.4 177.5,668.3 246.6,715.8 315.6,683.5"/>
<polyline points="108.5,699.4 177.5,682.3 246.6,690.9 315.6,698.7"/>
<polyline points="108.5,699.4 177.5,663.7 246.6,725.2 315.6,681.4"/>
<polyline points="108.5,699.4 177.5,640.2 246.6,704.1 315.6,656.2"/>
<polyline points="108.5,699.4 177.5,682.1 246.6,699.8 315.6,674.8"/>
<polyline points="108.5,699.4 177.5,690.5 246.6,714.6 315.6,657.8"/>
<polyline points="108.5,699.4 177.5,642.1 246.6,705.6 315.6,661.9"/>
<polyline points="108.5,699.4 177.5,668.1 246.6,711.9 315.6,670.5"/>
<polyline points="108.5,699.4 177.5,666.7 246.6,716.4 315.6,691.6"/>
<polyline points="108.5,699.4 177.5,701.0 246.6,708.9 315.6,683.3"/>
<polyline points="108.5,699.4 177.5,693.9 246.6,726.5 315.6,668.7"/>
<polyline points="108.5,699.4 177.5,650.8 246.6,715.5 315.6,681.0"/>
<polyline points="108.5,699.4 177.5,687.9 246.6,701.7 315.6,711.3"/>
<polyline points="108.5,699.4 177.5,650.7 246.6,696.7 315.6,653.6"/>
<polyline points="108.5,699.4 177.5,661.0 246.6,698.9 315.6,653.1"/>
<polyline points="108.5,699.4 177.5,680.4 246.6,702.3 315.6,704.8"/>
<polyline points="108.5,699.4 177.5,697.1 246.6,702.6 315.6,677.7"/>
<polyline points="108.5,699.4 177.5,567.3 246.6,691.7 315.6,661.0"/>
<polyline points="108.5,699.4 177.5,580.9 246.6,686.6 315.6,673.8"/>
<polyline points="108.5,699.4 177.5,605.2 246.6,672.5 315.6,648.2"/>
<polyline points="108.5,699.4 177.5,609.8 246.6,677.6 315.6,668.7"/>
<polyline points="108.5,699.4 177.5,616.5 246.6,684.0 315.6,643.1"/>
<polyline points="108.5,699.4 177.5,630.5 246.6,673.8 315.6,678.9"/>
<polyline points="108.5,699.4 177.5,625.2 246.6,681.5 315.6,658.4"/>
<polyline points="108.5,699.4 177.5,632.8 246.6,691.7 315.6,694.3"/>
<polyline points="108.5,699.4 177.5,673.8 246.6,704.5 315.6,567.3"/>
<polyline points="108.5,699.4 177.5,686.6 246.6,699.4 315.6,583.4"/>
<polyline points="108.5,699.4 177.5,661.0 246.6,709.6 315.6,603.7"/>
<polyline points="108.5,699.4 177.5,678.9 246.6,694.3 315.6,612.1"/>
<polyline points="108.5,699.4 177.5,668.7 246.6,714.8 315.6,625.4"/>
<polyline points="108.5,699.4 177.5,691.7 246.6,686.6 315.6,632.1"/>
<polyline points="108.5,699.4 177.5,684.0 246.6,707.1 315.6,622.6"/>
<polyline points="108.5,699.4 177.5,653.3 246.6,696.8 315.6,629.0"/>
<polyline points="108.5,699.4 177.5,694.3 246.6,741.4 315.6,707.1"/>
<polyline points="108.5,699.4 177.5,686.6 246.6,737.8 315.6,694.3"/>
<polyline points="108.5,699.4 177.5,702.0 246.6,736.5 315.6,714.8"/>
</g>
<line x1="108.5" y1="699.4" x2="315.59000000000003" y2="699.4" stroke="#e34545" stroke-width="1.5"/>
<polyline points="108.5,699.4 177.5,675.1 246.6,705.0 315.6,682.5" stroke="#3448b0" stroke-width="1.4" fill="none"/>
<rect x="100.5" y="560.9" width="222.7" height="187.5" fill="none" stroke="#222" stroke-width="1.4"/>
<line x1="90.2" y1="725.0" x2="100.5" y2="725.0" stroke="#222" stroke-width="1.3"/>
<text transform="translate(81.3,729.7) scale(1.175,1)" font-size="13" fill="#222" text-anchor="end">-1</text>
<line x1="90.2" y1="699.4" x2="100.5" y2="699.4" stroke="#222" stroke-width="1.3"/>
<text transform="translate(81.3,704.1) scale(1.175,1)" font-size="13" fill="#222" text-anchor="end">0</text>
<line x1="90.2" y1="673.8" x2="100.5" y2="673.8" stroke="#222" stroke-width="1.3"/>
<text transform="translate(81.3,678.5) scale(1.175,1)" font-size="13" fill="#222" text-anchor="end">1</text>
<line x1="90.2" y1="648.2" x2="100.5" y2="648.2" stroke="#222" stroke-width="1.3"/>
<text transform="translate(81.3,652.9) scale(1.175,1)" font-size="13" fill="#222" text-anchor="end">2</text>
<line x1="90.2" y1="622.6" x2="100.5" y2="622.6" stroke="#222" stroke-width="1.3"/>
<text transform="translate(81.3,627.3) scale(1.175,1)" font-size="13" fill="#222" text-anchor="end">3</text>
<line x1="90.2" y1="597.0" x2="100.5" y2="597.0" stroke="#222" stroke-width="1.3"/>
<text transform="translate(81.3,601.7) scale(1.175,1)" font-size="13" fill="#222" text-anchor="end">4</text>
<line x1="90.2" y1="571.4" x2="100.5" y2="571.4" stroke="#222" stroke-width="1.3"/>
<text transform="translate(81.3,576.1) scale(1.175,1)" font-size="13" fill="#222" text-anchor="end">5</text>
<line x1="108.5" y1="748.4" x2="108.5" y2="756.8" stroke="#222" stroke-width="1.3"/>
<text transform="translate(110.7,776.4) rotate(-90) scale(1,1.175)" font-size="6.1" fill="#222">AAL</text>
<line x1="177.5" y1="748.4" x2="177.5" y2="756.8" stroke="#222" stroke-width="1.3"/>
<text transform="translate(179.7,776.4) rotate(-90) scale(1,1.175)" font-size="6.1" fill="#222">DGL</text>
<line x1="246.6" y1="748.4" x2="246.6" y2="756.8" stroke="#222" stroke-width="1.3"/>
<text transform="translate(248.8,776.4) rotate(-90) scale(1,1.175)" font-size="6.1" fill="#222">AAB</text>
<line x1="315.6" y1="748.4" x2="315.6" y2="756.8" stroke="#222" stroke-width="1.3"/>
<text transform="translate(317.8,776.4) rotate(-90) scale(1,1.175)" font-size="6.1" fill="#222">DGB</text>
<text transform="translate(40.0,654.6) rotate(-90) scale(1,1.1)" font-size="13" fill="#222" text-anchor="middle">log2(ratio)</text>
<text transform="translate(446.7,534.6) scale(1.175,1)" font-size="16" font-weight="bold" fill="#111" stroke="#111" stroke-width="0.25">subcluster_2, 595 genes</text>
<g stroke="#d3d3d3" stroke-width="1.25" fill="none" stroke-linejoin="round">
<polyline points="451.4,633.8 520.4,661.9 589.5,646.1 658.5,678.5"/>
<polyline points="451.4,633.8 520.4,624.1 589.5,689.9 658.5,692.2"/>
<polyline points="451.4,633.8 520.4,664.1 589.5,681.9 658.5,702.7"/>
<polyline points="451.4,633.8 520.4,658.1 589.5,662.7 658.5,704.2"/>
<polyline points="451.4,633.8 520.4,634.5 589.5,669.1 658.5,653.1"/>
<polyline points="451.4,633.8 520.4,655.0 589.5,673.8 658.5,675.6"/>
<polyline points="451.4,633.8 520.4,639.4 589.5,654.4 658.5,702.9"/>
<polyline points="451.4,633.8 520.4,640.3 589.5,693.2 658.5,647.0"/>
<polyline points="451.4,633.8 520.4,677.0 589.5,660.8 658.5,681.6"/>
<polyline points="451.4,633.8 520.4,639.7 589.5,661.7 658.5,670.4"/>
<polyline points="451.4,633.8 520.4,651.1 589.5,662.8 658.5,695.8"/>
<polyline points="451.4,633.8 520.4,609.9 589.5,682.7 658.5,687.3"/>
<polyline points="451.4,633.8 520.4,641.6 589.5,698.6 658.5,723.7"/>
<polyline points="451.4,633.8 520.4,630.7 589.5,659.1 658.5,681.1"/>
<polyline points="451.4,633.8 520.4,685.0 589.5,684.8 658.5,674.9"/>
<polyline points="451.4,633.8 520.4,641.6 589.5,656.0 658.5,712.8"/>
<polyline points="451.4,633.8 520.4,603.8 589.5,633.8 658.5,698.1"/>
<polyline points="451.4,633.8 520.4,668.5 589.5,660.3 658.5,709.9"/>
<polyline points="451.4,633.8 520.4,641.2 589.5,634.5 658.5,686.7"/>
<polyline points="451.4,633.8 520.4,659.6 589.5,639.6 658.5,692.6"/>
<polyline points="451.4,633.8 520.4,626.8 589.5,666.8 658.5,645.3"/>
<polyline points="451.4,633.8 520.4,655.6 589.5,685.1 658.5,682.9"/>
<polyline points="451.4,633.8 520.4,664.6 589.5,682.1 658.5,688.4"/>
<polyline points="451.4,633.8 520.4,629.3 589.5,660.0 658.5,689.0"/>
<polyline points="451.4,633.8 520.4,652.1 589.5,638.9 658.5,717.5"/>
<polyline points="451.4,633.8 520.4,631.4 589.5,664.4 658.5,682.4"/>
<polyline points="451.4,633.8 520.4,653.9 589.5,666.9 658.5,698.1"/>
<polyline points="451.4,633.8 520.4,637.6 589.5,632.5 658.5,663.8"/>
<polyline points="451.4,633.8 520.4,633.7 589.5,670.2 658.5,669.8"/>
<polyline points="451.4,633.8 520.4,594.9 589.5,690.0 658.5,664.1"/>
<polyline points="451.4,633.8 520.4,621.8 589.5,651.1 658.5,665.0"/>
<polyline points="451.4,633.8 520.4,612.0 589.5,625.6 658.5,643.2"/>
<polyline points="451.4,633.8 520.4,638.7 589.5,637.2 658.5,679.6"/>
<polyline points="451.4,633.8 520.4,639.5 589.5,668.9 658.5,667.0"/>
<polyline points="451.4,633.8 520.4,609.9 589.5,661.2 658.5,677.3"/>
<polyline points="451.4,633.8 520.4,630.8 589.5,656.6 658.5,660.3"/>
<polyline points="451.4,633.8 520.4,639.9 589.5,685.8 658.5,708.7"/>
<polyline points="451.4,633.8 520.4,627.9 589.5,641.3 658.5,656.0"/>
<polyline points="451.4,633.8 520.4,639.9 589.5,651.7 658.5,721.9"/>
<polyline points="451.4,633.8 520.4,610.7 589.5,679.3 658.5,657.4"/>
<polyline points="451.4,633.8 520.4,675.1 589.5,672.9 658.5,679.1"/>
<polyline points="451.4,633.8 520.4,656.8 589.5,673.7 658.5,660.8"/>
<polyline points="451.4,633.8 520.4,628.8 589.5,646.7 658.5,691.1"/>
<polyline points="451.4,633.8 520.4,666.8 589.5,668.1 658.5,695.6"/>
<polyline points="451.4,633.8 520.4,646.5 589.5,637.5 658.5,686.8"/>
<polyline points="451.4,633.8 520.4,665.8 589.5,671.4 658.5,651.2"/>
<polyline points="451.4,633.8 520.4,641.5 589.5,650.4 658.5,675.7"/>
<polyline points="451.4,633.8 520.4,630.6 589.5,652.7 658.5,653.6"/>
<polyline points="451.4,633.8 520.4,624.9 589.5,659.3 658.5,713.7"/>
<polyline points="451.4,633.8 520.4,642.2 589.5,629.5 658.5,682.3"/>
<polyline points="451.4,633.8 520.4,611.5 589.5,686.8 658.5,712.9"/>
<polyline points="451.4,633.8 520.4,650.0 589.5,673.9 658.5,708.5"/>
<polyline points="451.4,633.8 520.4,630.9 589.5,649.2 658.5,681.9"/>
<polyline points="451.4,633.8 520.4,655.4 589.5,649.3 658.5,685.1"/>
<polyline points="451.4,633.8 520.4,663.6 589.5,643.2 658.5,673.1"/>
<polyline points="451.4,633.8 520.4,643.1 589.5,638.8 658.5,709.1"/>
<polyline points="451.4,633.8 520.4,648.8 589.5,668.5 658.5,649.6"/>
<polyline points="451.4,633.8 520.4,632.4 589.5,664.8 658.5,708.8"/>
<polyline points="451.4,633.8 520.4,633.0 589.5,662.6 658.5,686.0"/>
<polyline points="451.4,633.8 520.4,671.9 589.5,641.1 658.5,677.6"/>
<polyline points="451.4,633.8 520.4,635.0 589.5,648.2 658.5,704.1"/>
<polyline points="451.4,633.8 520.4,652.0 589.5,671.2 658.5,695.0"/>
<polyline points="451.4,633.8 520.4,621.0 589.5,658.2 658.5,645.3"/>
<polyline points="451.4,633.8 520.4,640.6 589.5,639.0 658.5,669.8"/>
<polyline points="451.4,633.8 520.4,624.9 589.5,686.4 658.5,655.5"/>
<polyline points="451.4,633.8 520.4,642.4 589.5,679.5 658.5,667.2"/>
<polyline points="451.4,633.8 520.4,636.5 589.5,624.4 658.5,664.3"/>
<polyline points="451.4,633.8 520.4,636.0 589.5,695.5 658.5,645.9"/>
<polyline points="451.4,633.8 520.4,625.6 589.5,644.5 658.5,652.5"/>
<polyline points="451.4,633.8 520.4,667.0 589.5,638.6 658.5,681.6"/>
<polyline points="451.4,633.8 520.4,670.4 589.5,646.8 658.5,673.5"/>
<polyline points="451.4,633.8 520.4,602.3 589.5,632.7 658.5,721.2"/>
<polyline points="451.4,633.8 520.4,647.2 589.5,660.8 658.5,704.9"/>
<polyline points="451.4,633.8 520.4,681.9 589.5,660.5 658.5,710.3"/>
<polyline points="451.4,633.8 520.4,662.6 589.5,634.7 658.5,676.3"/>
<polyline points="451.4,633.8 520.4,664.2 589.5,683.1 658.5,686.7"/>
<polyline points="451.4,633.8 520.4,601.5 589.5,668.1 658.5,701.3"/>
<polyline points="451.4,633.8 520.4,650.5 589.5,638.8 658.5,700.9"/>
<polyline points="451.4,633.8 520.4,643.8 589.5,688.7 658.5,666.0"/>
<polyline points="451.4,633.8 520.4,616.0 589.5,671.6 658.5,677.6"/>
<polyline points="451.4,633.8 520.4,655.5 589.5,640.4 658.5,662.0"/>
<polyline points="451.4,633.8 520.4,635.4 589.5,651.5 658.5,726.6"/>
<polyline points="451.4,633.8 520.4,653.1 589.5,666.0 658.5,687.2"/>
<polyline points="451.4,633.8 520.4,627.7 589.5,673.3 658.5,714.5"/>
<polyline points="451.4,633.8 520.4,673.6 589.5,644.6 658.5,658.9"/>
<polyline points="451.4,633.8 520.4,624.8 589.5,668.4 658.5,657.9"/>
<polyline points="451.4,633.8 520.4,627.9 589.5,659.8 658.5,700.5"/>
<polyline points="451.4,633.8 520.4,623.1 589.5,672.3 658.5,689.3"/>
<polyline points="451.4,633.8 520.4,669.7 589.5,657.0 658.5,694.3"/>
<polyline points="451.4,633.8 520.4,651.4 589.5,661.3 658.5,680.0"/>
<polyline points="451.4,633.8 520.4,688.2 589.5,684.1 658.5,669.8"/>
<polyline points="451.4,633.8 520.4,617.9 589.5,680.4 658.5,679.4"/>
<polyline points="451.4,633.8 520.4,659.7 589.5,663.3 658.5,708.6"/>
<polyline points="451.4,633.8 520.4,623.3 589.5,660.9 658.5,683.1"/>
<polyline points="451.4,633.8 520.4,682.1 589.5,652.3 658.5,729.6"/>
<polyline points="451.4,633.8 520.4,639.7 589.5,622.2 658.5,711.7"/>
<polyline points="451.4,633.8 520.4,623.7 589.5,660.7 658.5,655.0"/>
<polyline points="451.4,633.8 520.4,643.1 589.5,667.8 658.5,731.1"/>
<polyline points="451.4,633.8 520.4,672.4 589.5,692.0 658.5,675.8"/>
<polyline points="451.4,633.8 520.4,649.6 589.5,688.7 658.5,710.5"/>
<polyline points="451.4,633.8 520.4,607.8 589.5,629.3 658.5,680.4"/>
<polyline points="451.4,633.8 520.4,661.9 589.5,656.9 658.5,714.5"/>
<polyline points="451.4,633.8 520.4,628.8 589.5,634.0 658.5,656.6"/>
<polyline points="451.4,633.8 520.4,662.8 589.5,648.3 658.5,707.1"/>
<polyline points="451.4,633.8 520.4,656.6 589.5,638.0 658.5,680.4"/>
<polyline points="451.4,633.8 520.4,644.3 589.5,651.5 658.5,704.3"/>
<polyline points="451.4,633.8 520.4,680.6 589.5,692.1 658.5,678.7"/>
<polyline points="451.4,633.8 520.4,655.3 589.5,639.2 658.5,687.9"/>
<polyline points="451.4,633.8 520.4,645.3 589.5,636.1 658.5,663.4"/>
<polyline points="451.4,633.8 520.4,608.0 589.5,650.4 658.5,706.3"/>
<polyline points="451.4,633.8 520.4,665.3 589.5,693.9 658.5,673.5"/>
<polyline points="451.4,633.8 520.4,655.4 589.5,643.3 658.5,661.7"/>
<polyline points="451.4,633.8 520.4,665.7 589.5,651.2 658.5,651.1"/>
<polyline points="451.4,633.8 520.4,643.1 589.5,633.0 658.5,686.9"/>
<polyline points="451.4,633.8 520.4,669.2 589.5,661.4 658.5,728.2"/>
<polyline points="451.4,633.8 520.4,627.3 589.5,668.4 658.5,649.2"/>
<polyline points="451.4,633.8 520.4,676.3 589.5,652.6 658.5,673.7"/>
<polyline points="451.4,633.8 520.4,650.3 589.5,646.4 658.5,700.6"/>
<polyline points="451.4,633.8 520.4,672.4 589.5,690.3 658.5,696.0"/>
<polyline points="451.4,633.8 520.4,665.8 589.5,649.9 658.5,691.2"/>
<polyline points="451.4,633.8 520.4,661.9 589.5,673.8 658.5,728.8"/>
<polyline points="451.4,633.8 520.4,654.5 589.5,645.6 658.5,714.9"/>
<polyline points="451.4,633.8 520.4,651.7 589.5,639.2 658.5,699.2"/>
<polyline points="451.4,633.8 520.4,640.3 589.5,666.3 658.5,647.8"/>
<polyline points="451.4,633.8 520.4,615.1 589.5,672.6 658.5,666.1"/>
<polyline points="451.4,633.8 520.4,649.4 589.5,646.8 658.5,696.3"/>
<polyline points="451.4,633.8 520.4,641.1 589.5,674.6 658.5,674.9"/>
<polyline points="451.4,633.8 520.4,600.4 589.5,689.5 658.5,714.6"/>
<polyline points="451.4,633.8 520.4,632.3 589.5,636.2 658.5,691.4"/>
<polyline points="451.4,633.8 520.4,630.1 589.5,645.2 658.5,668.5"/>
<polyline points="451.4,633.8 520.4,610.0 589.5,671.8 658.5,665.8"/>
<polyline points="451.4,633.8 520.4,640.0 589.5,672.8 658.5,669.7"/>
<polyline points="451.4,633.8 520.4,678.4 589.5,692.5 658.5,655.5"/>
<polyline points="451.4,633.8 520.4,673.5 589.5,630.0 658.5,695.0"/>
<polyline points="451.4,633.8 520.4,667.8 589.5,657.6 658.5,722.7"/>
<polyline points="451.4,633.8 520.4,605.0 589.5,697.5 658.5,680.6"/>
<polyline points="451.4,633.8 520.4,654.2 589.5,622.9 658.5,693.3"/>
<polyline points="451.4,633.8 520.4,666.3 589.5,667.7 658.5,672.9"/>
<polyline points="451.4,633.8 520.4,622.5 589.5,661.7 658.5,733.1"/>
<polyline points="451.4,633.8 520.4,637.4 589.5,631.6 658.5,678.1"/>
<polyline points="451.4,633.8 520.4,640.9 589.5,669.3 658.5,663.6"/>
<polyline points="451.4,633.8 520.4,599.8 589.5,680.7 658.5,680.2"/>
<polyline points="451.4,633.8 520.4,672.1 589.5,673.0 658.5,686.9"/>
<polyline points="451.4,633.8 520.4,632.6 589.5,676.7 658.5,689.6"/>
<polyline points="451.4,633.8 520.4,610.1 589.5,643.3 658.5,664.9"/>
<polyline points="451.4,633.8 520.4,635.1 589.5,660.6 658.5,671.8"/>
<polyline points="451.4,633.8 520.4,631.9 589.5,655.9 658.5,656.7"/>
<polyline points="451.4,633.8 520.4,645.2 589.5,633.4 658.5,681.7"/>
<polyline points="451.4,633.8 520.4,626.5 589.5,672.7 658.5,696.2"/>
<polyline points="451.4,633.8 520.4,675.2 589.5,625.9 658.5,669.5"/>
<polyline points="451.4,633.8 520.4,639.9 589.5,640.4 658.5,702.9"/>
<polyline points="451.4,633.8 520.4,642.7 589.5,668.5 658.5,728.7"/>
<polyline points="451.4,633.8 520.4,652.2 589.5,677.6 658.5,646.7"/>
<polyline points="451.4,633.8 520.4,664.6 589.5,671.3 658.5,657.8"/>
<polyline points="451.4,633.8 520.4,645.6 589.5,689.1 658.5,676.6"/>
<polyline points="451.4,633.8 520.4,664.7 589.5,682.3 658.5,700.8"/>
<polyline points="451.4,633.8 520.4,662.7 589.5,659.0 658.5,706.2"/>
<polyline points="451.4,633.8 520.4,637.9 589.5,663.1 658.5,683.3"/>
<polyline points="451.4,633.8 520.4,593.4 589.5,678.8 658.5,731.0"/>
<polyline points="451.4,633.8 520.4,626.2 589.5,646.0 658.5,681.2"/>
<polyline points="451.4,633.8 520.4,648.4 589.5,637.9 658.5,668.1"/>
<polyline points="451.4,633.8 520.4,638.6 589.5,643.6 658.5,687.3"/>
<polyline points="451.4,633.8 520.4,654.8 589.5,662.0 658.5,666.1"/>
<polyline points="451.4,633.8 520.4,643.6 589.5,627.8 658.5,694.5"/>
<polyline points="451.4,633.8 520.4,650.1 589.5,664.3 658.5,682.2"/>
<polyline points="451.4,633.8 520.4,627.6 589.5,642.8 658.5,708.8"/>
<polyline points="451.4,633.8 520.4,666.5 589.5,637.6 658.5,660.3"/>
<polyline points="451.4,633.8 520.4,636.7 589.5,646.8 658.5,669.0"/>
<polyline points="451.4,633.8 520.4,634.2 589.5,639.7 658.5,676.6"/>
<polyline points="451.4,633.8 520.4,670.7 589.5,632.3 658.5,648.8"/>
<polyline points="451.4,633.8 520.4,687.5 589.5,661.6 658.5,710.5"/>
<polyline points="451.4,633.8 520.4,632.1 589.5,663.0 658.5,646.7"/>
<polyline points="451.4,633.8 520.4,616.6 589.5,667.4 658.5,694.1"/>
<polyline points="451.4,633.8 520.4,660.3 589.5,641.5 658.5,705.5"/>
<polyline points="451.4,633.8 520.4,634.0 589.5,690.7 658.5,656.1"/>
<polyline points="451.4,633.8 520.4,633.0 589.5,684.7 658.5,701.8"/>
<polyline points="451.4,633.8 520.4,641.7 589.5,648.8 658.5,677.1"/>
<polyline points="451.4,633.8 520.4,606.3 589.5,667.0 658.5,716.0"/>
<polyline points="451.4,633.8 520.4,613.9 589.5,649.8 658.5,677.4"/>
<polyline points="451.4,633.8 520.4,629.4 589.5,686.5 658.5,699.0"/>
<polyline points="451.4,633.8 520.4,674.4 589.5,684.2 658.5,690.2"/>
<polyline points="451.4,633.8 520.4,672.5 589.5,643.3 658.5,661.6"/>
<polyline points="451.4,633.8 520.4,688.0 589.5,661.3 658.5,686.0"/>
<polyline points="451.4,633.8 520.4,641.1 589.5,644.7 658.5,702.2"/>
<polyline points="451.4,633.8 520.4,668.9 589.5,632.1 658.5,689.3"/>
<polyline points="451.4,633.8 520.4,665.5 589.5,651.2 658.5,670.5"/>
<polyline points="451.4,633.8 520.4,599.8 589.5,661.7 658.5,700.8"/>
<polyline points="451.4,633.8 520.4,618.5 589.5,673.9 658.5,703.7"/>
<polyline points="451.4,633.8 520.4,631.6 589.5,660.7 658.5,708.5"/>
<polyline points="451.4,633.8 520.4,652.1 589.5,666.2 658.5,687.8"/>
<polyline points="451.4,633.8 520.4,664.3 589.5,641.4 658.5,691.1"/>
<polyline points="451.4,633.8 520.4,660.8 589.5,629.5 658.5,705.3"/>
<polyline points="451.4,633.8 520.4,625.9 589.5,641.2 658.5,689.6"/>
<polyline points="451.4,633.8 520.4,639.8 589.5,692.8 658.5,676.1"/>
<polyline points="451.4,633.8 520.4,671.9 589.5,677.3 658.5,675.8"/>
<polyline points="451.4,633.8 520.4,664.2 589.5,652.6 658.5,672.1"/>
<polyline points="451.4,633.8 520.4,618.5 589.5,646.0 658.5,656.5"/>
<polyline points="451.4,633.8 520.4,664.6 589.5,665.0 658.5,666.2"/>
<polyline points="451.4,633.8 520.4,615.1 589.5,644.7 658.5,695.4"/>
<polyline points="451.4,633.8 520.4,672.7 589.5,679.5 658.5,654.5"/>
<polyline points="451.4,633.8 520.4,670.4 589.5,661.6 658.5,666.6"/>
<polyline points="451.4,633.8 520.4,634.2 589.5,673.3 658.5,678.2"/>
<polyline points="451.4,633.8 520.4,638.2 589.5,635.7 658.5,690.0"/>
<polyline points="451.4,633.8 520.4,627.6 589.5,659.3 658.5,704.1"/>
<polyline points="451.4,633.8 520.4,669.6 589.5,646.5 658.5,679.8"/>
<polyline points="451.4,633.8 520.4,649.4 589.5,667.1 658.5,688.3"/>
<polyline points="451.4,633.8 520.4,625.0 589.5,628.7 658.5,688.4"/>
<polyline points="451.4,633.8 520.4,638.7 589.5,684.1 658.5,699.6"/>
<polyline points="451.4,633.8 520.4,668.4 589.5,638.7 658.5,670.2"/>
<polyline points="451.4,633.8 520.4,627.9 589.5,667.9 658.5,671.0"/>
<polyline points="451.4,633.8 520.4,607.6 589.5,632.8 658.5,705.3"/>
<polyline points="451.4,633.8 520.4,654.2 589.5,684.1 658.5,680.5"/>
<polyline points="451.4,633.8 520.4,627.8 589.5,622.4 658.5,668.4"/>
<polyline points="451.4,633.8 520.4,622.5 589.5,629.8 658.5,702.3"/>
<polyline points="451.4,633.8 520.4,628.2 589.5,631.8 658.5,686.6"/>
<polyline points="451.4,633.8 520.4,669.5 589.5,652.0 658.5,678.3"/>
<polyline points="451.4,633.8 520.4,627.7 589.5,664.9 658.5,650.5"/>
<polyline points="451.4,633.8 520.4,649.0 589.5,662.9 658.5,688.7"/>
<polyline points="451.4,633.8 520.4,669.8 589.5,666.9 658.5,683.1"/>
<polyline points="451.4,633.8 520.4,675.6 589.5,657.6 658.5,675.6"/>
<polyline points="451.4,633.8 520.4,677.7 589.5,666.8 658.5,720.2"/>
<polyline points="451.4,633.8 520.4,644.2 589.5,650.4 658.5,694.8"/>
<polyline points="451.4,633.8 520.4,643.4 589.5,642.2 658.5,665.4"/>
<polyline points="451.4,633.8 520.4,679.0 589.5,663.6 658.5,717.4"/>
<polyline points="451.4,633.8 520.4,619.4 589.5,637.1 658.5,651.1"/>
<polyline points="451.4,633.8 520.4,625.8 589.5,668.1 658.5,677.0"/>
<polyline points="451.4,633.8 520.4,658.9 589.5,622.5 658.5,672.3"/>
<polyline points="451.4,633.8 520.4,659.3 589.5,638.2 658.5,652.7"/>
<polyline points="451.4,633.8 520.4,661.2 589.5,622.4 658.5,655.5"/>
<polyline points="451.4,633.8 520.4,685.1 589.5,684.7 658.5,715.3"/>
<polyline points="451.4,633.8 520.4,621.3 589.5,673.4 658.5,676.7"/>
<polyline points="451.4,633.8 520.4,646.3 589.5,680.7 658.5,642.9"/>
<polyline points="451.4,633.8 520.4,607.6 589.5,653.8 658.5,643.5"/>
<polyline points="451.4,633.8 520.4,645.4 589.5,649.4 658.5,689.5"/>
<polyline points="451.4,633.8 520.4,678.6 589.5,664.1 658.5,705.5"/>
<polyline points="451.4,633.8 520.4,634.8 589.5,652.1 658.5,696.2"/>
<polyline points="451.4,633.8 520.4,612.8 589.5,646.6 658.5,691.7"/>
<polyline points="451.4,633.8 520.4,654.9 589.5,673.8 658.5,676.4"/>
<polyline points="451.4,633.8 520.4,649.2 589.5,654.8 658.5,662.6"/>
<polyline points="451.4,633.8 520.4,660.9 589.5,645.8 658.5,688.5"/>
<polyline points="451.4,633.8 520.4,652.9 589.5,660.9 658.5,680.5"/>
<polyline points="451.4,633.8 520.4,628.9 589.5,630.9 658.5,681.1"/>
<polyline points="451.4,633.8 520.4,665.6 589.5,655.7 658.5,686.7"/>
<polyline points="451.4,633.8 520.4,651.9 589.5,685.4 658.5,685.4"/>
<polyline points="451.4,633.8 520.4,691.0 589.5,624.8 658.5,664.1"/>
<polyline points="451.4,633.8 520.4,626.2 589.5,678.5 658.5,676.2"/>
<polyline points="451.4,633.8 520.4,612.8 589.5,660.9 658.5,708.2"/>
<polyline points="451.4,633.8 520.4,648.0 589.5,632.8 658.5,671.4"/>
<polyline points="451.4,633.8 520.4,679.8 589.5,638.6 658.5,654.2"/>
<polyline points="451.4,633.8 520.4,628.9 589.5,639.4 658.5,644.4"/>
<polyline points="451.4,633.8 520.4,639.5 589.5,660.6 658.5,698.9"/>
<polyline points="451.4,633.8 520.4,653.3 589.5,681.2 658.5,672.5"/>
<polyline points="451.4,633.8 520.4,662.8 589.5,646.7 658.5,674.3"/>
<polyline points="451.4,633.8 520.4,604.0 589.5,669.0 658.5,686.3"/>
<polyline points="451.4,633.8 520.4,649.3 589.5,670.8 658.5,651.9"/>
<polyline points="451.4,633.8 520.4,650.6 589.5,689.4 658.5,697.7"/>
<polyline points="451.4,633.8 520.4,644.5 589.5,687.0 658.5,646.7"/>
<polyline points="451.4,633.8 520.4,681.2 589.5,647.2 658.5,710.4"/>
<polyline points="451.4,633.8 520.4,655.9 589.5,641.1 658.5,681.3"/>
<polyline points="451.4,633.8 520.4,671.4 589.5,657.5 658.5,682.8"/>
<polyline points="451.4,633.8 520.4,681.8 589.5,644.0 658.5,685.2"/>
<polyline points="451.4,633.8 520.4,673.9 589.5,675.4 658.5,664.5"/>
<polyline points="451.4,633.8 520.4,620.6 589.5,660.6 658.5,713.0"/>
<polyline points="451.4,633.8 520.4,673.8 589.5,663.4 658.5,703.9"/>
<polyline points="451.4,633.8 520.4,638.2 589.5,677.3 658.5,660.4"/>
<polyline points="451.4,633.8 520.4,615.5 589.5,670.5 658.5,702.2"/>
<polyline points="451.4,633.8 520.4,644.6 589.5,646.8 658.5,705.4"/>
<polyline points="451.4,633.8 520.4,617.4 589.5,672.4 658.5,711.2"/>
<polyline points="451.4,633.8 520.4,624.7 589.5,644.9 658.5,732.8"/>
<polyline points="451.4,633.8 520.4,663.1 589.5,687.4 658.5,687.8"/>
<polyline points="451.4,633.8 520.4,641.0 589.5,667.2 658.5,678.7"/>
<polyline points="451.4,633.8 520.4,622.8 589.5,663.9 658.5,713.4"/>
<polyline points="451.4,633.8 520.4,670.2 589.5,635.7 658.5,686.7"/>
<polyline points="451.4,633.8 520.4,636.0 589.5,675.7 658.5,696.6"/>
<polyline points="451.4,633.8 520.4,621.3 589.5,668.6 658.5,678.2"/>
<polyline points="451.4,633.8 520.4,642.5 589.5,627.8 658.5,676.7"/>
<polyline points="451.4,633.8 520.4,647.0 589.5,663.4 658.5,695.5"/>
<polyline points="451.4,633.8 520.4,620.0 589.5,694.5 658.5,657.5"/>
<polyline points="451.4,633.8 520.4,670.6 589.5,671.1 658.5,690.0"/>
<polyline points="451.4,633.8 520.4,656.7 589.5,665.2 658.5,697.2"/>
<polyline points="451.4,633.8 520.4,600.4 589.5,691.4 658.5,698.4"/>
<polyline points="451.4,633.8 520.4,665.1 589.5,651.5 658.5,713.9"/>
<polyline points="451.4,633.8 520.4,645.9 589.5,653.3 658.5,666.8"/>
<polyline points="451.4,633.8 520.4,647.0 589.5,653.5 658.5,685.2"/>
<polyline points="451.4,633.8 520.4,662.9 589.5,671.1 658.5,691.4"/>
<polyline points="451.4,633.8 520.4,623.4 589.5,680.3 658.5,696.5"/>
<polyline points="451.4,633.8 520.4,646.2 589.5,678.6 658.5,666.7"/>
<polyline points="451.4,633.8 520.4,655.4 589.5,644.0 658.5,670.0"/>
<polyline points="451.4,633.8 520.4,608.1 589.5,677.1 658.5,714.4"/>
<polyline points="451.4,633.8 520.4,674.7 589.5,644.6 658.5,669.7"/>
<polyline points="451.4,633.8 520.4,645.6 589.5,657.0 658.5,645.5"/>
<polyline points="451.4,633.8 520.4,623.2 589.5,650.6 658.5,667.4"/>
<polyline points="451.4,633.8 520.4,683.1 589.5,627.4 658.5,678.9"/>
<polyline points="451.4,633.8 520.4,656.2 589.5,625.9 658.5,694.3"/>
<polyline points="451.4,633.8 520.4,643.0 589.5,641.1 658.5,686.0"/>
<polyline points="451.4,633.8 520.4,627.7 589.5,638.1 658.5,669.4"/>
<polyline points="451.4,633.8 520.4,639.7 589.5,665.3 658.5,681.1"/>
<polyline points="451.4,633.8 520.4,634.2 589.5,683.6 658.5,676.1"/>
<polyline points="451.4,633.8 520.4,664.9 589.5,647.0 658.5,675.6"/>
<polyline points="451.4,633.8 520.4,619.9 589.5,632.9 658.5,659.1"/>
<polyline points="451.4,633.8 520.4,661.5 589.5,652.1 658.5,660.7"/>
<polyline points="451.4,633.8 520.4,639.6 589.5,652.8 658.5,695.9"/>
<polyline points="451.4,633.8 520.4,640.4 589.5,622.2 658.5,711.2"/>
<polyline points="451.4,633.8 520.4,679.3 589.5,684.8 658.5,719.6"/>
<polyline points="451.4,633.8 520.4,613.3 589.5,643.7 658.5,679.9"/>
<polyline points="451.4,633.8 520.4,610.6 589.5,630.2 658.5,683.7"/>
<polyline points="451.4,633.8 520.4,654.9 589.5,672.8 658.5,697.0"/>
<polyline points="451.4,633.8 520.4,605.8 589.5,666.3 658.5,671.8"/>
<polyline points="451.4,633.8 520.4,615.0 589.5,651.2 658.5,681.5"/>
<polyline points="451.4,633.8 520.4,671.0 589.5,685.5 658.5,655.9"/>
<polyline points="451.4,633.8 520.4,677.4 589.5,629.7 658.5,651.9"/>
<polyline points="451.4,633.8 520.4,607.6 589.5,660.0 658.5,702.3"/>
<polyline points="451.4,633.8 520.4,642.6 589.5,624.3 658.5,668.8"/>
<polyline points="451.4,633.8 520.4,633.1 589.5,658.6 658.5,659.7"/>
<polyline points="451.4,633.8 520.4,674.3 589.5,644.2 658.5,665.0"/>
<polyline points="451.4,633.8 520.4,666.2 589.5,666.0 658.5,684.5"/>
<polyline points="451.4,633.8 520.4,615.5 589.5,669.2 658.5,678.9"/>
<polyline points="451.4,633.8 520.4,663.1 589.5,661.1 658.5,673.0"/>
<polyline points="451.4,633.8 520.4,634.7 589.5,631.6 658.5,712.3"/>
<polyline points="451.4,633.8 520.4,625.6 589.5,644.7 658.5,701.1"/>
<polyline points="451.4,633.8 520.4,612.5 589.5,671.7 658.5,690.9"/>
<polyline points="451.4,633.8 520.4,631.9 589.5,665.4 658.5,646.4"/>
<polyline points="451.4,633.8 520.4,635.0 589.5,674.1 658.5,664.4"/>
<polyline points="451.4,633.8 520.4,643.4 589.5,673.0 658.5,685.6"/>
<polyline points="451.4,633.8 520.4,614.0 589.5,647.2 658.5,687.9"/>
<polyline points="451.4,633.8 520.4,624.9 589.5,689.3 658.5,666.3"/>
<polyline points="451.4,633.8 520.4,611.9 589.5,683.5 658.5,708.5"/>
<polyline points="451.4,633.8 520.4,666.4 589.5,660.6 658.5,700.1"/>
<polyline points="451.4,633.8 520.4,645.5 589.5,679.6 658.5,675.2"/>
<polyline points="451.4,633.8 520.4,630.8 589.5,644.7 658.5,695.7"/>
<polyline points="451.4,633.8 520.4,624.3 589.5,692.9 658.5,697.7"/>
<polyline points="451.4,633.8 520.4,647.0 589.5,624.8 658.5,691.3"/>
<polyline points="451.4,633.8 520.4,629.8 589.5,674.7 658.5,675.5"/>
<polyline points="451.4,633.8 520.4,632.5 589.5,639.4 658.5,669.6"/>
<polyline points="451.4,633.8 520.4,647.9 589.5,654.4 658.5,715.0"/>
<polyline points="451.4,633.8 520.4,627.1 589.5,647.8 658.5,695.8"/>
<polyline points="451.4,633.8 520.4,600.4 589.5,655.2 658.5,697.5"/>
<polyline points="451.4,633.8 520.4,630.2 589.5,644.9 658.5,666.2"/>
<polyline points="451.4,633.8 520.4,647.1 589.5,637.0 658.5,678.9"/>
<polyline points="451.4,633.8 520.4,615.0 589.5,647.6 658.5,701.4"/>
<polyline points="451.4,633.8 520.4,670.2 589.5,641.7 658.5,659.3"/>
<polyline points="451.4,633.8 520.4,681.1 589.5,640.8 658.5,683.5"/>
<polyline points="451.4,633.8 520.4,638.0 589.5,674.9 658.5,708.5"/>
<polyline points="451.4,633.8 520.4,659.4 589.5,674.9 658.5,691.8"/>
<polyline points="451.4,633.8 520.4,642.3 589.5,654.4 658.5,704.5"/>
<polyline points="451.4,633.8 520.4,655.7 589.5,653.1 658.5,667.0"/>
<polyline points="451.4,633.8 520.4,670.4 589.5,689.9 658.5,675.7"/>
<polyline points="451.4,633.8 520.4,635.5 589.5,641.4 658.5,666.4"/>
<polyline points="451.4,633.8 520.4,682.8 589.5,629.9 658.5,684.8"/>
<polyline points="451.4,633.8 520.4,593.2 589.5,664.8 658.5,684.6"/>
<polyline points="451.4,633.8 520.4,640.1 589.5,647.8 658.5,676.8"/>
<polyline points="451.4,633.8 520.4,658.0 589.5,695.3 658.5,686.0"/>
<polyline points="451.4,633.8 520.4,652.8 589.5,671.2 658.5,680.5"/>
<polyline points="451.4,633.8 520.4,652.4 589.5,675.5 658.5,701.9"/>
<polyline points="451.4,633.8 520.4,651.3 589.5,656.4 658.5,668.7"/>
<polyline points="451.4,633.8 520.4,615.0 589.5,668.4 658.5,669.2"/>
<polyline points="451.4,633.8 520.4,671.7 589.5,656.3 658.5,662.5"/>
<polyline points="451.4,633.8 520.4,645.6 589.5,650.2 658.5,700.1"/>
<polyline points="451.4,633.8 520.4,662.6 589.5,649.1 658.5,686.3"/>
<polyline points="451.4,633.8 520.4,641.8 589.5,671.4 658.5,691.2"/>
<polyline points="451.4,633.8 520.4,626.4 589.5,621.9 658.5,691.4"/>
<polyline points="451.4,633.8 520.4,660.9 589.5,652.6 658.5,659.8"/>
<polyline points="451.4,633.8 520.4,638.1 589.5,629.7 658.5,686.4"/>
<polyline points="451.4,633.8 520.4,668.6 589.5,635.2 658.5,675.8"/>
<polyline points="451.4,633.8 520.4,660.8 589.5,647.1 658.5,709.4"/>
<polyline points="451.4,633.8 520.4,619.6 589.5,630.9 658.5,654.0"/>
<polyline points="451.4,633.8 520.4,655.8 589.5,635.9 658.5,644.0"/>
<polyline points="451.4,633.8 520.4,686.7 589.5,633.4 658.5,650.6"/>
<polyline points="451.4,633.8 520.4,651.9 589.5,632.7 658.5,679.0"/>
<polyline points="451.4,633.8 520.4,609.0 589.5,661.1 658.5,680.6"/>
<polyline points="451.4,633.8 520.4,673.8 589.5,675.1 658.5,706.8"/>
<polyline points="451.4,633.8 520.4,667.0 589.5,653.4 658.5,680.3"/>
<polyline points="451.4,633.8 520.4,634.1 589.5,631.8 658.5,716.3"/>
<polyline points="451.4,633.8 520.4,640.4 589.5,659.7 658.5,663.7"/>
<polyline points="451.4,633.8 520.4,641.7 589.5,623.6 658.5,678.4"/>
<polyline points="451.4,633.8 520.4,596.5 589.5,678.0 658.5,653.9"/>
<polyline points="451.4,633.8 520.4,622.1 589.5,672.7 658.5,713.5"/>
<polyline points="451.4,633.8 520.4,660.9 589.5,646.3 658.5,642.3"/>
<polyline points="451.4,633.8 520.4,680.9 589.5,662.1 658.5,712.0"/>
<polyline points="451.4,633.8 520.4,625.3 589.5,651.7 658.5,680.9"/>
<polyline points="451.4,633.8 520.4,626.4 589.5,648.1 658.5,646.8"/>
<polyline points="451.4,633.8 520.4,651.8 589.5,669.4 658.5,681.5"/>
<polyline points="451.4,633.8 520.4,645.7 589.5,624.7 658.5,691.0"/>
<polyline points="451.4,633.8 520.4,657.7 589.5,671.4 658.5,700.0"/>
<polyline points="451.4,633.8 520.4,641.5 589.5,643.3 658.5,677.8"/>
<polyline points="451.4,633.8 520.4,663.7 589.5,633.4 658.5,664.7"/>
<polyline points="451.4,633.8 520.4,638.4 589.5,640.2 658.5,684.3"/>
<polyline points="451.4,633.8 520.4,634.8 589.5,642.5 658.5,710.7"/>
<polyline points="451.4,633.8 520.4,657.1 589.5,672.3 658.5,672.3"/>
<polyline points="451.4,633.8 520.4,637.8 589.5,655.7 658.5,686.0"/>
<polyline points="451.4,633.8 520.4,635.0 589.5,690.9 658.5,676.5"/>
<polyline points="451.4,633.8 520.4,663.5 589.5,670.1 658.5,648.9"/>
<polyline points="451.4,633.8 520.4,653.1 589.5,630.1 658.5,682.7"/>
<polyline points="451.4,633.8 520.4,652.2 589.5,664.5 658.5,716.4"/>
<polyline points="451.4,633.8 520.4,653.3 589.5,652.1 658.5,648.2"/>
<polyline points="451.4,633.8 520.4,626.3 589.5,635.7 658.5,703.9"/>
<polyline points="451.4,633.8 520.4,663.1 589.5,646.5 658.5,669.2"/>
<polyline points="451.4,633.8 520.4,671.0 589.5,630.7 658.5,697.0"/>
<polyline points="451.4,633.8 520.4,638.3 589.5,666.7 658.5,664.3"/>
<polyline points="451.4,633.8 520.4,623.4 589.5,631.0 658.5,703.4"/>
<polyline points="451.4,633.8 520.4,641.1 589.5,655.2 658.5,670.6"/>
<polyline points="451.4,633.8 520.4,641.7 589.5,667.4 658.5,644.2"/>
<polyline points="451.4,633.8 520.4,661.7 589.5,643.1 658.5,670.5"/>
<polyline points="451.4,633.8 520.4,642.7 589.5,631.8 658.5,661.9"/>
<polyline points="451.4,633.8 520.4,674.6 589.5,674.7 658.5,643.6"/>
<polyline points="451.4,633.8 520.4,658.6 589.5,656.3 658.5,697.1"/>
<polyline points="451.4,633.8 520.4,597.4 589.5,684.9 658.5,677.4"/>
<polyline points="451.4,633.8 520.4,654.3 589.5,662.3 658.5,710.9"/>
<polyline points="451.4,633.8 520.4,664.5 589.5,660.2 658.5,675.8"/>
<polyline points="451.4,633.8 520.4,690.3 589.5,653.2 658.5,702.6"/>
<polyline points="451.4,633.8 520.4,646.1 589.5,666.0 658.5,684.7"/>
<polyline points="451.4,633.8 520.4,650.8 589.5,644.3 658.5,681.7"/>
<polyline points="451.4,633.8 520.4,686.6 589.5,690.0 658.5,675.0"/>
<polyline points="451.4,633.8 520.4,686.5 589.5,679.8 658.5,690.6"/>
<polyline points="451.4,633.8 520.4,649.9 589.5,647.5 658.5,666.7"/>
<polyline points="451.4,633.8 520.4,657.8 589.5,653.1 658.5,730.8"/>
<polyline points="451.4,633.8 520.4,637.0 589.5,641.8 658.5,723.6"/>
<polyline points="451.4,633.8 520.4,622.5 589.5,660.6 658.5,648.5"/>
<polyline points="451.4,633.8 520.4,628.1 589.5,672.7 658.5,697.0"/>
<polyline points="451.4,633.8 520.4,654.5 589.5,639.4 658.5,702.8"/>
<polyline points="451.4,633.8 520.4,681.8 589.5,652.7 658.5,700.9"/>
<polyline points="451.4,633.8 520.4,603.4 589.5,680.7 658.5,675.6"/>
<polyline points="451.4,633.8 520.4,650.8 589.5,691.4 658.5,694.6"/>
<polyline points="451.4,633.8 520.4,635.8 589.5,679.0 658.5,712.2"/>
<polyline points="451.4,633.8 520.4,684.6 589.5,622.1 658.5,669.9"/>
<polyline points="451.4,633.8 520.4,670.4 589.5,660.0 658.5,667.4"/>
<polyline points="451.4,633.8 520.4,631.1 589.5,655.7 658.5,732.7"/>
<polyline points="451.4,633.8 520.4,603.1 589.5,659.1 658.5,648.9"/>
<polyline points="451.4,633.8 520.4,677.4 589.5,636.7 658.5,650.0"/>
<polyline points="451.4,633.8 520.4,616.6 589.5,685.5 658.5,688.4"/>
<polyline points="451.4,633.8 520.4,606.6 589.5,675.7 658.5,665.6"/>
<polyline points="451.4,633.8 520.4,649.7 589.5,692.0 658.5,659.2"/>
<polyline points="451.4,633.8 520.4,618.0 589.5,640.3 658.5,676.0"/>
<polyline points="451.4,633.8 520.4,620.0 589.5,656.8 658.5,670.3"/>
<polyline points="451.4,633.8 520.4,618.2 589.5,661.6 658.5,673.8"/>
<polyline points="451.4,633.8 520.4,674.3 589.5,643.1 658.5,675.4"/>
<polyline points="451.4,633.8 520.4,654.6 589.5,656.2 658.5,680.0"/>
<polyline points="451.4,633.8 520.4,640.1 589.5,637.2 658.5,657.6"/>
<polyline points="451.4,633.8 520.4,638.9 589.5,628.4 658.5,710.1"/>
<polyline points="451.4,633.8 520.4,649.5 589.5,670.8 658.5,657.9"/>
<polyline points="451.4,633.8 520.4,639.0 589.5,690.5 658.5,688.3"/>
<polyline points="451.4,633.8 520.4,691.0 589.5,664.3 658.5,660.1"/>
<polyline points="451.4,633.8 520.4,628.9 589.5,648.5 658.5,695.2"/>
<polyline points="451.4,633.8 520.4,629.1 589.5,625.8 658.5,663.4"/>
<polyline points="451.4,633.8 520.4,620.2 589.5,644.6 658.5,671.1"/>
<polyline points="451.4,633.8 520.4,667.4 589.5,681.3 658.5,703.6"/>
<polyline points="451.4,633.8 520.4,662.8 589.5,673.3 658.5,649.7"/>
<polyline points="451.4,633.8 520.4,650.2 589.5,662.0 658.5,688.7"/>
<polyline points="451.4,633.8 520.4,645.1 589.5,623.4 658.5,645.6"/>
<polyline points="451.4,633.8 520.4,655.9 589.5,640.9 658.5,674.4"/>
<polyline points="451.4,633.8 520.4,612.2 589.5,652.6 658.5,674.0"/>
<polyline points="451.4,633.8 520.4,641.0 589.5,683.5 658.5,712.2"/>
<polyline points="451.4,633.8 520.4,669.2 589.5,676.7 658.5,696.2"/>
<polyline points="451.4,633.8 520.4,658.7 589.5,628.8 658.5,681.6"/>
<polyline points="451.4,633.8 520.4,625.5 589.5,647.4 658.5,702.8"/>
<polyline points="451.4,633.8 520.4,652.0 589.5,691.9 658.5,723.9"/>
<polyline points="451.4,633.8 520.4,635.6 589.5,656.7 658.5,680.3"/>
<polyline points="451.4,633.8 520.4,620.9 589.5,688.7 658.5,686.1"/>
<polyline points="451.4,633.8 520.4,667.4 589.5,641.7 658.5,719.7"/>
<polyline points="451.4,633.8 520.4,678.4 589.5,663.7 658.5,641.8"/>
<polyline points="451.4,633.8 520.4,626.6 589.5,660.7 658.5,667.7"/>
<polyline points="451.4,633.8 520.4,643.5 589.5,666.1 658.5,695.6"/>
<polyline points="451.4,633.8 520.4,634.7 589.5,659.1 658.5,664.1"/>
<polyline points="451.4,633.8 520.4,659.6 589.5,636.3 658.5,692.8"/>
<polyline points="451.4,633.8 520.4,616.2 589.5,632.2 658.5,699.7"/>
<polyline points="451.4,633.8 520.4,636.6 589.5,672.5 658.5,712.9"/>
<polyline points="451.4,633.8 520.4,643.2 589.5,653.0 658.5,701.0"/>
<polyline points="451.4,633.8 520.4,673.0 589.5,667.6 658.5,708.5"/>
<polyline points="451.4,633.8 520.4,662.0 589.5,677.7 658.5,672.2"/>
<polyline points="451.4,633.8 520.4,595.5 589.5,667.2 658.5,683.7"/>
<polyline points="451.4,633.8 520.4,678.8 589.5,630.0 658.5,686.2"/>
<polyline points="451.4,633.8 520.4,654.6 589.5,678.6 658.5,668.3"/>
<polyline points="451.4,633.8 520.4,634.0 589.5,671.6 658.5,643.5"/>
<polyline points="451.4,633.8 520.4,668.4 589.5,627.4 658.5,678.6"/>
<polyline points="451.4,633.8 520.4,680.0 589.5,662.7 658.5,669.7"/>
<polyline points="451.4,633.8 520.4,656.1 589.5,654.2 658.5,685.0"/>
<polyline points="451.4,633.8 520.4,635.4 589.5,672.2 658.5,674.8"/>
<polyline points="451.4,633.8 520.4,608.9 589.5,662.2 658.5,677.8"/>
<polyline points="451.4,633.8 520.4,670.1 589.5,655.2 658.5,646.1"/>
<polyline points="451.4,633.8 520.4,638.0 589.5,673.7 658.5,695.8"/>
<polyline points="451.4,633.8 520.4,631.1 589.5,660.3 658.5,677.0"/>
<polyline points="451.4,633.8 520.4,644.9 589.5,638.5 658.5,643.0"/>
<polyline points="451.4,633.8 520.4,683.5 589.5,673.2 658.5,699.2"/>
<polyline points="451.4,633.8 520.4,649.7 589.5,658.4 658.5,662.0"/>
<polyline points="451.4,633.8 520.4,629.6 589.5,640.3 658.5,667.9"/>
<polyline points="451.4,633.8 520.4,656.3 589.5,663.7 658.5,704.2"/>
<polyline points="451.4,633.8 520.4,632.8 589.5,631.6 658.5,670.7"/>
<polyline points="451.4,633.8 520.4,625.9 589.5,632.2 658.5,672.1"/>
<polyline points="451.4,633.8 520.4,668.5 589.5,667.8 658.5,725.2"/>
<polyline points="451.4,633.8 520.4,622.3 589.5,668.8 658.5,678.0"/>
<polyline points="451.4,633.8 520.4,592.5 589.5,675.2 658.5,682.0"/>
<polyline points="451.4,633.8 520.4,665.6 589.5,632.2 658.5,684.6"/>
<polyline points="451.4,633.8 520.4,647.0 589.5,637.3 658.5,687.2"/>
<polyline points="451.4,633.8 520.4,628.3 589.5,625.5 658.5,698.8"/>
<polyline points="451.4,633.8 520.4,634.5 589.5,652.4 658.5,656.7"/>
<polyline points="451.4,633.8 520.4,670.1 589.5,653.2 658.5,666.2"/>
<polyline points="451.4,633.8 520.4,635.8 589.5,659.1 658.5,712.0"/>
<polyline points="451.4,633.8 520.4,645.3 589.5,677.1 658.5,647.2"/>
<polyline points="451.4,633.8 520.4,634.1 589.5,669.7 658.5,691.1"/>
<polyline points="451.4,633.8 520.4,617.6 589.5,689.9 658.5,677.7"/>
<polyline points="451.4,633.8 520.4,641.7 589.5,677.6 658.5,657.1"/>
<polyline points="451.4,633.8 520.4,655.3 589.5,630.6 658.5,677.6"/>
<polyline points="451.4,633.8 520.4,660.9 589.5,658.6 658.5,658.2"/>
<polyline points="451.4,633.8 520.4,668.4 589.5,675.5 658.5,684.6"/>
<polyline points="451.4,633.8 520.4,631.6 589.5,641.2 658.5,705.4"/>
<polyline points="451.4,633.8 520.4,674.8 589.5,658.2 658.5,687.8"/>
<polyline points="451.4,633.8 520.4,638.4 589.5,692.7 658.5,694.4"/>
<polyline points="451.4,633.8 520.4,673.0 589.5,678.2 658.5,695.1"/>
<polyline points="451.4,633.8 520.4,688.9 589.5,667.0 658.5,700.8"/>
<polyline points="451.4,633.8 520.4,684.2 589.5,667.7 658.5,651.3"/>
<polyline points="451.4,633.8 520.4,642.3 589.5,623.9 658.5,652.2"/>
<polyline points="451.4,633.8 520.4,642.3 589.5,663.3 658.5,731.4"/>
<polyline points="451.4,633.8 520.4,640.4 589.5,654.6 658.5,678.6"/>
<polyline points="451.4,633.8 520.4,667.0 589.5,663.0 658.5,708.2"/>
<polyline points="451.4,633.8 520.4,624.4 589.5,654.0 658.5,730.6"/>
<polyline points="451.4,633.8 520.4,660.0 589.5,626.9 658.5,707.5"/>
<polyline points="451.4,633.8 520.4,673.0 589.5,679.3 658.5,695.8"/>
<polyline points="451.4,633.8 520.4,643.3 589.5,660.3 658.5,678.8"/>
<polyline points="451.4,633.8 520.4,660.0 589.5,640.7 658.5,649.0"/>
<polyline points="451.4,633.8 520.4,667.3 589.5,649.5 658.5,675.1"/>
<polyline points="451.4,633.8 520.4,641.3 589.5,656.9 658.5,671.2"/>
<polyline points="451.4,633.8 520.4,650.7 589.5,671.1 658.5,700.8"/>
<polyline points="451.4,633.8 520.4,627.2 589.5,668.3 658.5,725.2"/>
<polyline points="451.4,633.8 520.4,657.1 589.5,668.3 658.5,661.8"/>
<polyline points="451.4,633.8 520.4,620.7 589.5,681.8 658.5,653.0"/>
<polyline points="451.4,633.8 520.4,637.0 589.5,668.1 658.5,666.8"/>
<polyline points="451.4,633.8 520.4,627.4 589.5,686.2 658.5,682.9"/>
<polyline points="451.4,633.8 520.4,642.3 589.5,660.7 658.5,703.0"/>
<polyline points="451.4,633.8 520.4,651.5 589.5,653.9 658.5,681.0"/>
<polyline points="451.4,633.8 520.4,619.4 589.5,667.9 658.5,676.8"/>
<polyline points="451.4,633.8 520.4,646.0 589.5,653.8 658.5,716.4"/>
<polyline points="451.4,633.8 520.4,645.2 589.5,655.8 658.5,713.0"/>
<polyline points="451.4,633.8 520.4,633.8 589.5,647.3 658.5,718.4"/>
<polyline points="451.4,633.8 520.4,652.3 589.5,661.2 658.5,685.8"/>
<polyline points="451.4,633.8 520.4,669.7 589.5,640.2 658.5,713.3"/>
<polyline points="451.4,633.8 520.4,617.3 589.5,656.1 658.5,692.5"/>
<polyline points="451.4,633.8 520.4,683.1 589.5,647.6 658.5,673.6"/>
<polyline points="451.4,633.8 520.4,681.2 589.5,661.4 658.5,718.4"/>
<polyline points="451.4,633.8 520.4,615.5 589.5,680.7 658.5,703.4"/>
<polyline points="451.4,633.8 520.4,680.2 589.5,678.3 658.5,689.0"/>
<polyline points="451.4,633.8 520.4,672.1 589.5,649.8 658.5,706.9"/>
<polyline points="451.4,633.8 520.4,648.4 589.5,669.3 658.5,684.7"/>
<polyline points="451.4,633.8 520.4,630.7 589.5,665.1 658.5,680.3"/>
<polyline points="451.4,633.8 520.4,637.7 589.5,677.3 658.5,670.2"/>
<polyline points="451.4,633.8 520.4,638.7 589.5,669.3 658.5,712.0"/>
<polyline points="451.4,633.8 520.4,615.1 589.5,630.9 658.5,678.4"/>
<polyline points="451.4,633.8 520.4,619.5 589.5,622.1 658.5,686.2"/>
<polyline points="451.4,633.8 520.4,631.9 589.5,643.0 658.5,671.3"/>
<polyline points="451.4,633.8 520.4,648.8 589.5,667.3 658.5,664.7"/>
<polyline points="451.4,633.8 520.4,640.6 589.5,645.4 658.5,680.5"/>
<polyline points="451.4,633.8 520.4,676.2 589.5,659.2 658.5,676.2"/>
<polyline points="451.4,633.8 520.4,649.2 589.5,673.4 658.5,704.1"/>
<polyline points="451.4,633.8 520.4,642.8 589.5,683.5 658.5,670.7"/>
<polyline points="451.4,633.8 520.4,677.5 589.5,634.4 658.5,688.3"/>
<polyline points="451.4,633.8 520.4,646.0 589.5,648.1 658.5,698.4"/>
<polyline points="451.4,633.8 520.4,662.2 589.5,633.3 658.5,716.2"/>
<polyline points="451.4,633.8 520.4,668.8 589.5,638.1 658.5,665.9"/>
<polyline points="451.4,633.8 520.4,665.7 589.5,674.7 658.5,680.3"/>
<polyline points="451.4,633.8 520.4,600.3 589.5,663.7 658.5,695.9"/>
<polyline points="451.4,633.8 520.4,648.3 589.5,698.0 658.5,676.4"/>
<polyline points="451.4,633.8 520.4,656.0 589.5,631.8 658.5,702.0"/>
<polyline points="451.4,633.8 520.4,638.2 589.5,670.9 658.5,695.7"/>
<polyline points="451.4,633.8 520.4,602.8 589.5,677.7 658.5,685.3"/>
<polyline points="451.4,633.8 520.4,636.4 589.5,649.2 658.5,693.0"/>
<polyline points="451.4,633.8 520.4,639.3 589.5,643.2 658.5,667.2"/>
<polyline points="451.4,633.8 520.4,667.2 589.5,629.0 658.5,702.4"/>
<polyline points="451.4,633.8 520.4,615.0 589.5,643.6 658.5,667.2"/>
<polyline points="451.4,633.8 520.4,638.6 589.5,649.6 658.5,711.1"/>
<polyline points="451.4,633.8 520.4,593.5 589.5,653.6 658.5,685.5"/>
<polyline points="451.4,633.8 520.4,630.7 589.5,633.6 658.5,677.7"/>
<polyline points="451.4,633.8 520.4,619.9 589.5,641.0 658.5,696.4"/>
<polyline points="451.4,633.8 520.4,641.3 589.5,631.7 658.5,703.6"/>
<polyline points="451.4,633.8 520.4,644.1 589.5,673.8 658.5,688.8"/>
<polyline points="451.4,633.8 520.4,683.4 589.5,653.4 658.5,697.5"/>
<polyline points="451.4,633.8 520.4,618.8 589.5,664.1 658.5,655.5"/>
<polyline points="451.4,633.8 520.4,663.6 589.5,653.2 658.5,673.0"/>
<polyline points="451.4,633.8 520.4,676.8 589.5,658.3 658.5,698.2"/>
<polyline points="451.4,633.8 520.4,677.2 589.5,682.3 658.5,650.7"/>
<polyline points="451.4,633.8 520.4,659.2 589.5,657.0 658.5,701.7"/>
<polyline points="451.4,633.8 520.4,657.0 589.5,669.4 658.5,686.1"/>
<polyline points="451.4,633.8 520.4,645.5 589.5,636.6 658.5,684.9"/>
<polyline points="451.4,633.8 520.4,649.9 589.5,677.1 658.5,669.7"/>
<polyline points="451.4,633.8 520.4,636.1 589.5,664.6 658.5,726.3"/>
<polyline points="451.4,633.8 520.4,649.4 589.5,622.5 658.5,682.9"/>
<polyline points="451.4,633.8 520.4,615.8 589.5,662.5 658.5,663.5"/>
<polyline points="451.4,633.8 520.4,605.8 589.5,637.7 658.5,708.4"/>
<polyline points="451.4,633.8 520.4,684.6 589.5,671.0 658.5,679.9"/>
<polyline points="451.4,633.8 520.4,676.5 589.5,673.6 658.5,688.8"/>
<polyline points="451.4,633.8 520.4,652.2 589.5,641.3 658.5,713.1"/>
<polyline points="451.4,633.8 520.4,645.5 589.5,661.9 658.5,679.8"/>
<polyline points="451.4,633.8 520.4,642.3 589.5,682.6 658.5,673.4"/>
<polyline points="451.4,633.8 520.4,598.9 589.5,650.8 658.5,719.9"/>
<polyline points="451.4,633.8 520.4,657.1 589.5,664.5 658.5,682.8"/>
<polyline points="451.4,633.8 520.4,681.1 589.5,696.8 658.5,688.6"/>
<polyline points="451.4,633.8 520.4,640.9 589.5,675.8 658.5,677.4"/>
<polyline points="451.4,633.8 520.4,567.2 589.5,666.3 658.5,674.4"/>
<polyline points="451.4,633.8 520.4,570.9 589.5,658.2 658.5,682.5"/>
<polyline points="451.4,633.8 520.4,574.9 589.5,654.1 658.5,670.3"/>
<polyline points="451.4,633.8 520.4,577.0 589.5,646.0 658.5,678.5"/>
<polyline points="451.4,633.8 520.4,579.0 589.5,662.2 658.5,690.6"/>
<polyline points="451.4,633.8 520.4,572.9 589.5,650.0 658.5,666.3"/>
<polyline points="451.4,633.8 520.4,583.0 589.5,641.9 658.5,658.2"/>
<polyline points="451.4,633.8 520.4,585.1 589.5,633.8 658.5,662.2"/>
<polyline points="451.4,633.8 520.4,609.4 589.5,615.5 658.5,646.0"/>
<polyline points="451.4,633.8 520.4,613.5 589.5,617.6 658.5,641.9"/>
<polyline points="451.4,633.8 520.4,601.3 589.5,619.6 658.5,650.0"/>
<polyline points="451.4,633.8 520.4,621.6 589.5,616.7 658.5,643.9"/>
<polyline points="451.4,633.8 520.4,597.3 589.5,621.6 658.5,654.1"/>
<polyline points="451.4,633.8 520.4,605.4 589.5,618.4 658.5,648.0"/>
<polyline points="451.4,633.8 520.4,674.4 589.5,740.2 658.5,723.1"/>
<polyline points="451.4,633.8 520.4,682.5 589.5,727.2 658.5,741.4"/>
<polyline points="451.4,633.8 520.4,666.3 589.5,723.1 658.5,731.2"/>
<polyline points="451.4,633.8 520.4,690.6 589.5,715.0 658.5,706.9"/>
<polyline points="451.4,633.8 520.4,658.2 589.5,710.9 658.5,735.3"/>
<polyline points="451.4,633.8 520.4,678.5 589.5,706.9 658.5,739.4"/>
<polyline points="451.4,633.8 520.4,670.3 589.5,702.8 658.5,719.1"/>
<polyline points="451.4,633.8 520.4,686.6 589.5,731.2 658.5,698.8"/>
<polyline points="451.4,633.8 520.4,662.2 589.5,700.8 658.5,737.3"/>
<polyline points="451.4,633.8 520.4,674.4 589.5,719.1 658.5,690.6"/>
<polyline points="451.4,633.8 520.4,682.5 589.5,710.9 658.5,727.2"/>
<polyline points="451.4,633.8 520.4,654.1 589.5,704.8 658.5,710.9"/>
</g>
<line x1="451.4" y1="633.8" x2="658.49" y2="633.8" stroke="#e34545" stroke-width="1.5"/>
<polyline points="451.4,633.8 520.4,644.8 589.5,655.7 658.5,682.1" stroke="#3448b0" stroke-width="1.4" fill="none"/>
<rect x="443.4" y="561.0" width="222.7" height="187.5" fill="none" stroke="#222" stroke-width="1.4"/>
<line x1="433.09999999999997" y1="715.0" x2="443.4" y2="715.0" stroke="#222" stroke-width="1.3"/>
<text transform="translate(424.2,719.7) scale(1.175,1)" font-size="13" fill="#222" text-anchor="end">-2</text>
<line x1="433.09999999999997" y1="674.4" x2="443.4" y2="674.4" stroke="#222" stroke-width="1.3"/>
<text transform="translate(424.2,679.1) scale(1.175,1)" font-size="13" fill="#222" text-anchor="end">-1</text>
<line x1="433.09999999999997" y1="633.8" x2="443.4" y2="633.8" stroke="#222" stroke-width="1.3"/>
<text transform="translate(424.2,638.5) scale(1.175,1)" font-size="13" fill="#222" text-anchor="end">0</text>
<line x1="433.09999999999997" y1="593.2" x2="443.4" y2="593.2" stroke="#222" stroke-width="1.3"/>
<text transform="translate(424.2,597.9) scale(1.175,1)" font-size="13" fill="#222" text-anchor="end">1</text>
<line x1="451.4" y1="748.5" x2="451.4" y2="756.9" stroke="#222" stroke-width="1.3"/>
<text transform="translate(453.6,776.5) rotate(-90) scale(1,1.175)" font-size="6.1" fill="#222">AAL</text>
<line x1="520.4" y1="748.5" x2="520.4" y2="756.9" stroke="#222" stroke-width="1.3"/>
<text transform="translate(522.6,776.5) rotate(-90) scale(1,1.175)" font-size="6.1" fill="#222">DGL</text>
<line x1="589.5" y1="748.5" x2="589.5" y2="756.9" stroke="#222" stroke-width="1.3"/>
<text transform="translate(591.7,776.5) rotate(-90) scale(1,1.175)" font-size="6.1" fill="#222">AAB</text>
<line x1="658.5" y1="748.5" x2="658.5" y2="756.9" stroke="#222" stroke-width="1.3"/>
<text transform="translate(660.7,776.5) rotate(-90) scale(1,1.175)" font-size="6.1" fill="#222">DGB</text>
<text transform="translate(382.9,654.8) rotate(-90) scale(1,1.1)" font-size="13" fill="#222" text-anchor="middle">log2(ratio)</text>
<text transform="translate(103.8,807.4) scale(1.175,1)" font-size="16" font-weight="bold" fill="#111" stroke="#111" stroke-width="0.25">subcluster_3, 657 genes</text>
<g stroke="#d3d3d3" stroke-width="1.25" fill="none" stroke-linejoin="round">
<polyline points="108.5,956.7 177.5,960.6 246.6,918.3 315.6,954.9"/>
<polyline points="108.5,956.7 177.5,943.4 246.6,947.2 315.6,940.3"/>
<polyline points="108.5,956.7 177.5,926.1 246.6,939.2 315.6,935.5"/>
<polyline points="108.5,956.7 177.5,948.5 246.6,920.6 315.6,935.2"/>
<polyline points="108.5,956.7 177.5,951.2 246.6,960.8 315.6,942.6"/>
<polyline points="108.5,956.7 177.5,970.8 246.6,946.8 315.6,938.3"/>
<polyline points="108.5,956.7 177.5,968.6 246.6,940.9 315.6,963.8"/>
<polyline points="108.5,956.7 177.5,964.0 246.6,937.6 315.6,918.1"/>
<polyline points="108.5,956.7 177.5,978.6 246.6,949.9 315.6,945.6"/>
<polyline points="108.5,956.7 177.5,1004.5 246.6,921.1 315.6,917.1"/>
<polyline points="108.5,956.7 177.5,956.2 246.6,948.2 315.6,924.5"/>
<polyline points="108.5,956.7 177.5,952.3 246.6,922.2 315.6,939.6"/>
<polyline points="108.5,956.7 177.5,973.8 246.6,953.8 315.6,956.1"/>
<polyline points="108.5,956.7 177.5,963.3 246.6,957.2 315.6,911.2"/>
<polyline points="108.5,956.7 177.5,998.2 246.6,963.1 315.6,955.4"/>
<polyline points="108.5,956.7 177.5,1002.5 246.6,905.8 315.6,940.7"/>
<polyline points="108.5,956.7 177.5,972.5 246.6,910.5 315.6,911.1"/>
<polyline points="108.5,956.7 177.5,976.4 246.6,945.2 315.6,949.2"/>
<polyline points="108.5,956.7 177.5,950.2 246.6,964.0 315.6,936.3"/>
<polyline points="108.5,956.7 177.5,955.7 246.6,907.0 315.6,901.2"/>
<polyline points="108.5,956.7 177.5,944.3 246.6,951.5 315.6,927.9"/>
<polyline points="108.5,956.7 177.5,971.4 246.6,910.7 315.6,930.0"/>
<polyline points="108.5,956.7 177.5,966.6 246.6,946.6 315.6,938.9"/>
<polyline points="108.5,956.7 177.5,965.8 246.6,959.0 315.6,889.5"/>
<polyline points="108.5,956.7 177.5,999.0 246.6,944.6 315.6,937.8"/>
<polyline points="108.5,956.7 177.5,955.3 246.6,946.1 315.6,937.8"/>
<polyline points="108.5,956.7 177.5,956.1 246.6,923.7 315.6,944.3"/>
<polyline points="108.5,956.7 177.5,969.6 246.6,905.1 315.6,922.9"/>
<polyline points="108.5,956.7 177.5,981.3 246.6,897.7 315.6,917.6"/>
<polyline points="108.5,956.7 177.5,973.7 246.6,964.7 315.6,928.0"/>
<polyline points="108.5,956.7 177.5,978.4 246.6,962.5 315.6,962.9"/>
<polyline points="108.5,956.7 177.5,972.1 246.6,921.0 315.6,944.0"/>
<polyline points="108.5,956.7 177.5,990.2 246.6,929.4 315.6,933.1"/>
<polyline points="108.5,956.7 177.5,946.3 246.6,919.2 315.6,938.2"/>
<polyline points="108.5,956.7 177.5,965.2 246.6,943.1 315.6,959.4"/>
<polyline points="108.5,956.7 177.5,949.6 246.6,915.9 315.6,930.7"/>
<polyline points="108.5,956.7 177.5,967.0 246.6,947.2 315.6,951.6"/>
<polyline points="108.5,956.7 177.5,977.8 246.6,949.9 315.6,953.0"/>
<polyline points="108.5,956.7 177.5,970.8 246.6,935.5 315.6,933.5"/>
<polyline points="108.5,956.7 177.5,984.5 246.6,942.4 315.6,910.4"/>
<polyline points="108.5,956.7 177.5,976.5 246.6,951.5 315.6,947.0"/>
<polyline points="108.5,956.7 177.5,949.9 246.6,959.7 315.6,913.0"/>
<polyline points="108.5,956.7 177.5,968.2 246.6,924.5 315.6,933.8"/>
<polyline points="108.5,956.7 177.5,966.9 246.6,955.4 315.6,940.3"/>
<polyline points="108.5,956.7 177.5,949.8 246.6,937.5 315.6,949.8"/>
<polyline points="108.5,956.7 177.5,954.6 246.6,923.3 315.6,937.8"/>
<polyline points="108.5,956.7 177.5,970.8 246.6,949.7 315.6,916.8"/>
<polyline points="108.5,956.7 177.5,952.1 246.6,960.0 315.6,926.3"/>
<polyline points="108.5,956.7 177.5,971.6 246.6,956.6 315.6,907.4"/>
<polyline points="108.5,956.7 177.5,946.7 246.6,956.1 315.6,932.8"/>
<polyline points="108.5,956.7 177.5,952.8 246.6,954.4 315.6,937.2"/>
<polyline points="108.5,956.7 177.5,949.7 246.6,935.9 315.6,918.4"/>
<polyline points="108.5,956.7 177.5,952.8 246.6,936.1 315.6,953.4"/>
<polyline points="108.5,956.7 177.5,951.5 246.6,930.6 315.6,929.8"/>
<polyline points="108.5,956.7 177.5,977.1 246.6,953.5 315.6,915.9"/>
<polyline points="108.5,956.7 177.5,979.7 246.6,932.7 315.6,923.4"/>
<polyline points="108.5,956.7 177.5,967.8 246.6,896.4 315.6,933.0"/>
<polyline points="108.5,956.7 177.5,1001.0 246.6,923.4 315.6,920.6"/>
<polyline points="108.5,956.7 177.5,968.4 246.6,943.2 315.6,948.3"/>
<polyline points="108.5,956.7 177.5,982.2 246.6,946.5 315.6,915.2"/>
<polyline points="108.5,956.7 177.5,961.4 246.6,935.1 315.6,949.8"/>
<polyline points="108.5,956.7 177.5,970.8 246.6,940.1 315.6,940.7"/>
<polyline points="108.5,956.7 177.5,938.2 246.6,959.0 315.6,893.2"/>
<polyline points="108.5,956.7 177.5,981.2 246.6,921.9 315.6,951.5"/>
<polyline points="108.5,956.7 177.5,930.9 246.6,939.6 315.6,925.8"/>
<polyline points="108.5,956.7 177.5,948.2 246.6,954.4 315.6,957.3"/>
<polyline points="108.5,956.7 177.5,1001.2 246.6,918.8 315.6,949.8"/>
<polyline points="108.5,956.7 177.5,973.8 246.6,942.8 315.6,891.0"/>
<polyline points="108.5,956.7 177.5,995.5 246.6,937.4 315.6,943.2"/>
<polyline points="108.5,956.7 177.5,952.3 246.6,949.8 315.6,916.2"/>
<polyline points="108.5,956.7 177.5,932.6 246.6,911.6 315.6,953.3"/>
<polyline points="108.5,956.7 177.5,961.4 246.6,944.3 315.6,964.7"/>
<polyline points="108.5,956.7 177.5,990.0 246.6,927.7 315.6,929.2"/>
<polyline points="108.5,956.7 177.5,965.2 246.6,918.9 315.6,956.5"/>
<polyline points="108.5,956.7 177.5,952.4 246.6,942.0 315.6,935.8"/>
<polyline points="108.5,956.7 177.5,953.1 246.6,938.8 315.6,928.7"/>
<polyline points="108.5,956.7 177.5,957.4 246.6,905.1 315.6,941.3"/>
<polyline points="108.5,956.7 177.5,943.1 246.6,930.6 315.6,942.2"/>
<polyline points="108.5,956.7 177.5,947.2 246.6,958.6 315.6,909.2"/>
<polyline points="108.5,956.7 177.5,977.9 246.6,951.6 315.6,927.5"/>
<polyline points="108.5,956.7 177.5,946.5 246.6,924.8 315.6,915.0"/>
<polyline points="108.5,956.7 177.5,966.4 246.6,960.5 315.6,922.5"/>
<polyline points="108.5,956.7 177.5,956.7 246.6,960.4 315.6,913.2"/>
<polyline points="108.5,956.7 177.5,958.6 246.6,960.5 315.6,924.9"/>
<polyline points="108.5,956.7 177.5,987.8 246.6,959.0 315.6,925.7"/>
<polyline points="108.5,956.7 177.5,992.3 246.6,941.5 315.6,964.1"/>
<polyline points="108.5,956.7 177.5,948.3 246.6,956.1 315.6,930.6"/>
<polyline points="108.5,956.7 177.5,991.2 246.6,948.8 315.6,913.8"/>
<polyline points="108.5,956.7 177.5,953.7 246.6,924.5 315.6,915.0"/>
<polyline points="108.5,956.7 177.5,969.6 246.6,915.1 315.6,957.7"/>
<polyline points="108.5,956.7 177.5,964.1 246.6,920.9 315.6,905.9"/>
<polyline points="108.5,956.7 177.5,937.9 246.6,963.2 315.6,926.0"/>
<polyline points="108.5,956.7 177.5,989.9 246.6,944.7 315.6,962.6"/>
<polyline points="108.5,956.7 177.5,942.1 246.6,926.8 315.6,922.4"/>
<polyline points="108.5,956.7 177.5,962.1 246.6,941.3 315.6,941.1"/>
<polyline points="108.5,956.7 177.5,955.1 246.6,937.4 315.6,924.5"/>
<polyline points="108.5,956.7 177.5,970.7 246.6,905.9 315.6,928.4"/>
<polyline points="108.5,956.7 177.5,935.7 246.6,916.7 315.6,953.8"/>
<polyline points="108.5,956.7 177.5,994.7 246.6,918.1 315.6,943.0"/>
<polyline points="108.5,956.7 177.5,960.9 246.6,947.2 315.6,931.7"/>
<polyline points="108.5,956.7 177.5,985.2 246.6,944.2 315.6,944.7"/>
<polyline points="108.5,956.7 177.5,962.7 246.6,926.5 315.6,927.3"/>
<polyline points="108.5,956.7 177.5,995.5 246.6,956.3 315.6,933.9"/>
<polyline points="108.5,956.7 177.5,950.4 246.6,942.2 315.6,904.3"/>
<polyline points="108.5,956.7 177.5,962.0 246.6,961.4 315.6,949.3"/>
<polyline points="108.5,956.7 177.5,948.2 246.6,953.9 315.6,916.1"/>
<polyline points="108.5,956.7 177.5,942.9 246.6,930.9 315.6,912.3"/>
<polyline points="108.5,956.7 177.5,965.8 246.6,942.4 315.6,947.5"/>
<polyline points="108.5,956.7 177.5,974.1 246.6,952.8 315.6,958.0"/>
<polyline points="108.5,956.7 177.5,989.8 246.6,939.4 315.6,924.6"/>
<polyline points="108.5,956.7 177.5,969.0 246.6,916.0 315.6,914.0"/>
<polyline points="108.5,956.7 177.5,942.4 246.6,953.8 315.6,967.2"/>
<polyline points="108.5,956.7 177.5,951.8 246.6,936.3 315.6,918.7"/>
<polyline points="108.5,956.7 177.5,954.5 246.6,918.1 315.6,940.9"/>
<polyline points="108.5,956.7 177.5,949.7 246.6,959.3 315.6,944.3"/>
<polyline points="108.5,956.7 177.5,933.7 246.6,922.7 315.6,949.4"/>
<polyline points="108.5,956.7 177.5,970.1 246.6,941.4 315.6,929.9"/>
<polyline points="108.5,956.7 177.5,981.1 246.6,939.8 315.6,924.8"/>
<polyline points="108.5,956.7 177.5,946.5 246.6,956.6 315.6,900.6"/>
<polyline points="108.5,956.7 177.5,925.9 246.6,896.0 315.6,963.9"/>
<polyline points="108.5,956.7 177.5,959.1 246.6,935.0 315.6,922.4"/>
<polyline points="108.5,956.7 177.5,984.4 246.6,938.6 315.6,920.8"/>
<polyline points="108.5,956.7 177.5,977.6 246.6,947.2 315.6,950.0"/>
<polyline points="108.5,956.7 177.5,959.6 246.6,939.3 315.6,899.9"/>
<polyline points="108.5,956.7 177.5,984.3 246.6,933.5 315.6,947.5"/>
<polyline points="108.5,956.7 177.5,957.0 246.6,928.4 315.6,921.4"/>
<polyline points="108.5,956.7 177.5,934.8 246.6,916.3 315.6,971.0"/>
<polyline points="108.5,956.7 177.5,963.6 246.6,903.9 315.6,943.5"/>
<polyline points="108.5,956.7 177.5,943.9 246.6,943.3 315.6,943.7"/>
<polyline points="108.5,956.7 177.5,932.1 246.6,922.3 315.6,939.9"/>
<polyline points="108.5,956.7 177.5,945.1 246.6,967.3 315.6,950.4"/>
<polyline points="108.5,956.7 177.5,945.2 246.6,941.5 315.6,957.8"/>
<polyline points="108.5,956.7 177.5,953.8 246.6,935.9 315.6,906.4"/>
<polyline points="108.5,956.7 177.5,944.1 246.6,947.5 315.6,945.1"/>
<polyline points="108.5,956.7 177.5,965.1 246.6,946.6 315.6,902.6"/>
<polyline points="108.5,956.7 177.5,932.0 246.6,916.2 315.6,926.2"/>
<polyline points="108.5,956.7 177.5,967.1 246.6,924.9 315.6,942.2"/>
<polyline points="108.5,956.7 177.5,957.9 246.6,950.3 315.6,903.0"/>
<polyline points="108.5,956.7 177.5,982.1 246.6,945.3 315.6,898.1"/>
<polyline points="108.5,956.7 177.5,934.7 246.6,949.1 315.6,945.0"/>
<polyline points="108.5,956.7 177.5,964.6 246.6,960.0 315.6,933.8"/>
<polyline points="108.5,956.7 177.5,968.2 246.6,953.3 315.6,940.2"/>
<polyline points="108.5,956.7 177.5,978.9 246.6,963.6 315.6,914.7"/>
<polyline points="108.5,956.7 177.5,926.1 246.6,947.7 315.6,943.8"/>
<polyline points="108.5,956.7 177.5,952.8 246.6,946.6 315.6,951.7"/>
<polyline points="108.5,956.7 177.5,935.8 246.6,962.1 315.6,950.5"/>
<polyline points="108.5,956.7 177.5,975.2 246.6,959.1 315.6,939.8"/>
<polyline points="108.5,956.7 177.5,951.4 246.6,914.6 315.6,920.0"/>
<polyline points="108.5,956.7 177.5,961.8 246.6,966.2 315.6,935.9"/>
<polyline points="108.5,956.7 177.5,980.5 246.6,944.1 315.6,913.1"/>
<polyline points="108.5,956.7 177.5,958.5 246.6,946.2 315.6,951.0"/>
<polyline points="108.5,956.7 177.5,962.9 246.6,940.1 315.6,954.9"/>
<polyline points="108.5,956.7 177.5,972.1 246.6,925.3 315.6,970.9"/>
<polyline points="108.5,956.7 177.5,970.9 246.6,964.5 315.6,900.7"/>
<polyline points="108.5,956.7 177.5,950.9 246.6,932.4 315.6,925.9"/>
<polyline points="108.5,956.7 177.5,957.0 246.6,936.6 315.6,969.2"/>
<polyline points="108.5,956.7 177.5,957.5 246.6,930.8 315.6,965.8"/>
<polyline points="108.5,956.7 177.5,946.7 246.6,929.4 315.6,967.9"/>
<polyline points="108.5,956.7 177.5,971.5 246.6,948.1 315.6,946.1"/>
<polyline points="108.5,956.7 177.5,955.0 246.6,966.6 315.6,939.4"/>
<polyline points="108.5,956.7 177.5,958.1 246.6,928.3 315.6,933.5"/>
<polyline points="108.5,956.7 177.5,967.1 246.6,929.0 315.6,914.1"/>
<polyline points="108.5,956.7 177.5,968.3 246.6,966.2 315.6,943.9"/>
<polyline points="108.5,956.7 177.5,997.5 246.6,948.5 315.6,951.6"/>
<polyline points="108.5,956.7 177.5,948.4 246.6,959.2 315.6,962.9"/>
<polyline points="108.5,956.7 177.5,980.8 246.6,909.4 315.6,934.0"/>
<polyline points="108.5,956.7 177.5,974.2 246.6,961.2 315.6,958.6"/>
<polyline points="108.5,956.7 177.5,965.6 246.6,934.0 315.6,909.4"/>
<polyline points="108.5,956.7 177.5,940.5 246.6,937.0 315.6,949.0"/>
<polyline points="108.5,956.7 177.5,978.9 246.6,961.7 315.6,925.3"/>
<polyline points="108.5,956.7 177.5,968.9 246.6,935.2 315.6,964.0"/>
<polyline points="108.5,956.7 177.5,945.3 246.6,936.6 315.6,933.6"/>
<polyline points="108.5,956.7 177.5,954.8 246.6,952.9 315.6,954.2"/>
<polyline points="108.5,956.7 177.5,927.7 246.6,945.7 315.6,945.6"/>
<polyline points="108.5,956.7 177.5,946.1 246.6,962.4 315.6,903.4"/>
<polyline points="108.5,956.7 177.5,975.9 246.6,943.3 315.6,954.6"/>
<polyline points="108.5,956.7 177.5,947.0 246.6,929.0 315.6,952.5"/>
<polyline points="108.5,956.7 177.5,961.5 246.6,964.2 315.6,929.5"/>
<polyline points="108.5,956.7 177.5,958.9 246.6,930.9 315.6,927.7"/>
<polyline points="108.5,956.7 177.5,950.5 246.6,923.2 315.6,943.1"/>
<polyline points="108.5,956.7 177.5,985.0 246.6,966.7 315.6,919.7"/>
<polyline points="108.5,956.7 177.5,969.6 246.6,922.1 315.6,933.6"/>
<polyline points="108.5,956.7 177.5,981.8 246.6,924.9 315.6,892.0"/>
<polyline points="108.5,956.7 177.5,965.9 246.6,960.2 315.6,953.1"/>
<polyline points="108.5,956.7 177.5,945.4 246.6,953.4 315.6,943.4"/>
<polyline points="108.5,956.7 177.5,949.3 246.6,942.0 315.6,932.0"/>
<polyline points="108.5,956.7 177.5,972.9 246.6,954.4 315.6,931.0"/>
<polyline points="108.5,956.7 177.5,959.5 246.6,930.9 315.6,945.5"/>
<polyline points="108.5,956.7 177.5,955.8 246.6,933.1 315.6,932.7"/>
<polyline points="108.5,956.7 177.5,951.5 246.6,922.8 315.6,930.2"/>
<polyline points="108.5,956.7 177.5,960.9 246.6,960.8 315.6,927.4"/>
<polyline points="108.5,956.7 177.5,964.2 246.6,948.1 315.6,952.6"/>
<polyline points="108.5,956.7 177.5,951.5 246.6,933.9 315.6,932.7"/>
<polyline points="108.5,956.7 177.5,954.1 246.6,953.5 315.6,932.5"/>
<polyline points="108.5,956.7 177.5,975.1 246.6,954.5 315.6,929.5"/>
<polyline points="108.5,956.7 177.5,958.1 246.6,944.4 315.6,951.9"/>
<polyline points="108.5,956.7 177.5,957.4 246.6,963.0 315.6,917.7"/>
<polyline points="108.5,956.7 177.5,969.1 246.6,942.2 315.6,917.3"/>
<polyline points="108.5,956.7 177.5,951.8 246.6,967.0 315.6,940.0"/>
<polyline points="108.5,956.7 177.5,955.4 246.6,963.0 315.6,936.1"/>
<polyline points="108.5,956.7 177.5,963.3 246.6,934.0 315.6,932.7"/>
<polyline points="108.5,956.7 177.5,959.9 246.6,937.6 315.6,904.5"/>
<polyline points="108.5,956.7 177.5,953.2 246.6,931.8 315.6,943.1"/>
<polyline points="108.5,956.7 177.5,940.9 246.6,945.8 315.6,918.4"/>
<polyline points="108.5,956.7 177.5,1002.8 246.6,937.5 315.6,936.7"/>
<polyline points="108.5,956.7 177.5,971.3 246.6,917.6 315.6,925.7"/>
<polyline points="108.5,956.7 177.5,965.1 246.6,952.3 315.6,893.5"/>
<polyline points="108.5,956.7 177.5,948.1 246.6,929.6 315.6,951.2"/>
<polyline points="108.5,956.7 177.5,937.5 246.6,931.5 315.6,940.4"/>
<polyline points="108.5,956.7 177.5,964.4 246.6,929.7 315.6,958.4"/>
<polyline points="108.5,956.7 177.5,946.3 246.6,950.6 315.6,948.1"/>
<polyline points="108.5,956.7 177.5,955.4 246.6,938.2 315.6,959.2"/>
<polyline points="108.5,956.7 177.5,963.9 246.6,930.6 315.6,940.0"/>
<polyline points="108.5,956.7 177.5,988.1 246.6,946.8 315.6,955.5"/>
<polyline points="108.5,956.7 177.5,973.5 246.6,941.3 315.6,935.7"/>
<polyline points="108.5,956.7 177.5,966.4 246.6,935.5 315.6,938.9"/>
<polyline points="108.5,956.7 177.5,970.2 246.6,939.2 315.6,892.5"/>
<polyline points="108.5,956.7 177.5,987.0 246.6,927.7 315.6,951.8"/>
<polyline points="108.5,956.7 177.5,937.6 246.6,961.0 315.6,945.1"/>
<polyline points="108.5,956.7 177.5,946.5 246.6,924.8 315.6,924.9"/>
<polyline points="108.5,956.7 177.5,953.8 246.6,944.7 315.6,944.1"/>
<polyline points="108.5,956.7 177.5,966.3 246.6,918.0 315.6,919.1"/>
<polyline points="108.5,956.7 177.5,962.1 246.6,936.2 315.6,916.5"/>
<polyline points="108.5,956.7 177.5,939.9 246.6,944.7 315.6,936.3"/>
<polyline points="108.5,956.7 177.5,956.1 246.6,937.6 315.6,906.9"/>
<polyline points="108.5,956.7 177.5,991.7 246.6,926.1 315.6,965.1"/>
<polyline points="108.5,956.7 177.5,983.0 246.6,954.3 315.6,937.6"/>
<polyline points="108.5,956.7 177.5,959.0 246.6,935.2 315.6,929.7"/>
<polyline points="108.5,956.7 177.5,970.8 246.6,934.7 315.6,920.0"/>
<polyline points="108.5,956.7 177.5,944.1 246.6,931.2 315.6,927.5"/>
<polyline points="108.5,956.7 177.5,927.0 246.6,962.7 315.6,955.3"/>
<polyline points="108.5,956.7 177.5,959.7 246.6,957.0 315.6,910.1"/>
<polyline points="108.5,956.7 177.5,971.2 246.6,939.1 315.6,919.5"/>
<polyline points="108.5,956.7 177.5,984.6 246.6,937.1 315.6,948.2"/>
<polyline points="108.5,956.7 177.5,983.2 246.6,947.4 315.6,935.8"/>
<polyline points="108.5,956.7 177.5,970.0 246.6,954.7 315.6,913.8"/>
<polyline points="108.5,956.7 177.5,940.6 246.6,931.7 315.6,936.7"/>
<polyline points="108.5,956.7 177.5,982.4 246.6,957.8 315.6,958.5"/>
<polyline points="108.5,956.7 177.5,958.5 246.6,924.9 315.6,914.8"/>
<polyline points="108.5,956.7 177.5,962.9 246.6,949.5 315.6,930.7"/>
<polyline points="108.5,956.7 177.5,960.1 246.6,930.9 315.6,902.6"/>
<polyline points="108.5,956.7 177.5,975.4 246.6,902.5 315.6,967.4"/>
<polyline points="108.5,956.7 177.5,981.9 246.6,946.6 315.6,889.8"/>
<polyline points="108.5,956.7 177.5,975.7 246.6,921.3 315.6,942.4"/>
<polyline points="108.5,956.7 177.5,959.6 246.6,961.6 315.6,885.3"/>
<polyline points="108.5,956.7 177.5,963.2 246.6,953.9 315.6,885.3"/>
<polyline points="108.5,956.7 177.5,959.0 246.6,934.3 315.6,937.7"/>
<polyline points="108.5,956.7 177.5,978.2 246.6,945.5 315.6,899.5"/>
<polyline points="108.5,956.7 177.5,954.5 246.6,945.5 315.6,911.6"/>
<polyline points="108.5,956.7 177.5,980.1 246.6,916.1 315.6,934.9"/>
<polyline points="108.5,956.7 177.5,978.2 246.6,929.3 315.6,923.4"/>
<polyline points="108.5,956.7 177.5,969.0 246.6,938.1 315.6,913.3"/>
<polyline points="108.5,956.7 177.5,935.8 246.6,958.3 315.6,890.2"/>
<polyline points="108.5,956.7 177.5,967.4 246.6,950.1 315.6,925.2"/>
<polyline points="108.5,956.7 177.5,970.5 246.6,922.4 315.6,961.5"/>
<polyline points="108.5,956.7 177.5,966.3 246.6,966.0 315.6,901.5"/>
<polyline points="108.5,956.7 177.5,967.1 246.6,921.4 315.6,904.5"/>
<polyline points="108.5,956.7 177.5,985.1 246.6,946.4 315.6,919.0"/>
<polyline points="108.5,956.7 177.5,961.5 246.6,944.8 315.6,916.3"/>
<polyline points="108.5,956.7 177.5,945.1 246.6,953.4 315.6,937.5"/>
<polyline points="108.5,956.7 177.5,950.2 246.6,938.2 315.6,931.5"/>
<polyline points="108.5,956.7 177.5,983.7 246.6,908.9 315.6,939.5"/>
<polyline points="108.5,956.7 177.5,957.4 246.6,942.9 315.6,933.1"/>
<polyline points="108.5,956.7 177.5,959.6 246.6,958.1 315.6,926.3"/>
<polyline points="108.5,956.7 177.5,939.6 246.6,934.6 315.6,918.8"/>
<polyline points="108.5,956.7 177.5,953.2 246.6,941.6 315.6,895.2"/>
<polyline points="108.5,956.7 177.5,975.4 246.6,934.9 315.6,912.2"/>
<polyline points="108.5,956.7 177.5,956.9 246.6,962.2 315.6,958.1"/>
<polyline points="108.5,956.7 177.5,932.8 246.6,960.4 315.6,934.4"/>
<polyline points="108.5,956.7 177.5,952.1 246.6,940.4 315.6,936.8"/>
<polyline points="108.5,956.7 177.5,977.1 246.6,947.2 315.6,932.6"/>
<polyline points="108.5,956.7 177.5,959.3 246.6,967.6 315.6,971.1"/>
<polyline points="108.5,956.7 177.5,944.6 246.6,954.2 315.6,960.0"/>
<polyline points="108.5,956.7 177.5,1000.4 246.6,932.0 315.6,961.9"/>
<polyline points="108.5,956.7 177.5,982.3 246.6,930.4 315.6,927.9"/>
<polyline points="108.5,956.7 177.5,951.7 246.6,966.3 315.6,956.0"/>
<polyline points="108.5,956.7 177.5,968.2 246.6,954.8 315.6,915.2"/>
<polyline points="108.5,956.7 177.5,955.6 246.6,962.1 315.6,922.2"/>
<polyline points="108.5,956.7 177.5,965.3 246.6,951.4 315.6,910.1"/>
<polyline points="108.5,956.7 177.5,994.2 246.6,922.6 315.6,910.8"/>
<polyline points="108.5,956.7 177.5,1001.6 246.6,945.8 315.6,938.1"/>
<polyline points="108.5,956.7 177.5,984.0 246.6,953.1 315.6,952.2"/>
<polyline points="108.5,956.7 177.5,961.2 246.6,952.8 315.6,908.5"/>
<polyline points="108.5,956.7 177.5,945.4 246.6,958.1 315.6,915.5"/>
<polyline points="108.5,956.7 177.5,992.1 246.6,950.0 315.6,945.9"/>
<polyline points="108.5,956.7 177.5,951.8 246.6,948.0 315.6,965.1"/>
<polyline points="108.5,956.7 177.5,938.4 246.6,948.4 315.6,918.6"/>
<polyline points="108.5,956.7 177.5,976.7 246.6,950.1 315.6,914.6"/>
<polyline points="108.5,956.7 177.5,964.5 246.6,932.2 315.6,934.6"/>
<polyline points="108.5,956.7 177.5,950.3 246.6,935.6 315.6,931.8"/>
<polyline points="108.5,956.7 177.5,955.0 246.6,947.4 315.6,918.3"/>
<polyline points="108.5,956.7 177.5,985.4 246.6,941.4 315.6,936.6"/>
<polyline points="108.5,956.7 177.5,972.2 246.6,894.4 315.6,918.9"/>
<polyline points="108.5,956.7 177.5,956.1 246.6,957.2 315.6,932.7"/>
<polyline points="108.5,956.7 177.5,968.1 246.6,943.9 315.6,929.7"/>
<polyline points="108.5,956.7 177.5,936.8 246.6,909.5 315.6,904.5"/>
<polyline points="108.5,956.7 177.5,975.0 246.6,966.8 315.6,930.0"/>
<polyline points="108.5,956.7 177.5,957.4 246.6,941.5 315.6,948.1"/>
<polyline points="108.5,956.7 177.5,949.3 246.6,909.1 315.6,929.7"/>
<polyline points="108.5,956.7 177.5,966.7 246.6,919.2 315.6,941.2"/>
<polyline points="108.5,956.7 177.5,969.2 246.6,936.1 315.6,893.2"/>
<polyline points="108.5,956.7 177.5,964.4 246.6,932.2 315.6,927.6"/>
<polyline points="108.5,956.7 177.5,954.6 246.6,908.2 315.6,921.9"/>
<polyline points="108.5,956.7 177.5,956.6 246.6,966.4 315.6,918.2"/>
<polyline points="108.5,956.7 177.5,964.3 246.6,905.0 315.6,968.5"/>
<polyline points="108.5,956.7 177.5,959.6 246.6,943.7 315.6,930.4"/>
<polyline points="108.5,956.7 177.5,980.4 246.6,915.9 315.6,928.9"/>
<polyline points="108.5,956.7 177.5,986.8 246.6,965.4 315.6,928.5"/>
<polyline points="108.5,956.7 177.5,984.6 246.6,933.8 315.6,927.3"/>
<polyline points="108.5,956.7 177.5,973.5 246.6,967.1 315.6,926.6"/>
<polyline points="108.5,956.7 177.5,972.3 246.6,906.5 315.6,944.1"/>
<polyline points="108.5,956.7 177.5,955.0 246.6,929.1 315.6,932.4"/>
<polyline points="108.5,956.7 177.5,956.4 246.6,922.7 315.6,937.6"/>
<polyline points="108.5,956.7 177.5,955.9 246.6,949.0 315.6,890.5"/>
<polyline points="108.5,956.7 177.5,959.1 246.6,926.1 315.6,945.1"/>
<polyline points="108.5,956.7 177.5,983.9 246.6,941.4 315.6,944.1"/>
<polyline points="108.5,956.7 177.5,982.4 246.6,947.4 315.6,916.6"/>
<polyline points="108.5,956.7 177.5,941.8 246.6,952.3 315.6,911.2"/>
<polyline points="108.5,956.7 177.5,974.2 246.6,930.2 315.6,953.2"/>
<polyline points="108.5,956.7 177.5,942.3 246.6,897.6 315.6,940.8"/>
<polyline points="108.5,956.7 177.5,938.9 246.6,954.2 315.6,935.9"/>
<polyline points="108.5,956.7 177.5,952.7 246.6,942.4 315.6,951.6"/>
<polyline points="108.5,956.7 177.5,939.3 246.6,952.3 315.6,958.4"/>
<polyline points="108.5,956.7 177.5,956.1 246.6,949.9 315.6,907.8"/>
<polyline points="108.5,956.7 177.5,964.4 246.6,967.0 315.6,923.7"/>
<polyline points="108.5,956.7 177.5,944.2 246.6,933.7 315.6,912.7"/>
<polyline points="108.5,956.7 177.5,989.6 246.6,907.2 315.6,918.9"/>
<polyline points="108.5,956.7 177.5,1002.7 246.6,906.2 315.6,944.7"/>
<polyline points="108.5,956.7 177.5,952.6 246.6,954.2 315.6,916.1"/>
<polyline points="108.5,956.7 177.5,966.8 246.6,959.8 315.6,942.7"/>
<polyline points="108.5,956.7 177.5,940.9 246.6,957.1 315.6,922.0"/>
<polyline points="108.5,956.7 177.5,985.1 246.6,951.5 315.6,940.8"/>
<polyline points="108.5,956.7 177.5,959.0 246.6,924.1 315.6,943.6"/>
<polyline points="108.5,956.7 177.5,969.4 246.6,927.5 315.6,925.1"/>
<polyline points="108.5,956.7 177.5,963.4 246.6,937.6 315.6,946.5"/>
<polyline points="108.5,956.7 177.5,993.0 246.6,948.9 315.6,914.8"/>
<polyline points="108.5,956.7 177.5,994.6 246.6,924.6 315.6,946.8"/>
<polyline points="108.5,956.7 177.5,966.4 246.6,951.1 315.6,919.0"/>
<polyline points="108.5,956.7 177.5,975.2 246.6,936.0 315.6,937.8"/>
<polyline points="108.5,956.7 177.5,950.3 246.6,930.7 315.6,961.0"/>
<polyline points="108.5,956.7 177.5,958.5 246.6,939.9 315.6,936.1"/>
<polyline points="108.5,956.7 177.5,960.6 246.6,936.2 315.6,946.7"/>
<polyline points="108.5,956.7 177.5,965.3 246.6,923.4 315.6,957.8"/>
<polyline points="108.5,956.7 177.5,963.9 246.6,961.6 315.6,957.8"/>
<polyline points="108.5,956.7 177.5,970.4 246.6,938.8 315.6,901.3"/>
<polyline points="108.5,956.7 177.5,966.3 246.6,924.3 315.6,922.7"/>
<polyline points="108.5,956.7 177.5,961.1 246.6,939.8 315.6,933.3"/>
<polyline points="108.5,956.7 177.5,982.3 246.6,939.7 315.6,902.3"/>
<polyline points="108.5,956.7 177.5,984.5 246.6,952.0 315.6,914.7"/>
<polyline points="108.5,956.7 177.5,996.9 246.6,962.0 315.6,928.1"/>
<polyline points="108.5,956.7 177.5,944.2 246.6,918.9 315.6,918.0"/>
<polyline points="108.5,956.7 177.5,955.0 246.6,966.9 315.6,938.8"/>
<polyline points="108.5,956.7 177.5,950.5 246.6,935.1 315.6,926.1"/>
<polyline points="108.5,956.7 177.5,977.6 246.6,946.0 315.6,902.5"/>
<polyline points="108.5,956.7 177.5,965.6 246.6,954.9 315.6,937.2"/>
<polyline points="108.5,956.7 177.5,974.8 246.6,903.0 315.6,916.5"/>
<polyline points="108.5,956.7 177.5,945.0 246.6,955.3 315.6,948.6"/>
<polyline points="108.5,956.7 177.5,957.5 246.6,922.6 315.6,962.5"/>
<polyline points="108.5,956.7 177.5,960.5 246.6,935.8 315.6,951.8"/>
<polyline points="108.5,956.7 177.5,955.7 246.6,928.8 315.6,893.0"/>
<polyline points="108.5,956.7 177.5,954.9 246.6,907.4 315.6,924.3"/>
<polyline points="108.5,956.7 177.5,966.1 246.6,925.7 315.6,945.9"/>
<polyline points="108.5,956.7 177.5,959.5 246.6,930.3 315.6,909.5"/>
<polyline points="108.5,956.7 177.5,957.2 246.6,917.4 315.6,930.8"/>
<polyline points="108.5,956.7 177.5,968.1 246.6,957.7 315.6,921.9"/>
<polyline points="108.5,956.7 177.5,956.1 246.6,929.1 315.6,937.4"/>
<polyline points="108.5,956.7 177.5,933.1 246.6,947.2 315.6,925.6"/>
<polyline points="108.5,956.7 177.5,958.6 246.6,921.9 315.6,949.6"/>
<polyline points="108.5,956.7 177.5,968.1 246.6,946.4 315.6,949.0"/>
<polyline points="108.5,956.7 177.5,975.0 246.6,965.3 315.6,918.1"/>
<polyline points="108.5,956.7 177.5,933.9 246.6,961.0 315.6,917.7"/>
<polyline points="108.5,956.7 177.5,984.4 246.6,957.7 315.6,941.5"/>
<polyline points="108.5,956.7 177.5,960.1 246.6,933.5 315.6,963.3"/>
<polyline points="108.5,956.7 177.5,960.9 246.6,946.9 315.6,888.0"/>
<polyline points="108.5,956.7 177.5,967.8 246.6,954.7 315.6,908.2"/>
<polyline points="108.5,956.7 177.5,998.2 246.6,954.2 315.6,933.1"/>
<polyline points="108.5,956.7 177.5,966.0 246.6,959.2 315.6,937.8"/>
<polyline points="108.5,956.7 177.5,987.6 246.6,923.9 315.6,917.8"/>
<polyline points="108.5,956.7 177.5,949.5 246.6,959.8 315.6,945.2"/>
<polyline points="108.5,956.7 177.5,983.5 246.6,934.9 315.6,969.9"/>
<polyline points="108.5,956.7 177.5,980.2 246.6,939.7 315.6,925.3"/>
<polyline points="108.5,956.7 177.5,960.7 246.6,966.4 315.6,949.6"/>
<polyline points="108.5,956.7 177.5,944.5 246.6,958.1 315.6,893.1"/>
<polyline points="108.5,956.7 177.5,965.1 246.6,942.4 315.6,952.7"/>
<polyline points="108.5,956.7 177.5,933.7 246.6,940.2 315.6,936.4"/>
<polyline points="108.5,956.7 177.5,980.2 246.6,966.8 315.6,930.8"/>
<polyline points="108.5,956.7 177.5,962.4 246.6,912.6 315.6,954.5"/>
<polyline points="108.5,956.7 177.5,969.7 246.6,923.4 315.6,916.9"/>
<polyline points="108.5,956.7 177.5,975.5 246.6,914.3 315.6,924.3"/>
<polyline points="108.5,956.7 177.5,945.5 246.6,935.7 315.6,913.4"/>
<polyline points="108.5,956.7 177.5,970.5 246.6,946.4 315.6,910.9"/>
<polyline points="108.5,956.7 177.5,955.0 246.6,935.4 315.6,909.8"/>
<polyline points="108.5,956.7 177.5,958.1 246.6,934.5 315.6,946.1"/>
<polyline points="108.5,956.7 177.5,946.8 246.6,959.2 315.6,941.0"/>
<polyline points="108.5,956.7 177.5,958.2 246.6,944.9 315.6,915.8"/>
<polyline points="108.5,956.7 177.5,953.5 246.6,945.6 315.6,911.0"/>
<polyline points="108.5,956.7 177.5,969.4 246.6,955.9 315.6,927.7"/>
<polyline points="108.5,956.7 177.5,950.5 246.6,945.1 315.6,958.1"/>
<polyline points="108.5,956.7 177.5,972.4 246.6,938.0 315.6,919.8"/>
<polyline points="108.5,956.7 177.5,928.7 246.6,945.3 315.6,939.5"/>
<polyline points="108.5,956.7 177.5,1003.6 246.6,917.9 315.6,914.7"/>
<polyline points="108.5,956.7 177.5,962.4 246.6,955.9 315.6,918.8"/>
<polyline points="108.5,956.7 177.5,977.5 246.6,913.5 315.6,918.1"/>
<polyline points="108.5,956.7 177.5,938.0 246.6,945.0 315.6,908.7"/>
<polyline points="108.5,956.7 177.5,989.4 246.6,914.4 315.6,935.4"/>
<polyline points="108.5,956.7 177.5,985.1 246.6,950.0 315.6,955.9"/>
<polyline points="108.5,956.7 177.5,957.5 246.6,956.1 315.6,962.5"/>
<polyline points="108.5,956.7 177.5,969.4 246.6,946.7 315.6,930.2"/>
<polyline points="108.5,956.7 177.5,949.2 246.6,918.2 315.6,925.7"/>
<polyline points="108.5,956.7 177.5,931.1 246.6,943.7 315.6,914.2"/>
<polyline points="108.5,956.7 177.5,987.7 246.6,946.2 315.6,929.9"/>
<polyline points="108.5,956.7 177.5,992.1 246.6,953.2 315.6,921.6"/>
<polyline points="108.5,956.7 177.5,968.6 246.6,913.0 315.6,883.0"/>
<polyline points="108.5,956.7 177.5,963.9 246.6,964.2 315.6,935.4"/>
<polyline points="108.5,956.7 177.5,973.3 246.6,950.0 315.6,944.9"/>
<polyline points="108.5,956.7 177.5,969.3 246.6,924.7 315.6,911.3"/>
<polyline points="108.5,956.7 177.5,954.6 246.6,949.1 315.6,925.5"/>
<polyline points="108.5,956.7 177.5,962.1 246.6,938.0 315.6,955.8"/>
<polyline points="108.5,956.7 177.5,945.6 246.6,953.7 315.6,945.5"/>
<polyline points="108.5,956.7 177.5,962.8 246.6,943.4 315.6,941.2"/>
<polyline points="108.5,956.7 177.5,933.4 246.6,939.8 315.6,929.6"/>
<polyline points="108.5,956.7 177.5,979.4 246.6,944.2 315.6,924.6"/>
<polyline points="108.5,956.7 177.5,964.0 246.6,936.1 315.6,955.1"/>
<polyline points="108.5,956.7 177.5,955.4 246.6,961.7 315.6,944.2"/>
<polyline points="108.5,956.7 177.5,977.2 246.6,938.9 315.6,910.8"/>
<polyline points="108.5,956.7 177.5,957.0 246.6,959.0 315.6,931.7"/>
<polyline points="108.5,956.7 177.5,942.7 246.6,928.5 315.6,923.7"/>
<polyline points="108.5,956.7 177.5,984.0 246.6,952.8 315.6,949.4"/>
<polyline points="108.5,956.7 177.5,971.6 246.6,937.8 315.6,933.8"/>
<polyline points="108.5,956.7 177.5,969.2 246.6,931.5 315.6,950.1"/>
<polyline points="108.5,956.7 177.5,968.8 246.6,940.3 315.6,964.1"/>
<polyline points="108.5,956.7 177.5,978.8 246.6,962.2 315.6,937.7"/>
<polyline points="108.5,956.7 177.5,964.9 246.6,935.8 315.6,927.4"/>
<polyline points="108.5,956.7 177.5,984.1 246.6,906.8 315.6,905.2"/>
<polyline points="108.5,956.7 177.5,985.7 246.6,955.4 315.6,945.1"/>
<polyline points="108.5,956.7 177.5,958.7 246.6,930.6 315.6,934.6"/>
<polyline points="108.5,956.7 177.5,946.2 246.6,926.6 315.6,950.9"/>
<polyline points="108.5,956.7 177.5,960.6 246.6,924.6 315.6,944.9"/>
<polyline points="108.5,956.7 177.5,940.8 246.6,940.6 315.6,900.2"/>
<polyline points="108.5,956.7 177.5,961.6 246.6,913.9 315.6,969.4"/>
<polyline points="108.5,956.7 177.5,935.0 246.6,933.7 315.6,942.9"/>
<polyline points="108.5,956.7 177.5,942.1 246.6,947.3 315.6,916.8"/>
<polyline points="108.5,956.7 177.5,944.4 246.6,922.3 315.6,886.6"/>
<polyline points="108.5,956.7 177.5,936.3 246.6,894.7 315.6,919.2"/>
<polyline points="108.5,956.7 177.5,959.6 246.6,934.7 315.6,935.4"/>
<polyline points="108.5,956.7 177.5,986.0 246.6,939.5 315.6,960.4"/>
<polyline points="108.5,956.7 177.5,967.9 246.6,948.0 315.6,946.6"/>
<polyline points="108.5,956.7 177.5,982.8 246.6,940.1 315.6,935.1"/>
<polyline points="108.5,956.7 177.5,936.3 246.6,930.2 315.6,914.1"/>
<polyline points="108.5,956.7 177.5,971.4 246.6,948.2 315.6,961.8"/>
<polyline points="108.5,956.7 177.5,979.0 246.6,928.6 315.6,938.8"/>
<polyline points="108.5,956.7 177.5,965.2 246.6,952.9 315.6,900.9"/>
<polyline points="108.5,956.7 177.5,963.5 246.6,920.6 315.6,935.4"/>
<polyline points="108.5,956.7 177.5,944.4 246.6,960.7 315.6,963.8"/>
<polyline points="108.5,956.7 177.5,941.4 246.6,948.0 315.6,928.7"/>
<polyline points="108.5,956.7 177.5,945.8 246.6,929.0 315.6,928.7"/>
<polyline points="108.5,956.7 177.5,985.1 246.6,955.5 315.6,933.8"/>
<polyline points="108.5,956.7 177.5,950.3 246.6,932.4 315.6,926.6"/>
<polyline points="108.5,956.7 177.5,977.1 246.6,942.3 315.6,913.5"/>
<polyline points="108.5,956.7 177.5,978.9 246.6,953.1 315.6,914.9"/>
<polyline points="108.5,956.7 177.5,932.3 246.6,934.5 315.6,934.4"/>
<polyline points="108.5,956.7 177.5,980.6 246.6,944.5 315.6,951.8"/>
<polyline points="108.5,956.7 177.5,959.8 246.6,928.7 315.6,924.7"/>
<polyline points="108.5,956.7 177.5,937.8 246.6,961.6 315.6,962.0"/>
<polyline points="108.5,956.7 177.5,936.5 246.6,922.4 315.6,955.7"/>
<polyline points="108.5,956.7 177.5,959.9 246.6,962.6 315.6,935.0"/>
<polyline points="108.5,956.7 177.5,956.5 246.6,923.9 315.6,955.6"/>
<polyline points="108.5,956.7 177.5,986.5 246.6,931.4 315.6,941.9"/>
<polyline points="108.5,956.7 177.5,935.8 246.6,963.9 315.6,948.6"/>
<polyline points="108.5,956.7 177.5,941.0 246.6,916.9 315.6,925.5"/>
<polyline points="108.5,956.7 177.5,968.2 246.6,952.3 315.6,893.1"/>
<polyline points="108.5,956.7 177.5,945.4 246.6,953.6 315.6,925.2"/>
<polyline points="108.5,956.7 177.5,951.9 246.6,932.6 315.6,954.6"/>
<polyline points="108.5,956.7 177.5,970.7 246.6,923.2 315.6,919.5"/>
<polyline points="108.5,956.7 177.5,968.8 246.6,895.8 315.6,928.4"/>
<polyline points="108.5,956.7 177.5,970.2 246.6,925.0 315.6,916.9"/>
<polyline points="108.5,956.7 177.5,964.8 246.6,907.8 315.6,911.1"/>
<polyline points="108.5,956.7 177.5,961.9 246.6,928.7 315.6,919.9"/>
<polyline points="108.5,956.7 177.5,967.7 246.6,928.2 315.6,946.0"/>
<polyline points="108.5,956.7 177.5,966.8 246.6,929.6 315.6,961.6"/>
<polyline points="108.5,956.7 177.5,968.9 246.6,960.5 315.6,919.0"/>
<polyline points="108.5,956.7 177.5,973.3 246.6,907.4 315.6,901.1"/>
<polyline points="108.5,956.7 177.5,975.4 246.6,939.1 315.6,942.1"/>
<polyline points="108.5,956.7 177.5,962.5 246.6,929.3 315.6,902.2"/>
<polyline points="108.5,956.7 177.5,927.3 246.6,966.0 315.6,944.7"/>
<polyline points="108.5,956.7 177.5,965.8 246.6,948.0 315.6,931.3"/>
<polyline points="108.5,956.7 177.5,950.0 246.6,950.7 315.6,947.1"/>
<polyline points="108.5,956.7 177.5,949.2 246.6,901.0 315.6,946.7"/>
<polyline points="108.5,956.7 177.5,936.2 246.6,910.1 315.6,905.5"/>
<polyline points="108.5,956.7 177.5,976.6 246.6,931.7 315.6,951.1"/>
<polyline points="108.5,956.7 177.5,983.6 246.6,942.3 315.6,923.3"/>
<polyline points="108.5,956.7 177.5,966.3 246.6,944.2 315.6,920.7"/>
<polyline points="108.5,956.7 177.5,975.1 246.6,933.9 315.6,917.5"/>
<polyline points="108.5,956.7 177.5,949.8 246.6,931.3 315.6,956.1"/>
<polyline points="108.5,956.7 177.5,967.7 246.6,950.2 315.6,918.9"/>
<polyline points="108.5,956.7 177.5,995.6 246.6,939.4 315.6,969.1"/>
<polyline points="108.5,956.7 177.5,950.0 246.6,951.8 315.6,933.3"/>
<polyline points="108.5,956.7 177.5,944.6 246.6,909.6 315.6,955.8"/>
<polyline points="108.5,956.7 177.5,960.0 246.6,945.8 315.6,949.2"/>
<polyline points="108.5,956.7 177.5,949.6 246.6,944.1 315.6,932.1"/>
<polyline points="108.5,956.7 177.5,983.4 246.6,948.3 315.6,958.5"/>
<polyline points="108.5,956.7 177.5,961.9 246.6,937.0 315.6,910.4"/>
<polyline points="108.5,956.7 177.5,933.6 246.6,916.9 315.6,916.9"/>
<polyline points="108.5,956.7 177.5,932.1 246.6,942.7 315.6,925.7"/>
<polyline points="108.5,956.7 177.5,997.8 246.6,951.5 315.6,909.3"/>
<polyline points="108.5,956.7 177.5,994.8 246.6,935.9 315.6,935.5"/>
<polyline points="108.5,956.7 177.5,969.0 246.6,935.9 315.6,933.8"/>
<polyline points="108.5,956.7 177.5,983.4 246.6,943.5 315.6,901.7"/>
<polyline points="108.5,956.7 177.5,962.6 246.6,925.1 315.6,954.0"/>
<polyline points="108.5,956.7 177.5,927.2 246.6,922.6 315.6,926.8"/>
<polyline points="108.5,956.7 177.5,958.1 246.6,934.7 315.6,950.1"/>
<polyline points="108.5,956.7 177.5,964.9 246.6,946.1 315.6,926.1"/>
<polyline points="108.5,956.7 177.5,933.0 246.6,920.0 315.6,928.4"/>
<polyline points="108.5,956.7 177.5,950.2 246.6,947.3 315.6,944.7"/>
<polyline points="108.5,956.7 177.5,992.8 246.6,966.0 315.6,960.1"/>
<polyline points="108.5,956.7 177.5,963.5 246.6,945.3 315.6,924.8"/>
<polyline points="108.5,956.7 177.5,940.3 246.6,929.1 315.6,937.4"/>
<polyline points="108.5,956.7 177.5,971.0 246.6,947.4 315.6,921.0"/>
<polyline points="108.5,956.7 177.5,979.5 246.6,946.1 315.6,911.4"/>
<polyline points="108.5,956.7 177.5,939.0 246.6,930.5 315.6,937.7"/>
<polyline points="108.5,956.7 177.5,948.7 246.6,921.3 315.6,894.2"/>
<polyline points="108.5,956.7 177.5,980.0 246.6,935.0 315.6,968.1"/>
<polyline points="108.5,956.7 177.5,966.2 246.6,949.4 315.6,916.5"/>
<polyline points="108.5,956.7 177.5,959.1 246.6,944.3 315.6,926.3"/>
<polyline points="108.5,956.7 177.5,934.6 246.6,955.7 315.6,953.0"/>
<polyline points="108.5,956.7 177.5,973.3 246.6,922.6 315.6,940.5"/>
<polyline points="108.5,956.7 177.5,960.6 246.6,933.6 315.6,952.1"/>
<polyline points="108.5,956.7 177.5,941.6 246.6,907.3 315.6,948.8"/>
<polyline points="108.5,956.7 177.5,979.6 246.6,956.1 315.6,959.6"/>
<polyline points="108.5,956.7 177.5,979.0 246.6,957.3 315.6,959.7"/>
<polyline points="108.5,956.7 177.5,965.7 246.6,936.1 315.6,947.0"/>
<polyline points="108.5,956.7 177.5,958.9 246.6,957.9 315.6,929.6"/>
<polyline points="108.5,956.7 177.5,968.5 246.6,962.8 315.6,932.3"/>
<polyline points="108.5,956.7 177.5,965.5 246.6,954.7 315.6,935.5"/>
<polyline points="108.5,956.7 177.5,952.2 246.6,965.5 315.6,945.3"/>
<polyline points="108.5,956.7 177.5,950.5 246.6,942.2 315.6,917.5"/>
<polyline points="108.5,956.7 177.5,986.2 246.6,935.3 315.6,942.5"/>
<polyline points="108.5,956.7 177.5,935.2 246.6,931.2 315.6,964.7"/>
<polyline points="108.5,956.7 177.5,941.8 246.6,942.0 315.6,941.1"/>
<polyline points="108.5,956.7 177.5,962.0 246.6,938.0 315.6,953.1"/>
<polyline points="108.5,956.7 177.5,969.7 246.6,916.4 315.6,956.6"/>
<polyline points="108.5,956.7 177.5,973.8 246.6,927.5 315.6,955.0"/>
<polyline points="108.5,956.7 177.5,966.3 246.6,936.4 315.6,954.2"/>
<polyline points="108.5,956.7 177.5,968.4 246.6,959.4 315.6,939.2"/>
<polyline points="108.5,956.7 177.5,957.1 246.6,942.0 315.6,929.2"/>
<polyline points="108.5,956.7 177.5,955.3 246.6,927.2 315.6,957.7"/>
<polyline points="108.5,956.7 177.5,960.3 246.6,912.1 315.6,939.7"/>
<polyline points="108.5,956.7 177.5,967.6 246.6,942.1 315.6,950.3"/>
<polyline points="108.5,956.7 177.5,951.9 246.6,942.4 315.6,938.2"/>
<polyline points="108.5,956.7 177.5,948.3 246.6,919.3 315.6,965.3"/>
<polyline points="108.5,956.7 177.5,972.0 246.6,947.4 315.6,965.2"/>
<polyline points="108.5,956.7 177.5,949.5 246.6,901.9 315.6,917.0"/>
<polyline points="108.5,956.7 177.5,938.4 246.6,950.6 315.6,963.3"/>
<polyline points="108.5,956.7 177.5,947.5 246.6,944.6 315.6,938.4"/>
<polyline points="108.5,956.7 177.5,953.2 246.6,927.7 315.6,899.1"/>
<polyline points="108.5,956.7 177.5,936.3 246.6,924.4 315.6,970.2"/>
<polyline points="108.5,956.7 177.5,938.6 246.6,940.4 315.6,967.8"/>
<polyline points="108.5,956.7 177.5,959.3 246.6,946.9 315.6,936.6"/>
<polyline points="108.5,956.7 177.5,944.2 246.6,930.0 315.6,908.5"/>
<polyline points="108.5,956.7 177.5,984.1 246.6,915.6 315.6,949.2"/>
<polyline points="108.5,956.7 177.5,976.6 246.6,924.3 315.6,934.9"/>
<polyline points="108.5,956.7 177.5,997.6 246.6,954.5 315.6,919.6"/>
<polyline points="108.5,956.7 177.5,972.8 246.6,951.3 315.6,934.3"/>
<polyline points="108.5,956.7 177.5,962.6 246.6,955.3 315.6,954.8"/>
<polyline points="108.5,956.7 177.5,954.0 246.6,918.8 315.6,925.5"/>
<polyline points="108.5,956.7 177.5,943.4 246.6,959.1 315.6,903.2"/>
<polyline points="108.5,956.7 177.5,991.2 246.6,924.0 315.6,899.2"/>
<polyline points="108.5,956.7 177.5,933.1 246.6,941.0 315.6,956.3"/>
<polyline points="108.5,956.7 177.5,954.9 246.6,915.4 315.6,925.5"/>
<polyline points="108.5,956.7 177.5,931.2 246.6,958.3 315.6,946.1"/>
<polyline points="108.5,956.7 177.5,949.7 246.6,918.9 315.6,952.8"/>
<polyline points="108.5,956.7 177.5,980.2 246.6,925.2 315.6,963.4"/>
<polyline points="108.5,956.7 177.5,951.6 246.6,957.8 315.6,936.4"/>
<polyline points="108.5,956.7 177.5,967.5 246.6,941.4 315.6,952.2"/>
<polyline points="108.5,956.7 177.5,951.8 246.6,913.1 315.6,920.6"/>
<polyline points="108.5,956.7 177.5,987.5 246.6,935.3 315.6,900.5"/>
<polyline points="108.5,956.7 177.5,980.8 246.6,944.9 315.6,954.8"/>
<polyline points="108.5,956.7 177.5,973.5 246.6,961.2 315.6,963.9"/>
<polyline points="108.5,956.7 177.5,953.2 246.6,943.2 315.6,957.3"/>
<polyline points="108.5,956.7 177.5,976.3 246.6,963.2 315.6,931.2"/>
<polyline points="108.5,956.7 177.5,966.3 246.6,935.1 315.6,964.0"/>
<polyline points="108.5,956.7 177.5,976.7 246.6,950.5 315.6,942.8"/>
<polyline points="108.5,956.7 177.5,969.2 246.6,956.8 315.6,937.2"/>
<polyline points="108.5,956.7 177.5,931.0 246.6,956.6 315.6,970.7"/>
<polyline points="108.5,956.7 177.5,957.0 246.6,959.7 315.6,916.9"/>
<polyline points="108.5,956.7 177.5,942.5 246.6,910.1 315.6,931.3"/>
<polyline points="108.5,956.7 177.5,994.7 246.6,911.5 315.6,914.3"/>
<polyline points="108.5,956.7 177.5,937.8 246.6,940.3 315.6,942.2"/>
<polyline points="108.5,956.7 177.5,961.9 246.6,923.3 315.6,948.1"/>
<polyline points="108.5,956.7 177.5,974.2 246.6,935.1 315.6,953.4"/>
<polyline points="108.5,956.7 177.5,947.0 246.6,953.9 315.6,882.9"/>
<polyline points="108.5,956.7 177.5,938.5 246.6,929.0 315.6,927.3"/>
<polyline points="108.5,956.7 177.5,961.2 246.6,951.6 315.6,946.4"/>
<polyline points="108.5,956.7 177.5,977.4 246.6,951.7 315.6,932.5"/>
<polyline points="108.5,956.7 177.5,998.2 246.6,965.8 315.6,949.2"/>
<polyline points="108.5,956.7 177.5,971.0 246.6,924.6 315.6,937.5"/>
<polyline points="108.5,956.7 177.5,949.8 246.6,942.1 315.6,928.5"/>
<polyline points="108.5,956.7 177.5,928.9 246.6,938.6 315.6,921.9"/>
<polyline points="108.5,956.7 177.5,961.3 246.6,953.8 315.6,910.7"/>
<polyline points="108.5,956.7 177.5,965.4 246.6,913.7 315.6,958.6"/>
<polyline points="108.5,956.7 177.5,953.5 246.6,909.8 315.6,947.9"/>
<polyline points="108.5,956.7 177.5,955.5 246.6,913.6 315.6,924.8"/>
<polyline points="108.5,956.7 177.5,977.5 246.6,948.3 315.6,927.3"/>
<polyline points="108.5,956.7 177.5,973.4 246.6,949.9 315.6,931.4"/>
<polyline points="108.5,956.7 177.5,985.9 246.6,910.1 315.6,947.2"/>
<polyline points="108.5,956.7 177.5,962.4 246.6,939.9 315.6,903.2"/>
<polyline points="108.5,956.7 177.5,969.4 246.6,902.8 315.6,893.6"/>
<polyline points="108.5,956.7 177.5,948.1 246.6,966.9 315.6,939.6"/>
<polyline points="108.5,956.7 177.5,956.7 246.6,929.6 315.6,907.4"/>
<polyline points="108.5,956.7 177.5,953.3 246.6,940.7 315.6,925.5"/>
<polyline points="108.5,956.7 177.5,1000.9 246.6,919.6 315.6,967.3"/>
<polyline points="108.5,956.7 177.5,999.2 246.6,955.4 315.6,943.6"/>
<polyline points="108.5,956.7 177.5,985.6 246.6,946.0 315.6,932.4"/>
<polyline points="108.5,956.7 177.5,950.2 246.6,934.5 315.6,945.3"/>
<polyline points="108.5,956.7 177.5,960.1 246.6,917.5 315.6,939.8"/>
<polyline points="108.5,956.7 177.5,964.9 246.6,936.3 315.6,889.4"/>
<polyline points="108.5,956.7 177.5,947.9 246.6,946.1 315.6,906.9"/>
<polyline points="108.5,956.7 177.5,938.1 246.6,915.8 315.6,959.6"/>
<polyline points="108.5,956.7 177.5,984.2 246.6,928.0 315.6,922.5"/>
<polyline points="108.5,956.7 177.5,953.3 246.6,926.8 315.6,891.9"/>
<polyline points="108.5,956.7 177.5,939.2 246.6,932.8 315.6,931.2"/>
<polyline points="108.5,956.7 177.5,927.2 246.6,922.5 315.6,967.8"/>
<polyline points="108.5,956.7 177.5,956.9 246.6,951.7 315.6,894.6"/>
<polyline points="108.5,956.7 177.5,931.7 246.6,917.1 315.6,941.1"/>
<polyline points="108.5,956.7 177.5,966.2 246.6,926.6 315.6,941.4"/>
<polyline points="108.5,956.7 177.5,949.0 246.6,936.0 315.6,917.0"/>
<polyline points="108.5,956.7 177.5,959.8 246.6,956.5 315.6,963.7"/>
<polyline points="108.5,956.7 177.5,990.0 246.6,928.9 315.6,965.7"/>
<polyline points="108.5,956.7 177.5,973.3 246.6,932.5 315.6,919.2"/>
<polyline points="108.5,956.7 177.5,942.4 246.6,933.3 315.6,900.1"/>
<polyline points="108.5,956.7 177.5,973.2 246.6,919.4 315.6,964.0"/>
<polyline points="108.5,956.7 177.5,970.2 246.6,933.9 315.6,920.6"/>
<polyline points="108.5,956.7 177.5,967.4 246.6,954.5 315.6,961.4"/>
<polyline points="108.5,956.7 177.5,999.9 246.6,910.8 315.6,969.1"/>
<polyline points="108.5,956.7 177.5,994.0 246.6,947.5 315.6,940.5"/>
<polyline points="108.5,956.7 177.5,973.9 246.6,967.3 315.6,937.8"/>
<polyline points="108.5,956.7 177.5,989.8 246.6,935.8 315.6,901.8"/>
<polyline points="108.5,956.7 177.5,980.9 246.6,938.1 315.6,945.8"/>
<polyline points="108.5,956.7 177.5,970.2 246.6,940.9 315.6,935.1"/>
<polyline points="108.5,956.7 177.5,938.0 246.6,896.1 315.6,958.4"/>
<polyline points="108.5,956.7 177.5,940.9 246.6,958.4 315.6,946.6"/>
<polyline points="108.5,956.7 177.5,985.2 246.6,932.9 315.6,907.6"/>
<polyline points="108.5,956.7 177.5,964.6 246.6,938.1 315.6,952.6"/>
<polyline points="108.5,956.7 177.5,968.7 246.6,967.5 315.6,936.4"/>
<polyline points="108.5,956.7 177.5,1001.8 246.6,898.3 315.6,907.1"/>
<polyline points="108.5,956.7 177.5,973.9 246.6,951.7 315.6,944.2"/>
<polyline points="108.5,956.7 177.5,960.5 246.6,937.9 315.6,893.1"/>
<polyline points="108.5,956.7 177.5,971.7 246.6,937.4 315.6,925.6"/>
<polyline points="108.5,956.7 177.5,978.7 246.6,926.8 315.6,939.0"/>
<polyline points="108.5,956.7 177.5,978.1 246.6,944.2 315.6,963.4"/>
<polyline points="108.5,956.7 177.5,970.6 246.6,909.5 315.6,908.3"/>
<polyline points="108.5,956.7 177.5,951.0 246.6,940.1 315.6,928.6"/>
<polyline points="108.5,956.7 177.5,985.4 246.6,939.1 315.6,950.7"/>
<polyline points="108.5,956.7 177.5,974.5 246.6,911.9 315.6,951.0"/>
<polyline points="108.5,956.7 177.5,961.4 246.6,940.7 315.6,912.7"/>
<polyline points="108.5,956.7 177.5,967.3 246.6,932.7 315.6,926.2"/>
<polyline points="108.5,956.7 177.5,966.1 246.6,953.6 315.6,957.5"/>
<polyline points="108.5,956.7 177.5,906.1 246.6,877.4 315.6,864.3"/>
<polyline points="108.5,956.7 177.5,919.5 246.6,896.5 315.6,874.7"/>
<polyline points="108.5,956.7 177.5,921.1 246.6,888.3 315.6,877.4"/>
<polyline points="108.5,956.7 177.5,932.1 246.6,840.5 315.6,900.6"/>
<polyline points="108.5,956.7 177.5,923.9 246.6,877.4 315.6,867.8"/>
<polyline points="108.5,956.7 177.5,943.0 246.6,878.8 315.6,882.9"/>
<polyline points="108.5,956.7 177.5,934.8 246.6,891.1 315.6,871.9"/>
<polyline points="108.5,956.7 177.5,929.4 246.6,882.9 315.6,880.1"/>
<polyline points="108.5,956.7 177.5,940.3 246.6,885.6 315.6,893.8"/>
<polyline points="108.5,956.7 177.5,926.6 246.6,881.5 315.6,874.7"/>
<polyline points="108.5,956.7 177.5,948.5 246.6,888.3 315.6,885.6"/>
<polyline points="108.5,956.7 177.5,932.1 246.6,902.0 315.6,869.2"/>
<polyline points="108.5,956.7 177.5,937.6 246.6,896.5 315.6,876.0"/>
<polyline points="108.5,956.7 177.5,923.9 246.6,891.1 315.6,882.9"/>
<polyline points="108.5,956.7 177.5,1014.1 246.6,967.6 315.6,970.4"/>
<polyline points="108.5,956.7 177.5,1008.7 246.6,964.9 315.6,981.3"/>
<polyline points="108.5,956.7 177.5,1005.9 246.6,962.2 315.6,978.6"/>
<polyline points="108.5,956.7 177.5,1011.4 246.6,956.7 315.6,973.1"/>
<polyline points="108.5,956.7 177.5,1000.5 246.6,966.3 315.6,975.8"/>
</g>
<line x1="108.5" y1="956.7" x2="315.59000000000003" y2="956.7" stroke="#e34545" stroke-width="1.5"/>
<polyline points="108.5,956.7 177.5,962.4 246.6,942.2 315.6,934.5" stroke="#3448b0" stroke-width="1.4" fill="none"/>
<rect x="100.5" y="833.8" width="222.7" height="187.5" fill="none" stroke="#222" stroke-width="1.4"/>
<line x1="90.2" y1="1011.4" x2="100.5" y2="1011.4" stroke="#222" stroke-width="1.3"/>
<text transform="translate(81.3,1016.1) scale(1.175,1)" font-size="13" fill="#222" text-anchor="end">-2</text>
<line x1="90.2" y1="984.1" x2="100.5" y2="984.1" stroke="#222" stroke-width="1.3"/>
<text transform="translate(81.3,988.8) scale(1.175,1)" font-size="13" fill="#222" text-anchor="end">-1</text>
<line x1="90.2" y1="956.7" x2="100.5" y2="956.7" stroke="#222" stroke-width="1.3"/>
<text transform="translate(81.3,961.4) scale(1.175,1)" font-size="13" fill="#222" text-anchor="end">0</text>
<line x1="90.2" y1="929.4" x2="100.5" y2="929.4" stroke="#222" stroke-width="1.3"/>
<text transform="translate(81.3,934.1) scale(1.175,1)" font-size="13" fill="#222" text-anchor="end">1</text>
<line x1="90.2" y1="902.0" x2="100.5" y2="902.0" stroke="#222" stroke-width="1.3"/>
<text transform="translate(81.3,906.7) scale(1.175,1)" font-size="13" fill="#222" text-anchor="end">2</text>
<line x1="90.2" y1="874.7" x2="100.5" y2="874.7" stroke="#222" stroke-width="1.3"/>
<text transform="translate(81.3,879.4) scale(1.175,1)" font-size="13" fill="#222" text-anchor="end">3</text>
<line x1="90.2" y1="847.3" x2="100.5" y2="847.3" stroke="#222" stroke-width="1.3"/>
<text transform="translate(81.3,852.0) scale(1.175,1)" font-size="13" fill="#222" text-anchor="end">4</text>
<line x1="108.5" y1="1021.3" x2="108.5" y2="1029.7" stroke="#222" stroke-width="1.3"/>
<text transform="translate(110.7,1049.3) rotate(-90) scale(1,1.175)" font-size="6.1" fill="#222">AAL</text>
<line x1="177.5" y1="1021.3" x2="177.5" y2="1029.7" stroke="#222" stroke-width="1.3"/>
<text transform="translate(179.7,1049.3) rotate(-90) scale(1,1.175)" font-size="6.1" fill="#222">DGL</text>
<line x1="246.6" y1="1021.3" x2="246.6" y2="1029.7" stroke="#222" stroke-width="1.3"/>
<text transform="translate(248.8,1049.3) rotate(-90) scale(1,1.175)" font-size="6.1" fill="#222">AAB</text>
<line x1="315.6" y1="1021.3" x2="315.6" y2="1029.7" stroke="#222" stroke-width="1.3"/>
<text transform="translate(317.8,1049.3) rotate(-90) scale(1,1.175)" font-size="6.1" fill="#222">DGB</text>
<text transform="translate(40.0,927.5) rotate(-90) scale(1,1.1)" font-size="13" fill="#222" text-anchor="middle">log2(ratio)</text>
<text transform="translate(446.3,807.2) scale(1.175,1)" font-size="16" font-weight="bold" fill="#111" stroke="#111" stroke-width="0.25">subcluster_4, 256 genes</text>
<g stroke="#d3d3d3" stroke-width="1.25" fill="none" stroke-linejoin="round">
<polyline points="451.0,882.9 520.0,923.8 589.1,891.6 658.1,950.0"/>
<polyline points="451.0,882.9 520.0,918.4 589.1,882.8 658.1,931.0"/>
<polyline points="451.0,882.9 520.0,940.0 589.1,899.1 658.1,955.3"/>
<polyline points="451.0,882.9 520.0,938.2 589.1,903.8 658.1,935.1"/>
<polyline points="451.0,882.9 520.0,917.2 589.1,890.7 658.1,921.1"/>
<polyline points="451.0,882.9 520.0,952.4 589.1,896.5 658.1,953.5"/>
<polyline points="451.0,882.9 520.0,933.5 589.1,875.7 658.1,944.8"/>
<polyline points="451.0,882.9 520.0,958.6 589.1,894.5 658.1,946.3"/>
<polyline points="451.0,882.9 520.0,945.0 589.1,917.8 658.1,953.6"/>
<polyline points="451.0,882.9 520.0,924.9 589.1,908.4 658.1,938.4"/>
<polyline points="451.0,882.9 520.0,938.5 589.1,915.6 658.1,945.4"/>
<polyline points="451.0,882.9 520.0,905.4 589.1,913.7 658.1,968.5"/>
<polyline points="451.0,882.9 520.0,942.5 589.1,901.4 658.1,958.8"/>
<polyline points="451.0,882.9 520.0,935.3 589.1,891.8 658.1,924.1"/>
<polyline points="451.0,882.9 520.0,922.5 589.1,905.6 658.1,931.1"/>
<polyline points="451.0,882.9 520.0,928.6 589.1,877.4 658.1,959.6"/>
<polyline points="451.0,882.9 520.0,921.6 589.1,887.9 658.1,940.2"/>
<polyline points="451.0,882.9 520.0,934.5 589.1,893.7 658.1,951.7"/>
<polyline points="451.0,882.9 520.0,934.9 589.1,919.7 658.1,951.9"/>
<polyline points="451.0,882.9 520.0,904.4 589.1,893.2 658.1,945.6"/>
<polyline points="451.0,882.9 520.0,912.9 589.1,895.2 658.1,937.1"/>
<polyline points="451.0,882.9 520.0,948.5 589.1,899.0 658.1,920.4"/>
<polyline points="451.0,882.9 520.0,916.0 589.1,881.5 658.1,931.0"/>
<polyline points="451.0,882.9 520.0,950.9 589.1,904.9 658.1,922.0"/>
<polyline points="451.0,882.9 520.0,922.9 589.1,868.4 658.1,947.9"/>
<polyline points="451.0,882.9 520.0,959.9 589.1,876.2 658.1,969.2"/>
<polyline points="451.0,882.9 520.0,946.6 589.1,903.7 658.1,926.2"/>
<polyline points="451.0,882.9 520.0,933.4 589.1,896.8 658.1,981.0"/>
<polyline points="451.0,882.9 520.0,925.7 589.1,898.1 658.1,927.2"/>
<polyline points="451.0,882.9 520.0,921.6 589.1,896.6 658.1,960.2"/>
<polyline points="451.0,882.9 520.0,926.5 589.1,892.1 658.1,917.2"/>
<polyline points="451.0,882.9 520.0,926.6 589.1,898.6 658.1,932.6"/>
<polyline points="451.0,882.9 520.0,914.5 589.1,896.4 658.1,945.5"/>
<polyline points="451.0,882.9 520.0,933.4 589.1,879.1 658.1,933.5"/>
<polyline points="451.0,882.9 520.0,924.2 589.1,883.7 658.1,921.3"/>
<polyline points="451.0,882.9 520.0,921.8 589.1,919.6 658.1,915.1"/>
<polyline points="451.0,882.9 520.0,926.1 589.1,899.4 658.1,917.5"/>
<polyline points="451.0,882.9 520.0,906.7 589.1,895.8 658.1,939.5"/>
<polyline points="451.0,882.9 520.0,914.5 589.1,919.8 658.1,923.5"/>
<polyline points="451.0,882.9 520.0,921.9 589.1,899.7 658.1,925.0"/>
<polyline points="451.0,882.9 520.0,920.4 589.1,896.5 658.1,934.4"/>
<polyline points="451.0,882.9 520.0,904.2 589.1,911.0 658.1,917.8"/>
<polyline points="451.0,882.9 520.0,925.6 589.1,878.0 658.1,958.5"/>
<polyline points="451.0,882.9 520.0,917.2 589.1,930.6 658.1,949.6"/>
<polyline points="451.0,882.9 520.0,924.2 589.1,891.0 658.1,969.2"/>
<polyline points="451.0,882.9 520.0,937.7 589.1,876.7 658.1,930.4"/>
<polyline points="451.0,882.9 520.0,948.4 589.1,891.2 658.1,964.5"/>
<polyline points="451.0,882.9 520.0,939.5 589.1,924.1 658.1,945.6"/>
<polyline points="451.0,882.9 520.0,917.9 589.1,902.4 658.1,950.0"/>
<polyline points="451.0,882.9 520.0,927.1 589.1,905.3 658.1,930.8"/>
<polyline points="451.0,882.9 520.0,929.9 589.1,872.8 658.1,946.3"/>
<polyline points="451.0,882.9 520.0,914.7 589.1,896.1 658.1,958.6"/>
<polyline points="451.0,882.9 520.0,941.5 589.1,901.3 658.1,939.6"/>
<polyline points="451.0,882.9 520.0,923.1 589.1,897.6 658.1,941.6"/>
<polyline points="451.0,882.9 520.0,918.3 589.1,906.9 658.1,925.9"/>
<polyline points="451.0,882.9 520.0,952.9 589.1,883.1 658.1,959.1"/>
<polyline points="451.0,882.9 520.0,916.0 589.1,909.1 658.1,949.2"/>
<polyline points="451.0,882.9 520.0,938.3 589.1,875.0 658.1,963.6"/>
<polyline points="451.0,882.9 520.0,945.5 589.1,896.2 658.1,934.3"/>
<polyline points="451.0,882.9 520.0,923.8 589.1,918.5 658.1,954.1"/>
<polyline points="451.0,882.9 520.0,908.7 589.1,919.8 658.1,926.6"/>
<polyline points="451.0,882.9 520.0,911.8 589.1,897.8 658.1,966.3"/>
<polyline points="451.0,882.9 520.0,922.3 589.1,896.6 658.1,948.1"/>
<polyline points="451.0,882.9 520.0,941.0 589.1,905.3 658.1,935.5"/>
<polyline points="451.0,882.9 520.0,939.2 589.1,898.1 658.1,914.9"/>
<polyline points="451.0,882.9 520.0,916.9 589.1,902.1 658.1,917.1"/>
<polyline points="451.0,882.9 520.0,908.5 589.1,883.3 658.1,957.2"/>
<polyline points="451.0,882.9 520.0,956.1 589.1,885.3 658.1,938.6"/>
<polyline points="451.0,882.9 520.0,930.9 589.1,891.2 658.1,949.7"/>
<polyline points="451.0,882.9 520.0,935.2 589.1,866.3 658.1,974.4"/>
<polyline points="451.0,882.9 520.0,909.9 589.1,881.2 658.1,934.4"/>
<polyline points="451.0,882.9 520.0,915.6 589.1,917.5 658.1,939.2"/>
<polyline points="451.0,882.9 520.0,961.0 589.1,911.0 658.1,940.5"/>
<polyline points="451.0,882.9 520.0,926.3 589.1,909.3 658.1,914.6"/>
<polyline points="451.0,882.9 520.0,952.1 589.1,897.8 658.1,948.6"/>
<polyline points="451.0,882.9 520.0,923.8 589.1,899.3 658.1,963.1"/>
<polyline points="451.0,882.9 520.0,901.2 589.1,873.9 658.1,942.7"/>
<polyline points="451.0,882.9 520.0,935.2 589.1,923.6 658.1,958.6"/>
<polyline points="451.0,882.9 520.0,962.1 589.1,891.8 658.1,955.0"/>
<polyline points="451.0,882.9 520.0,919.0 589.1,925.7 658.1,951.2"/>
<polyline points="451.0,882.9 520.0,921.1 589.1,898.0 658.1,960.5"/>
<polyline points="451.0,882.9 520.0,929.4 589.1,909.0 658.1,929.4"/>
<polyline points="451.0,882.9 520.0,919.7 589.1,896.1 658.1,952.7"/>
<polyline points="451.0,882.9 520.0,910.8 589.1,910.9 658.1,957.9"/>
<polyline points="451.0,882.9 520.0,932.0 589.1,906.4 658.1,946.6"/>
<polyline points="451.0,882.9 520.0,958.0 589.1,874.9 658.1,926.3"/>
<polyline points="451.0,882.9 520.0,901.5 589.1,907.8 658.1,923.6"/>
<polyline points="451.0,882.9 520.0,921.0 589.1,899.8 658.1,952.8"/>
<polyline points="451.0,882.9 520.0,914.5 589.1,932.9 658.1,927.7"/>
<polyline points="451.0,882.9 520.0,927.5 589.1,919.5 658.1,952.8"/>
<polyline points="451.0,882.9 520.0,961.3 589.1,920.3 658.1,936.2"/>
<polyline points="451.0,882.9 520.0,905.7 589.1,882.0 658.1,956.2"/>
<polyline points="451.0,882.9 520.0,950.3 589.1,926.7 658.1,967.7"/>
<polyline points="451.0,882.9 520.0,937.6 589.1,921.6 658.1,923.5"/>
<polyline points="451.0,882.9 520.0,902.8 589.1,918.2 658.1,945.7"/>
<polyline points="451.0,882.9 520.0,912.8 589.1,912.7 658.1,912.8"/>
<polyline points="451.0,882.9 520.0,925.3 589.1,915.9 658.1,927.0"/>
<polyline points="451.0,882.9 520.0,918.6 589.1,914.4 658.1,943.0"/>
<polyline points="451.0,882.9 520.0,923.0 589.1,890.8 658.1,915.0"/>
<polyline points="451.0,882.9 520.0,932.9 589.1,924.8 658.1,975.2"/>
<polyline points="451.0,882.9 520.0,931.8 589.1,908.1 658.1,915.6"/>
<polyline points="451.0,882.9 520.0,927.5 589.1,913.4 658.1,951.4"/>
<polyline points="451.0,882.9 520.0,913.2 589.1,892.4 658.1,931.2"/>
<polyline points="451.0,882.9 520.0,900.9 589.1,920.9 658.1,930.4"/>
<polyline points="451.0,882.9 520.0,914.2 589.1,914.4 658.1,919.9"/>
<polyline points="451.0,882.9 520.0,933.8 589.1,921.9 658.1,923.5"/>
<polyline points="451.0,882.9 520.0,928.0 589.1,911.3 658.1,941.9"/>
<polyline points="451.0,882.9 520.0,920.9 589.1,897.6 658.1,944.5"/>
<polyline points="451.0,882.9 520.0,916.4 589.1,878.1 658.1,951.1"/>
<polyline points="451.0,882.9 520.0,932.9 589.1,929.6 658.1,970.2"/>
<polyline points="451.0,882.9 520.0,960.2 589.1,878.6 658.1,964.0"/>
<polyline points="451.0,882.9 520.0,949.5 589.1,911.1 658.1,944.5"/>
<polyline points="451.0,882.9 520.0,946.3 589.1,911.3 658.1,940.1"/>
<polyline points="451.0,882.9 520.0,913.3 589.1,918.4 658.1,927.9"/>
<polyline points="451.0,882.9 520.0,920.1 589.1,890.1 658.1,951.8"/>
<polyline points="451.0,882.9 520.0,945.0 589.1,882.3 658.1,927.4"/>
<polyline points="451.0,882.9 520.0,936.4 589.1,915.4 658.1,925.0"/>
<polyline points="451.0,882.9 520.0,918.2 589.1,894.6 658.1,932.6"/>
<polyline points="451.0,882.9 520.0,916.2 589.1,879.9 658.1,973.0"/>
<polyline points="451.0,882.9 520.0,922.0 589.1,876.5 658.1,974.3"/>
<polyline points="451.0,882.9 520.0,920.5 589.1,886.3 658.1,940.7"/>
<polyline points="451.0,882.9 520.0,944.0 589.1,927.0 658.1,925.4"/>
<polyline points="451.0,882.9 520.0,944.6 589.1,879.8 658.1,921.0"/>
<polyline points="451.0,882.9 520.0,911.8 589.1,908.9 658.1,968.0"/>
<polyline points="451.0,882.9 520.0,954.2 589.1,904.6 658.1,943.5"/>
<polyline points="451.0,882.9 520.0,933.6 589.1,911.1 658.1,919.8"/>
<polyline points="451.0,882.9 520.0,944.5 589.1,914.5 658.1,954.0"/>
<polyline points="451.0,882.9 520.0,935.8 589.1,880.2 658.1,979.7"/>
<polyline points="451.0,882.9 520.0,947.0 589.1,916.3 658.1,968.3"/>
<polyline points="451.0,882.9 520.0,941.4 589.1,914.5 658.1,919.6"/>
<polyline points="451.0,882.9 520.0,925.8 589.1,874.3 658.1,923.0"/>
<polyline points="451.0,882.9 520.0,946.4 589.1,900.1 658.1,953.5"/>
<polyline points="451.0,882.9 520.0,932.2 589.1,898.1 658.1,931.9"/>
<polyline points="451.0,882.9 520.0,917.0 589.1,903.5 658.1,950.2"/>
<polyline points="451.0,882.9 520.0,928.9 589.1,901.2 658.1,940.0"/>
<polyline points="451.0,882.9 520.0,910.9 589.1,922.3 658.1,942.9"/>
<polyline points="451.0,882.9 520.0,926.8 589.1,900.9 658.1,945.7"/>
<polyline points="451.0,882.9 520.0,934.2 589.1,898.9 658.1,969.1"/>
<polyline points="451.0,882.9 520.0,924.8 589.1,935.2 658.1,946.4"/>
<polyline points="451.0,882.9 520.0,908.0 589.1,904.3 658.1,943.5"/>
<polyline points="451.0,882.9 520.0,923.6 589.1,909.1 658.1,931.7"/>
<polyline points="451.0,882.9 520.0,951.0 589.1,911.2 658.1,934.7"/>
<polyline points="451.0,882.9 520.0,920.4 589.1,886.5 658.1,947.2"/>
<polyline points="451.0,882.9 520.0,923.9 589.1,919.7 658.1,969.1"/>
<polyline points="451.0,882.9 520.0,948.6 589.1,911.7 658.1,912.6"/>
<polyline points="451.0,882.9 520.0,925.3 589.1,877.7 658.1,923.2"/>
<polyline points="451.0,882.9 520.0,921.9 589.1,910.1 658.1,915.2"/>
<polyline points="451.0,882.9 520.0,902.8 589.1,871.6 658.1,935.1"/>
<polyline points="451.0,882.9 520.0,917.9 589.1,889.9 658.1,962.4"/>
<polyline points="451.0,882.9 520.0,956.6 589.1,909.7 658.1,939.9"/>
<polyline points="451.0,882.9 520.0,934.9 589.1,882.8 658.1,926.8"/>
<polyline points="451.0,882.9 520.0,925.2 589.1,899.0 658.1,948.1"/>
<polyline points="451.0,882.9 520.0,902.9 589.1,922.3 658.1,980.2"/>
<polyline points="451.0,882.9 520.0,909.0 589.1,887.4 658.1,933.6"/>
<polyline points="451.0,882.9 520.0,919.5 589.1,888.7 658.1,921.1"/>
<polyline points="451.0,882.9 520.0,921.2 589.1,925.8 658.1,956.2"/>
<polyline points="451.0,882.9 520.0,934.8 589.1,888.8 658.1,940.8"/>
<polyline points="451.0,882.9 520.0,915.0 589.1,873.0 658.1,949.9"/>
<polyline points="451.0,882.9 520.0,918.6 589.1,901.2 658.1,959.3"/>
<polyline points="451.0,882.9 520.0,941.1 589.1,932.0 658.1,928.4"/>
<polyline points="451.0,882.9 520.0,917.4 589.1,886.4 658.1,921.0"/>
<polyline points="451.0,882.9 520.0,945.4 589.1,907.1 658.1,963.3"/>
<polyline points="451.0,882.9 520.0,902.6 589.1,883.5 658.1,971.2"/>
<polyline points="451.0,882.9 520.0,914.7 589.1,897.8 658.1,936.8"/>
<polyline points="451.0,882.9 520.0,911.9 589.1,911.5 658.1,946.4"/>
<polyline points="451.0,882.9 520.0,935.9 589.1,912.6 658.1,962.4"/>
<polyline points="451.0,882.9 520.0,903.8 589.1,888.8 658.1,944.8"/>
<polyline points="451.0,882.9 520.0,953.1 589.1,899.3 658.1,935.0"/>
<polyline points="451.0,882.9 520.0,912.7 589.1,867.4 658.1,946.0"/>
<polyline points="451.0,882.9 520.0,929.6 589.1,900.3 658.1,952.0"/>
<polyline points="451.0,882.9 520.0,932.0 589.1,893.9 658.1,957.2"/>
<polyline points="451.0,882.9 520.0,910.8 589.1,913.1 658.1,921.3"/>
<polyline points="451.0,882.9 520.0,921.7 589.1,896.8 658.1,932.5"/>
<polyline points="451.0,882.9 520.0,952.2 589.1,908.5 658.1,934.6"/>
<polyline points="451.0,882.9 520.0,930.8 589.1,877.2 658.1,920.2"/>
<polyline points="451.0,882.9 520.0,936.8 589.1,877.5 658.1,944.3"/>
<polyline points="451.0,882.9 520.0,914.4 589.1,876.6 658.1,963.8"/>
<polyline points="451.0,882.9 520.0,938.4 589.1,901.0 658.1,944.6"/>
<polyline points="451.0,882.9 520.0,953.4 589.1,887.3 658.1,935.8"/>
<polyline points="451.0,882.9 520.0,920.6 589.1,894.0 658.1,923.6"/>
<polyline points="451.0,882.9 520.0,938.4 589.1,893.8 658.1,948.8"/>
<polyline points="451.0,882.9 520.0,932.5 589.1,916.4 658.1,912.9"/>
<polyline points="451.0,882.9 520.0,936.6 589.1,886.9 658.1,946.5"/>
<polyline points="451.0,882.9 520.0,935.6 589.1,880.1 658.1,960.0"/>
<polyline points="451.0,882.9 520.0,929.1 589.1,892.2 658.1,950.9"/>
<polyline points="451.0,882.9 520.0,933.2 589.1,898.6 658.1,918.1"/>
<polyline points="451.0,882.9 520.0,940.3 589.1,889.9 658.1,940.9"/>
<polyline points="451.0,882.9 520.0,930.2 589.1,925.1 658.1,927.1"/>
<polyline points="451.0,882.9 520.0,919.5 589.1,905.9 658.1,953.6"/>
<polyline points="451.0,882.9 520.0,941.8 589.1,914.8 658.1,940.6"/>
<polyline points="451.0,882.9 520.0,918.5 589.1,894.5 658.1,933.7"/>
<polyline points="451.0,882.9 520.0,905.4 589.1,906.2 658.1,951.4"/>
<polyline points="451.0,882.9 520.0,928.8 589.1,881.3 658.1,913.1"/>
<polyline points="451.0,882.9 520.0,924.2 589.1,878.2 658.1,973.5"/>
<polyline points="451.0,882.9 520.0,907.8 589.1,891.5 658.1,919.8"/>
<polyline points="451.0,882.9 520.0,915.7 589.1,887.2 658.1,949.2"/>
<polyline points="451.0,882.9 520.0,960.4 589.1,895.1 658.1,953.3"/>
<polyline points="451.0,882.9 520.0,943.9 589.1,897.6 658.1,940.0"/>
<polyline points="451.0,882.9 520.0,910.0 589.1,900.0 658.1,962.7"/>
<polyline points="451.0,882.9 520.0,926.5 589.1,877.7 658.1,922.8"/>
<polyline points="451.0,882.9 520.0,936.7 589.1,923.6 658.1,967.4"/>
<polyline points="451.0,882.9 520.0,926.0 589.1,902.9 658.1,947.3"/>
<polyline points="451.0,882.9 520.0,933.2 589.1,896.4 658.1,917.5"/>
<polyline points="451.0,882.9 520.0,931.7 589.1,885.0 658.1,944.9"/>
<polyline points="451.0,882.9 520.0,901.6 589.1,880.4 658.1,918.8"/>
<polyline points="451.0,882.9 520.0,905.9 589.1,882.5 658.1,962.0"/>
<polyline points="451.0,882.9 520.0,929.7 589.1,906.3 658.1,920.5"/>
<polyline points="451.0,882.9 520.0,923.3 589.1,923.4 658.1,956.0"/>
<polyline points="451.0,882.9 520.0,927.5 589.1,908.5 658.1,949.4"/>
<polyline points="451.0,882.9 520.0,949.7 589.1,897.3 658.1,967.6"/>
<polyline points="451.0,882.9 520.0,930.8 589.1,911.6 658.1,946.1"/>
<polyline points="451.0,882.9 520.0,931.5 589.1,907.5 658.1,958.7"/>
<polyline points="451.0,882.9 520.0,919.8 589.1,905.9 658.1,922.0"/>
<polyline points="451.0,882.9 520.0,929.2 589.1,884.7 658.1,933.6"/>
<polyline points="451.0,882.9 520.0,905.1 589.1,905.1 658.1,919.7"/>
<polyline points="451.0,882.9 520.0,932.4 589.1,914.5 658.1,914.4"/>
<polyline points="451.0,882.9 520.0,948.1 589.1,917.3 658.1,935.6"/>
<polyline points="451.0,882.9 520.0,917.5 589.1,895.5 658.1,940.1"/>
<polyline points="451.0,882.9 520.0,923.3 589.1,872.8 658.1,939.4"/>
<polyline points="451.0,882.9 520.0,936.2 589.1,905.0 658.1,938.3"/>
<polyline points="451.0,882.9 520.0,934.7 589.1,891.6 658.1,973.0"/>
<polyline points="451.0,882.9 520.0,914.3 589.1,902.4 658.1,930.8"/>
<polyline points="451.0,882.9 520.0,922.5 589.1,908.6 658.1,937.9"/>
<polyline points="451.0,882.9 520.0,923.9 589.1,880.2 658.1,940.9"/>
<polyline points="451.0,882.9 520.0,926.3 589.1,924.4 658.1,920.2"/>
<polyline points="451.0,882.9 520.0,927.0 589.1,917.1 658.1,913.1"/>
<polyline points="451.0,882.9 520.0,907.9 589.1,900.3 658.1,938.3"/>
<polyline points="451.0,882.9 520.0,947.2 589.1,897.5 658.1,972.2"/>
<polyline points="451.0,882.9 520.0,912.9 589.1,906.6 658.1,934.1"/>
<polyline points="451.0,882.9 520.0,933.7 589.1,891.9 658.1,922.3"/>
<polyline points="451.0,882.9 520.0,922.1 589.1,885.7 658.1,922.8"/>
<polyline points="451.0,882.9 520.0,926.8 589.1,932.1 658.1,925.7"/>
<polyline points="451.0,882.9 520.0,934.7 589.1,919.6 658.1,980.0"/>
<polyline points="451.0,882.9 520.0,955.2 589.1,874.9 658.1,981.4"/>
<polyline points="451.0,882.9 520.0,911.1 589.1,926.4 658.1,971.8"/>
<polyline points="451.0,882.9 520.0,913.5 589.1,882.5 658.1,959.7"/>
<polyline points="451.0,882.9 520.0,953.1 589.1,930.1 658.1,944.2"/>
<polyline points="451.0,882.9 520.0,909.1 589.1,891.8 658.1,962.3"/>
<polyline points="451.0,882.9 520.0,943.5 589.1,899.5 658.1,926.0"/>
<polyline points="451.0,882.9 520.0,959.9 589.1,895.2 658.1,953.9"/>
<polyline points="451.0,882.9 520.0,910.0 589.1,932.1 658.1,919.2"/>
<polyline points="451.0,882.9 520.0,922.5 589.1,898.5 658.1,964.4"/>
<polyline points="451.0,882.9 520.0,925.2 589.1,915.7 658.1,926.9"/>
<polyline points="451.0,882.9 520.0,911.7 589.1,903.2 658.1,969.5"/>
<polyline points="451.0,882.9 520.0,934.6 589.1,868.2 658.1,945.6"/>
<polyline points="451.0,882.9 520.0,912.6 589.1,872.3 658.1,955.5"/>
<polyline points="451.0,882.9 520.0,936.5 589.1,881.9 658.1,938.6"/>
<polyline points="451.0,882.9 520.0,955.2 589.1,875.2 658.1,961.1"/>
<polyline points="451.0,882.9 520.0,931.0 589.1,913.0 658.1,950.1"/>
<polyline points="451.0,882.9 520.0,932.3 589.1,907.5 658.1,950.8"/>
<polyline points="451.0,882.9 520.0,919.7 589.1,889.3 658.1,953.5"/>
<polyline points="451.0,882.9 520.0,915.5 589.1,898.9 658.1,952.5"/>
<polyline points="451.0,882.9 520.0,910.9 589.1,933.3 658.1,955.5"/>
<polyline points="451.0,882.9 520.0,930.8 589.1,893.9 658.1,937.2"/>
<polyline points="451.0,882.9 520.0,950.5 589.1,889.4 658.1,950.0"/>
<polyline points="451.0,882.9 520.0,934.0 589.1,898.3 658.1,947.5"/>
<polyline points="451.0,882.9 520.0,1014.4 589.1,912.0 658.1,941.1"/>
<polyline points="451.0,882.9 520.0,997.0 589.1,920.7 658.1,955.6"/>
<polyline points="451.0,882.9 520.0,970.8 589.1,906.2 658.1,970.2"/>
<polyline points="451.0,882.9 520.0,967.3 589.1,935.3 658.1,976.0"/>
<polyline points="451.0,882.9 520.0,912.0 589.1,840.4 658.1,941.1"/>
<polyline points="451.0,882.9 520.0,917.8 589.1,845.1 658.1,926.5"/>
<polyline points="451.0,882.9 520.0,906.2 589.1,848.0 658.1,955.6"/>
<polyline points="451.0,882.9 520.0,926.5 589.1,856.7 658.1,917.8"/>
<polyline points="451.0,882.9 520.0,920.7 589.1,862.5 658.1,970.2"/>
<polyline points="451.0,882.9 520.0,941.1 589.1,946.9 658.1,1010.4"/>
<polyline points="451.0,882.9 520.0,926.5 589.1,929.5 658.1,999.3"/>
<polyline points="451.0,882.9 520.0,946.9 589.1,912.0 658.1,996.4"/>
<polyline points="451.0,882.9 520.0,912.0 589.1,941.1 658.1,984.8"/>
<polyline points="451.0,882.9 520.0,903.3 589.1,917.8 658.1,993.5"/>
<polyline points="451.0,882.9 520.0,935.3 589.1,877.1 658.1,1002.2"/>
<polyline points="451.0,882.9 520.0,958.6 589.1,938.2 658.1,987.7"/>
<polyline points="451.0,882.9 520.0,914.9 589.1,850.9 658.1,935.3"/>
<polyline points="451.0,882.9 520.0,909.1 589.1,859.6 658.1,946.9"/>
<polyline points="451.0,882.9 520.0,923.6 589.1,853.8 658.1,958.6"/>
<polyline points="451.0,882.9 520.0,929.5 589.1,864.0 658.1,923.6"/>
<polyline points="451.0,882.9 520.0,917.8 589.1,861.1 658.1,978.9"/>
<polyline points="451.0,882.9 520.0,941.1 589.1,923.6 658.1,1005.1"/>
<polyline points="451.0,882.9 520.0,932.4 589.1,909.1 658.1,997.8"/>
<polyline points="451.0,882.9 520.0,952.7 589.1,917.8 658.1,990.6"/>
</g>
<line x1="451.0" y1="882.9" x2="658.09" y2="882.9" stroke="#e34545" stroke-width="1.5"/>
<polyline points="451.0,882.9 520.0,924.5 589.1,900.4 658.1,939.9" stroke="#3448b0" stroke-width="1.4" fill="none"/>
<rect x="443.0" y="833.6" width="222.7" height="187.5" fill="none" stroke="#222" stroke-width="1.4"/>
<line x1="432.7" y1="999.3" x2="443.0" y2="999.3" stroke="#222" stroke-width="1.3"/>
<text transform="translate(423.8,1004.0) scale(1.175,1)" font-size="13" fill="#222" text-anchor="end">-4</text>
<line x1="432.7" y1="970.2" x2="443.0" y2="970.2" stroke="#222" stroke-width="1.3"/>
<text transform="translate(423.8,974.9) scale(1.175,1)" font-size="13" fill="#222" text-anchor="end">-3</text>
<line x1="432.7" y1="941.1" x2="443.0" y2="941.1" stroke="#222" stroke-width="1.3"/>
<text transform="translate(423.8,945.8) scale(1.175,1)" font-size="13" fill="#222" text-anchor="end">-2</text>
<line x1="432.7" y1="912.0" x2="443.0" y2="912.0" stroke="#222" stroke-width="1.3"/>
<text transform="translate(423.8,916.7) scale(1.175,1)" font-size="13" fill="#222" text-anchor="end">-1</text>
<line x1="432.7" y1="882.9" x2="443.0" y2="882.9" stroke="#222" stroke-width="1.3"/>
<text transform="translate(423.8,887.6) scale(1.175,1)" font-size="13" fill="#222" text-anchor="end">0</text>
<line x1="432.7" y1="853.8" x2="443.0" y2="853.8" stroke="#222" stroke-width="1.3"/>
<text transform="translate(423.8,858.5) scale(1.175,1)" font-size="13" fill="#222" text-anchor="end">1</text>
<line x1="451.0" y1="1021.1" x2="451.0" y2="1029.5" stroke="#222" stroke-width="1.3"/>
<text transform="translate(453.2,1049.1) rotate(-90) scale(1,1.175)" font-size="6.1" fill="#222">AAL</text>
<line x1="520.0" y1="1021.1" x2="520.0" y2="1029.5" stroke="#222" stroke-width="1.3"/>
<text transform="translate(522.2,1049.1) rotate(-90) scale(1,1.175)" font-size="6.1" fill="#222">DGL</text>
<line x1="589.1" y1="1021.1" x2="589.1" y2="1029.5" stroke="#222" stroke-width="1.3"/>
<text transform="translate(591.3,1049.1) rotate(-90) scale(1,1.175)" font-size="6.1" fill="#222">AAB</text>
<line x1="658.1" y1="1021.1" x2="658.1" y2="1029.5" stroke="#222" stroke-width="1.3"/>
<text transform="translate(660.3,1049.1) rotate(-90) scale(1,1.175)" font-size="6.1" fill="#222">DGB</text>
<text transform="translate(382.5,927.4) rotate(-90) scale(1,1.1)" font-size="13" fill="#222" text-anchor="middle">log2(ratio)</text>
</svg></body></html>
